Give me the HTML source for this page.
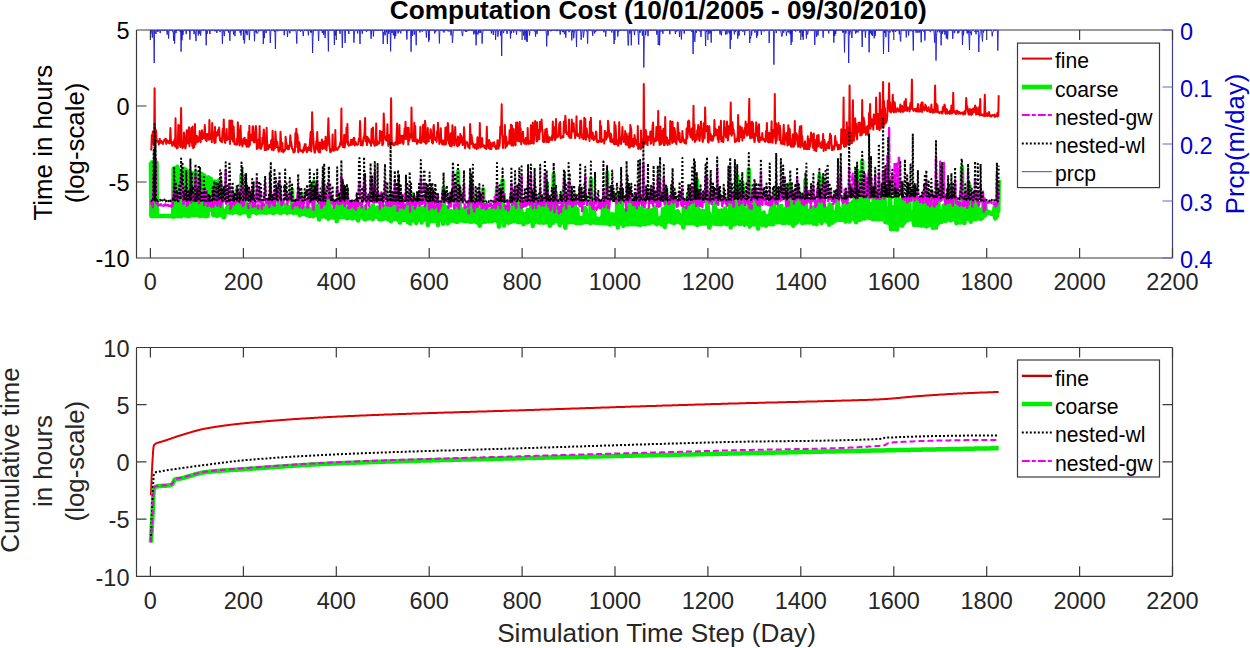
<!DOCTYPE html><html><head><meta charset="utf-8"><style>html,body{margin:0;padding:0;background:#fff;width:1250px;height:648px;overflow:hidden;}svg{position:absolute;left:0;top:0;display:block}text{font-family:"Liberation Sans",sans-serif}</style></head><body>
<svg width="1250" height="648" viewBox="0 0 1250 648">
<defs><clipPath id="c1"><rect x="136.5" y="29.0" width="1036.0" height="229.0"/></clipPath><clipPath id="c2"><rect x="136.5" y="347.5" width="1036.0" height="228.8"/></clipPath></defs>
<path fill="none" stroke="#3a3a3a" stroke-width="1.2" d="M136.5 30.0 V258.0 H1172.5"/>
<path fill="none" stroke="#3a3a3a" stroke-width="1.2" d="M136.5 30.0 H1172.5"/>
<path fill="none" stroke="#3d3d8f" stroke-width="1.2" d="M1172.5 30.0 V258.0"/>
<path fill="none" stroke="#3a3a3a" stroke-width="1.2" d="M150.4 258.0v-10M150.4 30.0v10M243.4 258.0v-10M243.4 30.0v10M336.3 258.0v-10M336.3 30.0v10M429.2 258.0v-10M429.2 30.0v10M522.1 258.0v-10M522.1 30.0v10M615.0 258.0v-10M615.0 30.0v10M707.9 258.0v-10M707.9 30.0v10M800.8 258.0v-10M800.8 30.0v10M893.8 258.0v-10M893.8 30.0v10M986.7 258.0v-10M986.7 30.0v10M1079.6 258.0v-10M1079.6 30.0v10M1172.5 258.0v-10M1172.5 30.0v10"/>
<text x="150.4" y="290.2" font-size="23.5" fill="#262626" text-anchor="middle">0</text>
<text x="243.4" y="290.2" font-size="23.5" fill="#262626" text-anchor="middle">200</text>
<text x="336.3" y="290.2" font-size="23.5" fill="#262626" text-anchor="middle">400</text>
<text x="429.2" y="290.2" font-size="23.5" fill="#262626" text-anchor="middle">600</text>
<text x="522.1" y="290.2" font-size="23.5" fill="#262626" text-anchor="middle">800</text>
<text x="615.0" y="290.2" font-size="23.5" fill="#262626" text-anchor="middle">1000</text>
<text x="707.9" y="290.2" font-size="23.5" fill="#262626" text-anchor="middle">1200</text>
<text x="800.8" y="290.2" font-size="23.5" fill="#262626" text-anchor="middle">1400</text>
<text x="893.8" y="290.2" font-size="23.5" fill="#262626" text-anchor="middle">1600</text>
<text x="986.7" y="290.2" font-size="23.5" fill="#262626" text-anchor="middle">1800</text>
<text x="1079.6" y="290.2" font-size="23.5" fill="#262626" text-anchor="middle">2000</text>
<text x="1172.5" y="290.2" font-size="23.5" fill="#262626" text-anchor="middle">2200</text>
<path fill="none" stroke="#3a3a3a" stroke-width="1.2" d="M136.5 347.5 V576.3 H1172.5"/>
<path fill="none" stroke="#3a3a3a" stroke-width="1.2" d="M136.5 347.5 H1172.5"/>
<path fill="none" stroke="#3a3a3a" stroke-width="1.2" d="M1172.5 347.5 V576.3"/>
<path fill="none" stroke="#3a3a3a" stroke-width="1.2" d="M150.4 576.3v-10M150.4 347.5v10M243.4 576.3v-10M243.4 347.5v10M336.3 576.3v-10M336.3 347.5v10M429.2 576.3v-10M429.2 347.5v10M522.1 576.3v-10M522.1 347.5v10M615.0 576.3v-10M615.0 347.5v10M707.9 576.3v-10M707.9 347.5v10M800.8 576.3v-10M800.8 347.5v10M893.8 576.3v-10M893.8 347.5v10M986.7 576.3v-10M986.7 347.5v10M1079.6 576.3v-10M1079.6 347.5v10M1172.5 576.3v-10M1172.5 347.5v10"/>
<text x="150.4" y="608.5" font-size="23.5" fill="#262626" text-anchor="middle">0</text>
<text x="243.4" y="608.5" font-size="23.5" fill="#262626" text-anchor="middle">200</text>
<text x="336.3" y="608.5" font-size="23.5" fill="#262626" text-anchor="middle">400</text>
<text x="429.2" y="608.5" font-size="23.5" fill="#262626" text-anchor="middle">600</text>
<text x="522.1" y="608.5" font-size="23.5" fill="#262626" text-anchor="middle">800</text>
<text x="615.0" y="608.5" font-size="23.5" fill="#262626" text-anchor="middle">1000</text>
<text x="707.9" y="608.5" font-size="23.5" fill="#262626" text-anchor="middle">1200</text>
<text x="800.8" y="608.5" font-size="23.5" fill="#262626" text-anchor="middle">1400</text>
<text x="893.8" y="608.5" font-size="23.5" fill="#262626" text-anchor="middle">1600</text>
<text x="986.7" y="608.5" font-size="23.5" fill="#262626" text-anchor="middle">1800</text>
<text x="1079.6" y="608.5" font-size="23.5" fill="#262626" text-anchor="middle">2000</text>
<text x="1172.5" y="608.5" font-size="23.5" fill="#262626" text-anchor="middle">2200</text>
<path fill="none" stroke="#3a3a3a" stroke-width="1.2" d="M136.5 106.0h10M136.5 182.0h10"/>
<text x="129.5" y="39.2" font-size="23.5" fill="#000" text-anchor="end">5</text>
<text x="129.5" y="115.2" font-size="23.5" fill="#000" text-anchor="end">0</text>
<text x="129.5" y="191.2" font-size="23.5" fill="#000" text-anchor="end">-5</text>
<text x="129.5" y="267.2" font-size="23.5" fill="#000" text-anchor="end">-10</text>
<path fill="none" stroke="#6464d4" stroke-width="1.2" d="M1172.5 30.0h-10M1172.5 87.0h-10M1172.5 144.0h-10M1172.5 201.0h-10M1172.5 258.0h-10"/>
<text x="1180" y="39.5" font-size="23.5" fill="#0000d0">0</text>
<text x="1180" y="96.5" font-size="23.5" fill="#0000d0">0.1</text>
<text x="1180" y="153.5" font-size="23.5" fill="#0000d0">0.2</text>
<text x="1180" y="210.5" font-size="23.5" fill="#0000d0">0.3</text>
<text x="1180" y="267.5" font-size="23.5" fill="#0000d0">0.4</text>
<path fill="none" stroke="#3a3a3a" stroke-width="1.2" d="M136.5 404.7h10M1172.5 404.7h-10M136.5 461.9h10M1172.5 461.9h-10M136.5 519.1h10M1172.5 519.1h-10"/>
<text x="129.5" y="356.8" font-size="23.5" fill="#262626" text-anchor="end">10</text>
<text x="129.5" y="414.0" font-size="23.5" fill="#262626" text-anchor="end">5</text>
<text x="129.5" y="471.2" font-size="23.5" fill="#262626" text-anchor="end">0</text>
<text x="129.5" y="528.4" font-size="23.5" fill="#262626" text-anchor="end">-5</text>
<text x="129.5" y="585.6" font-size="23.5" fill="#262626" text-anchor="end">-10</text>
<g clip-path="url(#c1)" fill="none" stroke-linejoin="round">
<path stroke="#f00000" stroke-width="2" d="M150.9 150.4 151.4 148.9 151.8 135.1 152.3 143.2 152.8 131.6 153.2 132.4 153.7 145.0 154.2 133.6 154.6 88.2 155.1 142.7 155.5 129.3 156.0 131.1 156.5 137.7 156.9 140.0 157.4 141.6 157.9 142.2 158.3 141.2 158.8 144.5 159.3 143.2 159.7 138.8 160.2 140.3 160.7 141.5 161.1 142.9 161.6 140.9 162.1 141.9 162.5 141.7 163.0 144.0 163.4 142.1 163.9 141.1 164.4 139.5 164.8 139.3 165.3 140.7 165.8 138.7 166.2 143.9 166.7 140.8 167.2 141.4 167.6 140.4 168.1 142.8 168.6 141.3 169.0 141.1 169.5 143.5 169.9 143.0 170.4 127.9 170.9 139.3 171.3 143.2 171.8 142.9 172.3 145.7 172.7 144.7 173.2 141.6 173.7 144.4 174.1 145.0 174.6 139.2 175.1 146.4 175.5 118.2 176.0 143.6 176.5 147.2 176.9 148.4 177.4 146.0 177.8 147.7 178.3 124.9 178.8 132.6 179.2 125.6 179.7 143.4 180.2 146.6 180.6 146.9 181.1 108.1 181.6 144.7 182.0 143.2 182.5 148.2 183.0 146.2 183.4 146.8 183.9 132.5 184.4 136.3 184.8 143.8 185.3 148.4 185.7 147.1 186.2 142.7 186.7 130.2 187.1 135.6 187.6 142.4 188.1 143.5 188.5 131.3 189.0 127.3 189.5 146.2 189.9 133.9 190.4 139.6 190.9 141.9 191.3 128.1 191.8 136.5 192.2 145.9 192.7 126.6 193.2 148.2 193.6 145.9 194.1 147.3 194.6 143.7 195.0 124.0 195.5 144.4 196.0 141.7 196.4 140.2 196.9 135.8 197.4 137.3 197.8 142.2 198.3 139.3 198.8 138.3 199.2 140.8 199.7 131.0 200.1 137.7 200.6 142.2 201.1 138.4 201.5 138.1 202.0 130.2 202.5 139.0 202.9 136.3 203.4 133.5 203.9 138.1 204.3 133.5 204.8 125.0 205.3 137.1 205.7 140.1 206.2 140.5 206.7 141.0 207.1 134.0 207.6 138.6 208.0 134.1 208.5 135.8 209.0 139.7 209.4 120.0 209.9 134.5 210.4 137.1 210.8 139.0 211.3 134.2 211.8 142.3 212.2 123.0 212.7 137.8 213.2 133.7 213.6 132.5 214.1 141.0 214.5 142.9 215.0 127.0 215.5 142.6 215.9 136.5 216.4 132.7 216.9 132.4 217.3 135.8 217.8 132.9 218.3 129.7 218.7 135.1 219.2 127.4 219.7 137.8 220.1 140.5 220.6 138.5 221.1 141.5 221.5 137.9 222.0 142.2 222.4 132.6 222.9 128.7 223.4 131.0 223.8 119.4 224.3 140.3 224.8 142.0 225.2 142.9 225.7 133.9 226.2 139.3 226.6 128.9 227.1 140.1 227.6 137.6 228.0 139.0 228.5 138.4 229.0 139.3 229.4 120.4 229.9 143.9 230.3 131.8 230.8 139.6 231.3 120.5 231.7 131.8 232.2 120.7 232.7 137.8 233.1 141.6 233.6 126.4 234.1 137.2 234.5 144.2 235.0 143.9 235.5 144.3 235.9 144.2 236.4 144.8 236.8 138.4 237.3 144.5 237.8 122.2 238.2 128.6 238.7 130.2 239.2 138.4 239.6 145.5 240.1 143.7 240.6 125.7 241.0 139.0 241.5 141.1 242.0 144.0 242.4 146.4 242.9 143.7 243.4 138.7 243.8 141.1 244.3 143.5 244.7 137.8 245.2 144.1 245.7 144.6 246.1 139.8 246.6 146.8 247.1 146.6 247.5 142.1 248.0 144.3 248.5 132.1 248.9 146.7 249.4 125.7 249.9 144.8 250.3 139.8 250.8 138.8 251.2 134.7 251.7 138.6 252.2 140.6 252.6 126.7 253.1 126.3 253.6 136.0 254.0 142.5 254.5 140.2 255.0 141.9 255.4 133.2 255.9 126.0 256.4 132.9 256.8 149.0 257.3 147.3 257.8 148.4 258.2 139.7 258.7 146.5 259.1 146.6 259.6 126.0 260.1 148.5 260.5 148.5 261.0 148.8 261.5 144.8 261.9 146.2 262.4 137.7 262.9 143.6 263.3 135.3 263.8 129.4 264.3 134.7 264.7 149.9 265.2 145.0 265.7 144.8 266.1 150.0 266.6 127.7 267.0 140.0 267.5 145.9 268.0 149.4 268.4 148.6 268.9 146.9 269.4 145.0 269.8 147.4 270.3 144.7 270.8 146.1 271.2 140.2 271.7 149.8 272.2 144.1 272.6 130.8 273.1 142.4 273.5 150.3 274.0 145.5 274.5 145.3 274.9 148.2 275.4 131.4 275.9 138.0 276.3 147.1 276.8 143.3 277.3 141.9 277.7 146.3 278.2 149.1 278.7 151.7 279.1 150.8 279.6 148.3 280.1 147.3 280.5 131.7 281.0 140.3 281.4 151.5 281.9 150.7 282.4 143.1 282.8 150.9 283.3 152.2 283.8 149.9 284.2 151.1 284.7 150.8 285.2 149.3 285.6 136.7 286.1 142.4 286.6 143.2 287.0 148.5 287.5 145.8 288.0 149.3 288.4 145.7 288.9 149.2 289.3 146.6 289.8 145.8 290.3 135.2 290.7 140.4 291.2 142.4 291.7 146.0 292.1 148.8 292.6 148.5 293.1 150.3 293.5 152.5 294.0 150.4 294.5 152.1 294.9 151.1 295.4 132.9 295.8 147.1 296.3 128.8 296.8 137.0 297.2 133.9 297.7 137.0 298.2 152.3 298.6 149.4 299.1 142.0 299.6 143.7 300.0 150.7 300.5 150.6 301.0 150.6 301.4 150.9 301.9 150.2 302.4 151.3 302.8 152.4 303.3 151.7 303.7 147.3 304.2 150.5 304.7 144.3 305.1 144.2 305.6 144.2 306.1 149.3 306.5 150.8 307.0 152.2 307.5 148.0 307.9 150.6 308.4 148.2 308.9 147.0 309.3 150.1 309.8 143.8 310.3 137.4 310.7 131.9 311.2 151.4 311.6 146.9 312.1 112.2 312.6 129.0 313.0 134.0 313.5 141.5 314.0 147.7 314.4 151.7 314.9 152.7 315.4 148.9 315.8 149.7 316.3 141.1 316.8 147.9 317.2 132.0 317.7 143.3 318.1 150.2 318.6 151.9 319.1 142.6 319.5 151.3 320.0 152.5 320.5 148.2 320.9 142.5 321.4 148.3 321.9 139.4 322.3 142.2 322.8 149.0 323.3 147.5 323.7 144.9 324.2 141.6 324.7 143.1 325.1 148.6 325.6 136.7 326.0 147.9 326.5 150.4 327.0 141.2 327.4 145.6 327.9 134.0 328.4 118.2 328.8 134.3 329.3 139.6 329.8 149.2 330.2 152.2 330.7 151.4 331.2 151.4 331.6 149.0 332.1 149.9 332.6 134.6 333.0 150.5 333.5 148.7 333.9 150.8 334.4 146.4 334.9 150.1 335.3 130.1 335.8 149.0 336.3 149.4 336.7 148.3 337.2 150.0 337.7 148.7 338.1 148.5 338.6 147.7 339.1 146.5 339.5 146.9 340.0 143.9 340.4 142.0 340.9 144.6 341.4 108.6 341.8 141.6 342.3 144.7 342.8 146.9 343.2 147.1 343.7 146.2 344.2 134.8 344.6 147.5 345.1 144.1 345.6 137.1 346.0 141.5 346.5 127.4 347.0 142.4 347.4 123.9 347.9 144.6 348.3 141.8 348.8 145.7 349.3 145.1 349.7 145.3 350.2 145.1 350.7 145.1 351.1 139.8 351.6 142.9 352.1 140.1 352.5 144.6 353.0 143.0 353.5 138.7 353.9 137.7 354.4 138.2 354.8 145.4 355.3 141.9 355.8 142.3 356.2 144.5 356.7 144.4 357.2 144.8 357.6 144.3 358.1 144.3 358.6 140.7 359.0 138.3 359.5 141.1 360.0 121.0 360.4 129.8 360.9 145.2 361.4 142.1 361.8 141.3 362.3 145.4 362.7 145.2 363.2 139.9 363.7 137.1 364.1 138.0 364.6 131.4 365.1 118.0 365.5 141.3 366.0 139.9 366.5 136.8 366.9 145.1 367.4 136.9 367.9 138.0 368.3 141.7 368.8 138.9 369.3 141.7 369.7 141.7 370.2 143.4 370.6 140.4 371.1 145.8 371.6 128.9 372.0 136.5 372.5 142.8 373.0 127.5 373.4 137.0 373.9 142.2 374.4 145.3 374.8 145.7 375.3 145.1 375.8 144.2 376.2 123.5 376.7 144.9 377.1 140.6 377.6 144.5 378.1 143.6 378.5 142.6 379.0 142.2 379.5 143.4 379.9 130.8 380.4 133.3 380.9 136.3 381.3 140.7 381.8 131.7 382.3 145.3 382.7 142.4 383.2 144.1 383.7 113.4 384.1 122.5 384.6 137.4 385.0 136.3 385.5 139.5 386.0 140.1 386.4 140.7 386.9 140.4 387.4 124.3 387.8 137.1 388.3 145.8 388.8 141.9 389.2 143.3 389.7 135.1 390.2 142.9 390.6 145.3 391.1 98.3 391.6 137.4 392.0 143.7 392.5 144.6 392.9 143.2 393.4 143.6 393.9 145.2 394.3 145.2 394.8 143.0 395.3 142.4 395.7 144.3 396.2 143.7 396.7 133.9 397.1 123.6 397.6 144.6 398.1 130.9 398.5 143.0 399.0 142.1 399.4 124.9 399.9 143.3 400.4 137.5 400.8 139.8 401.3 135.8 401.8 142.4 402.2 137.9 402.7 135.8 403.2 144.0 403.6 142.2 404.1 137.3 404.6 128.6 405.0 136.7 405.5 121.7 406.0 139.1 406.4 131.8 406.9 127.8 407.3 135.2 407.8 134.6 408.3 144.6 408.7 127.7 409.2 140.7 409.7 137.9 410.1 136.5 410.6 134.0 411.1 137.4 411.5 107.4 412.0 136.3 412.5 140.2 412.9 141.2 413.4 136.7 413.9 139.1 414.3 122.8 414.8 141.3 415.2 125.9 415.7 141.4 416.2 141.6 416.6 142.0 417.1 143.9 417.6 139.5 418.0 141.8 418.5 141.2 419.0 141.5 419.4 142.3 419.9 141.1 420.4 126.7 420.8 143.1 421.3 141.5 421.7 142.3 422.2 138.8 422.7 136.5 423.1 124.7 423.6 140.2 424.1 141.7 424.5 142.2 425.0 120.7 425.5 125.4 425.9 143.7 426.4 143.2 426.9 142.2 427.3 141.1 427.8 128.1 428.3 140.9 428.7 141.5 429.2 136.3 429.6 134.9 430.1 138.0 430.6 129.3 431.0 131.3 431.5 138.4 432.0 142.6 432.4 142.6 432.9 143.4 433.4 127.4 433.8 125.0 434.3 136.8 434.8 137.5 435.2 140.0 435.7 137.9 436.2 139.2 436.6 141.8 437.1 131.2 437.5 135.4 438.0 122.8 438.5 133.3 438.9 138.4 439.4 144.0 439.9 140.0 440.3 140.6 440.8 128.3 441.3 142.3 441.7 142.1 442.2 144.4 442.7 140.4 443.1 142.7 443.6 140.8 444.0 144.7 444.5 142.2 445.0 142.2 445.4 127.7 445.9 144.4 446.4 135.0 446.8 127.1 447.3 140.2 447.8 122.9 448.2 125.6 448.7 143.2 449.2 143.8 449.6 144.4 450.1 146.0 450.6 133.3 451.0 136.5 451.5 146.2 451.9 145.4 452.4 125.2 452.9 131.0 453.3 136.5 453.8 142.9 454.3 145.5 454.7 144.3 455.2 127.1 455.7 141.9 456.1 142.3 456.6 139.5 457.1 146.0 457.5 146.3 458.0 136.6 458.4 141.5 458.9 145.5 459.4 138.9 459.8 143.8 460.3 133.9 460.8 140.8 461.2 135.7 461.7 142.5 462.2 137.5 462.6 144.9 463.1 144.8 463.6 144.2 464.0 127.2 464.5 135.9 465.0 148.2 465.4 141.0 465.9 143.6 466.3 143.6 466.8 142.6 467.3 142.3 467.7 146.4 468.2 144.7 468.7 147.4 469.1 146.3 469.6 148.6 470.1 124.0 470.5 135.7 471.0 144.1 471.5 135.0 471.9 138.0 472.4 143.3 472.9 142.6 473.3 147.3 473.8 146.2 474.2 145.6 474.7 148.1 475.2 144.3 475.6 147.3 476.1 147.2 476.6 149.1 477.0 145.4 477.5 137.3 478.0 139.7 478.4 148.2 478.9 144.8 479.4 145.0 479.8 123.0 480.3 143.9 480.7 147.6 481.2 144.3 481.7 140.9 482.1 138.1 482.6 146.5 483.1 146.4 483.5 145.9 484.0 145.2 484.5 147.8 484.9 147.3 485.4 148.1 485.9 145.4 486.3 149.0 486.8 126.8 487.3 145.9 487.7 145.5 488.2 145.5 488.6 148.0 489.1 140.1 489.6 141.8 490.0 148.9 490.5 142.8 491.0 144.3 491.4 149.0 491.9 144.1 492.4 144.0 492.8 142.7 493.3 146.0 493.8 144.6 494.2 142.3 494.7 145.4 495.2 147.5 495.6 146.0 496.1 149.0 496.5 148.1 497.0 146.0 497.5 140.3 497.9 143.5 498.4 148.8 498.9 140.5 499.3 146.8 499.8 143.0 500.3 126.5 500.7 129.0 501.2 127.5 501.7 104.3 502.1 134.2 502.6 138.9 503.0 148.0 503.5 136.6 504.0 142.1 504.4 142.6 504.9 125.0 505.4 147.9 505.8 136.3 506.3 138.3 506.8 146.1 507.2 144.8 507.7 142.3 508.2 142.4 508.6 142.9 509.1 143.8 509.6 130.3 510.0 134.1 510.5 143.6 510.9 124.7 511.4 145.4 511.9 125.4 512.3 136.2 512.8 132.4 513.3 145.8 513.7 129.0 514.2 142.9 514.7 144.0 515.1 137.3 515.6 145.2 516.1 122.4 516.5 140.4 517.0 140.4 517.5 122.6 517.9 133.2 518.4 141.3 518.8 136.0 519.3 141.4 519.8 122.0 520.2 137.3 520.7 128.6 521.2 144.2 521.6 140.8 522.1 141.2 522.6 135.3 523.0 131.7 523.5 141.1 524.0 142.9 524.4 143.6 524.9 142.1 525.3 140.0 525.8 138.0 526.3 144.3 526.7 140.5 527.2 143.3 527.7 128.1 528.1 142.1 528.6 143.9 529.1 140.9 529.5 141.2 530.0 142.0 530.5 143.6 530.9 125.2 531.4 130.2 531.9 143.0 532.3 141.3 532.8 122.6 533.2 140.5 533.7 143.6 534.2 136.1 534.6 132.4 535.1 121.0 535.6 132.2 536.0 126.6 536.5 141.2 537.0 122.2 537.4 141.2 537.9 137.6 538.4 131.4 538.8 129.7 539.3 139.1 539.8 122.0 540.2 131.8 540.7 123.6 541.1 127.9 541.6 119.5 542.1 129.7 542.5 129.9 543.0 141.6 543.5 138.7 543.9 142.2 544.4 139.4 544.9 134.5 545.3 129.5 545.8 137.0 546.3 142.1 546.7 128.8 547.2 135.5 547.6 134.7 548.1 142.2 548.6 141.7 549.0 141.9 549.5 137.2 550.0 139.1 550.4 139.5 550.9 139.7 551.4 139.8 551.8 136.1 552.3 140.0 552.8 121.5 553.2 131.6 553.7 126.8 554.2 136.2 554.6 138.8 555.1 140.1 555.5 135.6 556.0 119.0 556.5 137.7 556.9 136.1 557.4 135.5 557.9 136.5 558.3 136.8 558.8 130.3 559.3 123.2 559.7 134.8 560.2 122.0 560.7 138.2 561.1 136.7 561.6 136.0 562.0 137.5 562.5 137.4 563.0 136.1 563.4 137.1 563.9 121.5 564.4 128.8 564.8 132.3 565.3 115.7 565.8 121.7 566.2 131.7 566.7 134.0 567.2 132.5 567.6 132.6 568.1 134.0 568.6 136.2 569.0 119.5 569.5 137.8 569.9 134.2 570.4 134.6 570.9 137.3 571.3 137.9 571.8 119.5 572.3 131.3 572.7 131.8 573.2 128.4 573.7 123.2 574.1 131.2 574.6 131.2 575.1 138.2 575.5 135.9 576.0 135.1 576.5 116.2 576.9 132.6 577.4 134.4 577.8 136.0 578.3 134.6 578.8 135.8 579.2 133.9 579.7 138.3 580.2 121.0 580.6 134.2 581.1 120.5 581.6 131.3 582.0 137.4 582.5 135.3 583.0 137.7 583.4 139.2 583.9 137.1 584.3 117.8 584.8 121.2 585.3 118.9 585.7 139.8 586.2 139.3 586.7 128.5 587.1 132.3 587.6 136.1 588.1 135.9 588.5 137.2 589.0 135.4 589.5 140.9 589.9 121.5 590.4 127.5 590.9 117.8 591.3 135.7 591.8 138.7 592.2 138.1 592.7 132.4 593.2 137.9 593.6 140.2 594.1 139.6 594.6 139.3 595.0 136.1 595.5 135.9 596.0 131.5 596.4 132.3 596.9 141.3 597.4 142.1 597.8 141.6 598.3 142.3 598.8 140.7 599.2 141.4 599.7 141.5 600.1 121.0 600.6 134.6 601.1 126.1 601.5 142.1 602.0 139.3 602.5 141.3 602.9 140.0 603.4 139.4 603.9 139.5 604.3 143.6 604.8 130.7 605.3 135.7 605.7 135.4 606.2 139.6 606.6 132.7 607.1 133.5 607.6 137.3 608.0 120.8 608.5 124.3 609.0 131.4 609.4 132.7 609.9 137.6 610.4 141.7 610.8 133.7 611.3 135.7 611.8 142.0 612.2 141.6 612.7 142.1 613.2 142.7 613.6 139.0 614.1 144.1 614.5 122.1 615.0 144.3 615.5 125.2 615.9 131.7 616.4 143.9 616.9 141.6 617.3 140.1 617.8 145.5 618.3 145.7 618.7 144.2 619.2 122.3 619.7 135.9 620.1 142.5 620.6 143.1 621.1 143.9 621.5 140.6 622.0 135.5 622.4 127.1 622.9 138.3 623.4 136.3 623.8 141.9 624.3 136.9 624.8 140.3 625.2 130.9 625.7 144.6 626.2 144.5 626.6 133.7 627.1 140.7 627.6 144.9 628.0 136.4 628.5 139.0 628.9 147.5 629.4 132.9 629.9 147.5 630.3 125.0 630.8 127.4 631.3 129.9 631.7 146.1 632.2 142.4 632.7 146.3 633.1 138.9 633.6 146.7 634.1 145.4 634.5 135.1 635.0 139.2 635.5 139.9 635.9 143.7 636.4 144.3 636.8 143.9 637.3 145.7 637.8 126.0 638.2 148.9 638.7 147.4 639.2 144.1 639.6 148.0 640.1 147.3 640.6 149.3 641.0 130.6 641.5 148.3 642.0 145.0 642.4 138.9 642.9 146.4 643.4 145.4 643.8 84.1 644.3 144.4 644.7 144.2 645.2 142.1 645.7 130.1 646.1 131.8 646.6 143.8 647.1 142.5 647.5 145.1 648.0 136.2 648.5 138.6 648.9 140.0 649.4 138.2 649.9 139.1 650.3 131.5 650.8 143.8 651.2 143.2 651.7 138.7 652.2 131.7 652.6 126.1 653.1 122.4 653.6 144.9 654.0 140.3 654.5 140.9 655.0 138.8 655.4 140.4 655.9 141.2 656.4 127.0 656.8 134.6 657.3 140.0 657.8 138.7 658.2 111.0 658.7 138.7 659.1 141.0 659.6 145.0 660.1 142.0 660.5 126.5 661.0 144.1 661.5 130.7 661.9 142.6 662.4 138.8 662.9 141.7 663.3 128.7 663.8 145.0 664.3 142.6 664.7 145.0 665.2 117.0 665.6 136.4 666.1 137.7 666.6 143.0 667.0 137.6 667.5 144.9 668.0 142.8 668.4 140.6 668.9 142.8 669.4 139.7 669.8 144.3 670.3 121.1 670.8 121.7 671.2 137.5 671.7 137.7 672.2 143.0 672.6 121.7 673.1 139.1 673.5 141.7 674.0 141.9 674.5 128.1 674.9 130.6 675.4 140.0 675.9 141.8 676.3 144.0 676.8 140.3 677.3 135.8 677.7 122.6 678.2 130.3 678.7 133.6 679.1 140.4 679.6 133.1 680.1 142.3 680.5 141.8 681.0 141.6 681.4 142.2 681.9 140.8 682.4 131.0 682.8 136.8 683.3 139.0 683.8 139.7 684.2 142.4 684.7 143.1 685.2 142.3 685.6 140.0 686.1 143.6 686.6 128.4 687.0 138.7 687.5 137.3 687.9 121.4 688.4 131.7 688.9 120.5 689.3 122.1 689.8 134.8 690.3 132.9 690.7 137.3 691.2 137.2 691.7 128.6 692.1 137.5 692.6 139.9 693.1 130.8 693.5 105.7 694.0 139.1 694.5 124.6 694.9 142.0 695.4 140.7 695.8 139.0 696.3 134.5 696.8 139.7 697.2 130.3 697.7 131.1 698.2 125.1 698.6 127.2 699.1 139.8 699.6 140.8 700.0 137.1 700.5 128.9 701.0 121.6 701.4 130.5 701.9 129.5 702.4 140.7 702.8 141.9 703.3 137.7 703.7 123.3 704.2 130.8 704.7 137.9 705.1 107.4 705.6 125.6 706.1 131.3 706.5 126.7 707.0 129.3 707.5 126.1 707.9 141.6 708.4 142.6 708.9 140.0 709.3 126.2 709.8 133.4 710.2 139.4 710.7 134.0 711.2 140.4 711.6 135.7 712.1 136.0 712.6 140.7 713.0 139.7 713.5 137.2 714.0 135.5 714.4 119.9 714.9 131.9 715.4 135.5 715.8 129.0 716.3 135.1 716.8 134.5 717.2 130.1 717.7 139.2 718.1 136.6 718.6 142.2 719.1 126.4 719.5 134.1 720.0 132.7 720.5 138.9 720.9 120.7 721.4 141.6 721.9 139.6 722.3 138.4 722.8 137.1 723.3 142.1 723.7 136.1 724.2 121.1 724.7 133.8 725.1 127.8 725.6 133.1 726.0 137.4 726.5 133.5 727.0 121.5 727.4 128.4 727.9 140.5 728.4 135.7 728.8 134.6 729.3 125.8 729.8 128.3 730.2 133.7 730.7 102.4 731.2 131.5 731.6 135.7 732.1 133.8 732.5 122.3 733.0 129.5 733.5 129.3 733.9 132.7 734.4 134.3 734.9 142.0 735.3 141.2 735.8 141.5 736.3 139.3 736.7 141.3 737.2 139.4 737.7 135.2 738.1 115.0 738.6 137.6 739.1 141.4 739.5 138.1 740.0 126.3 740.4 131.8 740.9 137.0 741.4 134.6 741.8 127.4 742.3 140.4 742.8 130.5 743.2 134.0 743.7 135.0 744.2 137.8 744.6 128.1 745.1 133.8 745.6 121.4 746.0 130.7 746.5 123.9 747.0 135.7 747.4 134.7 747.9 134.8 748.3 126.6 748.8 118.6 749.3 98.8 749.7 134.2 750.2 138.3 750.7 122.5 751.1 132.6 751.6 137.8 752.1 121.8 752.5 137.4 753.0 122.9 753.5 134.7 753.9 137.4 754.4 141.9 754.8 141.2 755.3 133.5 755.8 134.6 756.2 122.3 756.7 128.9 757.2 136.3 757.6 126.8 758.1 140.4 758.6 141.6 759.0 124.2 759.5 142.0 760.0 139.3 760.4 140.2 760.9 139.4 761.4 136.9 761.8 139.7 762.3 133.1 762.7 139.5 763.2 139.4 763.7 138.8 764.1 140.5 764.6 139.9 765.1 141.8 765.5 140.7 766.0 131.1 766.5 136.0 766.9 123.1 767.4 141.0 767.9 139.8 768.3 142.4 768.8 141.8 769.2 132.7 769.7 135.7 770.2 142.3 770.6 134.3 771.1 135.7 771.6 121.3 772.0 141.9 772.5 142.8 773.0 137.3 773.4 130.0 773.9 133.4 774.4 136.4 774.8 94.0 775.3 138.5 775.8 143.5 776.2 123.5 776.7 140.8 777.1 133.5 777.6 133.0 778.1 131.0 778.5 123.1 779.0 131.4 779.5 139.9 779.9 125.7 780.4 132.6 780.9 143.1 781.3 143.7 781.8 143.0 782.3 141.2 782.7 143.9 783.2 135.3 783.7 124.8 784.1 133.4 784.6 144.6 785.0 134.8 785.5 138.4 786.0 139.5 786.4 133.1 786.9 140.2 787.4 145.5 787.8 136.9 788.3 125.3 788.8 129.8 789.2 144.7 789.7 128.9 790.2 136.9 790.6 139.6 791.1 146.7 791.5 146.8 792.0 146.1 792.5 142.6 792.9 134.2 793.4 146.7 793.9 146.3 794.3 145.6 794.8 121.0 795.3 144.2 795.7 132.7 796.2 133.6 796.7 139.3 797.1 134.8 797.6 141.0 798.1 146.8 798.5 144.3 799.0 145.9 799.4 131.2 799.9 126.6 800.4 147.6 800.8 145.9 801.3 125.9 801.8 138.6 802.2 136.3 802.7 144.9 803.2 146.9 803.6 143.5 804.1 149.1 804.6 146.9 805.0 141.2 805.5 144.8 806.0 149.0 806.4 147.7 806.9 146.3 807.3 149.1 807.8 136.2 808.3 147.9 808.7 147.0 809.2 149.3 809.7 139.3 810.1 146.1 810.6 140.5 811.1 132.4 811.5 137.1 812.0 134.6 812.5 140.4 812.9 147.7 813.4 139.5 813.8 133.6 814.3 150.1 814.8 150.2 815.2 139.9 815.7 141.3 816.2 151.1 816.6 147.0 817.1 135.5 817.6 144.7 818.0 146.5 818.5 134.9 819.0 143.0 819.4 141.5 819.9 143.3 820.4 147.3 820.8 146.0 821.3 148.0 821.7 145.1 822.2 141.2 822.7 145.5 823.1 133.9 823.6 151.0 824.1 145.5 824.5 140.0 825.0 144.7 825.5 144.7 825.9 150.1 826.4 147.4 826.9 147.0 827.3 143.6 827.8 147.9 828.3 142.1 828.7 142.2 829.2 148.4 829.6 139.4 830.1 133.7 830.6 139.8 831.0 135.4 831.5 144.7 832.0 150.1 832.4 145.9 832.9 146.5 833.4 149.6 833.8 149.6 834.3 148.2 834.8 143.0 835.2 136.1 835.7 141.6 836.1 145.2 836.6 141.6 837.1 146.0 837.5 146.2 838.0 149.5 838.5 145.0 838.9 144.8 839.4 148.1 839.9 148.9 840.3 148.6 840.8 148.6 841.3 129.3 841.7 140.1 842.2 135.7 842.7 143.4 843.1 137.9 843.6 97.6 844.0 146.5 844.5 146.9 845.0 144.8 845.4 129.9 845.9 140.2 846.4 146.2 846.8 122.2 847.3 139.9 847.8 144.0 848.2 140.9 848.7 129.7 849.2 125.5 849.6 85.6 850.1 143.8 850.6 133.5 851.0 132.9 851.5 135.8 851.9 143.2 852.4 122.4 852.9 100.3 853.3 130.0 853.8 141.0 854.3 136.6 854.7 136.1 855.2 118.2 855.7 132.9 856.1 123.8 856.6 131.5 857.1 139.5 857.5 129.5 858.0 132.2 858.4 122.7 858.9 131.0 859.4 127.9 859.8 122.6 860.3 135.4 860.8 131.2 861.2 134.3 861.7 134.9 862.2 100.0 862.6 131.6 863.1 132.9 863.6 117.4 864.0 120.6 864.5 123.0 865.0 132.1 865.4 129.4 865.9 134.8 866.3 127.4 866.8 127.4 867.3 126.1 867.7 129.8 868.2 135.5 868.7 126.5 869.1 113.0 869.6 120.6 870.1 104.0 870.5 128.7 871.0 118.5 871.5 124.3 871.9 119.3 872.4 126.5 872.8 121.0 873.3 129.6 873.8 114.6 874.2 123.0 874.7 124.4 875.2 116.1 875.6 123.1 876.1 97.5 876.6 117.9 877.0 129.1 877.5 123.4 878.0 113.9 878.4 118.5 878.9 127.8 879.4 130.2 879.8 92.8 880.3 107.2 880.7 128.5 881.2 125.1 881.7 110.1 882.1 119.3 882.6 126.3 883.1 82.0 883.5 127.4 884.0 101.0 884.5 124.8 884.9 107.8 885.4 118.1 885.9 122.8 886.3 121.7 886.8 120.7 887.3 115.8 887.7 100.8 888.2 105.7 888.6 107.2 889.1 83.2 889.6 111.4 890.0 102.3 890.5 107.0 891.0 112.5 891.4 108.6 891.9 110.9 892.4 102.7 892.8 94.7 893.3 111.0 893.8 112.4 894.2 111.8 894.7 102.3 895.1 106.9 895.6 111.5 896.1 112.0 896.5 110.2 897.0 109.7 897.5 108.3 897.9 110.8 898.4 109.2 898.9 111.5 899.3 109.8 899.8 110.6 900.3 104.6 900.7 111.9 901.2 109.1 901.7 111.3 902.1 106.0 902.6 109.5 903.0 111.9 903.5 108.0 904.0 111.0 904.4 101.6 904.9 110.6 905.4 109.3 905.8 99.0 906.3 108.2 906.8 108.1 907.2 111.1 907.7 107.3 908.2 109.2 908.6 109.4 909.1 108.8 909.6 111.5 910.0 106.3 910.5 102.8 910.9 108.9 911.4 102.3 911.9 79.6 912.3 107.2 912.8 108.7 913.3 110.5 913.7 110.9 914.2 110.2 914.7 109.0 915.1 110.0 915.6 109.3 916.1 111.6 916.5 108.6 917.0 108.3 917.4 111.2 917.9 104.1 918.4 111.6 918.8 111.4 919.3 109.9 919.8 111.6 920.2 111.5 920.7 104.6 921.2 109.5 921.6 102.6 922.1 112.0 922.6 102.4 923.0 109.1 923.5 108.6 924.0 107.8 924.4 110.4 924.9 109.6 925.3 104.6 925.8 105.8 926.3 107.5 926.7 109.7 927.2 111.3 927.7 110.2 928.1 109.3 928.6 107.3 929.1 110.1 929.5 111.7 930.0 111.8 930.5 112.2 930.9 111.4 931.4 104.6 931.9 111.1 932.3 111.8 932.8 112.8 933.2 112.5 933.7 109.6 934.2 112.3 934.6 109.5 935.1 85.6 935.6 111.7 936.0 107.5 936.5 103.9 937.0 112.0 937.4 105.2 937.9 111.8 938.4 112.4 938.8 111.8 939.3 113.3 939.7 112.9 940.2 112.4 940.7 112.2 941.1 111.5 941.6 112.5 942.1 113.6 942.5 113.5 943.0 107.1 943.5 109.2 943.9 111.2 944.4 104.5 944.9 105.5 945.3 112.9 945.8 113.7 946.3 112.1 946.7 109.1 947.2 110.7 947.6 113.6 948.1 111.6 948.6 112.7 949.0 112.5 949.5 113.6 950.0 110.6 950.4 111.2 950.9 113.7 951.4 105.5 951.8 113.2 952.3 113.3 952.8 111.6 953.2 92.8 953.7 112.0 954.2 111.7 954.6 110.8 955.1 113.2 955.5 113.5 956.0 114.1 956.5 112.6 956.9 110.5 957.4 112.0 957.9 111.6 958.3 113.7 958.8 111.7 959.3 112.0 959.7 112.4 960.2 113.9 960.7 112.8 961.1 112.8 961.6 113.3 962.0 112.7 962.5 112.5 963.0 114.3 963.4 114.5 963.9 112.3 964.4 111.8 964.8 111.0 965.3 114.0 965.8 109.2 966.2 98.0 966.7 105.6 967.2 106.5 967.6 108.1 968.1 112.0 968.6 114.4 969.0 113.8 969.5 114.5 969.9 109.0 970.4 112.6 970.9 112.9 971.3 114.9 971.8 109.6 972.3 114.0 972.7 112.7 973.2 108.6 973.7 110.0 974.1 112.1 974.6 109.6 975.1 105.5 975.5 107.9 976.0 114.5 976.4 107.6 976.9 108.0 977.4 114.1 977.8 110.0 978.3 113.3 978.8 114.1 979.2 106.7 979.7 115.5 980.2 99.0 980.6 114.9 981.1 115.0 981.6 114.4 982.0 114.6 982.5 115.4 983.0 114.6 983.4 115.4 983.9 115.1 984.3 116.1 984.8 94.7 985.3 114.6 985.7 115.9 986.2 115.1 986.7 115.0 987.1 113.2 987.6 116.1 988.1 115.6 988.5 114.3 989.0 112.1 989.5 114.3 989.9 116.1 990.4 116.4 990.9 115.7 991.3 116.5 991.8 115.2 992.2 115.6 992.7 115.0 993.2 115.7 993.6 115.7 994.1 115.6 994.6 114.5 995.0 116.7 995.5 116.5 996.0 115.5 996.4 115.8 996.9 115.7 997.4 112.8 997.8 116.4 998.3 115.9 998.7 95.2"/>
<path stroke="#00ee00" stroke-width="4.5" d="M150.9 162.5 151.4 216.0 151.8 162.5 152.3 216.0 152.8 162.5 153.2 216.0 153.7 162.5 154.2 216.0 154.6 162.5 155.1 216.0 155.5 162.5 156.0 216.0 156.5 162.5 156.9 216.0 157.4 216.0 157.9 216.0 158.3 216.0 158.8 216.0 159.3 216.0 159.7 216.0 160.2 216.0 160.7 216.0 161.1 216.0 161.6 216.0 162.1 216.0 162.5 216.0 163.0 216.0 163.4 216.0 163.9 216.0 164.4 216.0 164.8 216.0 165.3 216.0 165.8 216.0 166.2 216.0 166.7 216.0 167.2 216.0 167.6 216.0 168.1 216.0 168.6 216.0 169.0 216.0 169.5 216.0 169.9 216.0 170.4 216.0 170.9 216.0 171.3 216.0 171.8 216.0 172.3 216.0 172.7 216.5 173.2 216.1 173.7 168.6 174.1 169.4 174.6 216.4 175.1 168.2 175.5 173.6 176.0 208.2 176.5 216.0 176.9 168.7 177.4 166.8 177.8 216.3 178.3 204.0 178.8 188.2 179.2 215.2 179.7 170.7 180.2 214.7 180.6 215.6 181.1 216.2 181.6 215.9 182.0 215.0 182.5 193.2 183.0 205.8 183.4 187.8 183.9 168.8 184.4 172.2 184.8 169.2 185.3 215.4 185.7 169.8 186.2 215.1 186.7 171.3 187.1 171.3 187.6 216.1 188.1 214.5 188.5 215.3 189.0 216.2 189.5 174.5 189.9 215.8 190.4 215.4 190.9 214.7 191.3 174.0 191.8 214.8 192.2 175.1 192.7 174.8 193.2 173.3 193.6 215.4 194.1 178.2 194.6 174.0 195.0 173.9 195.5 206.0 196.0 172.4 196.4 174.8 196.9 215.1 197.4 176.3 197.8 176.2 198.3 176.3 198.8 175.4 199.2 184.9 199.7 215.1 200.1 216.2 200.6 215.1 201.1 174.9 201.5 176.6 202.0 174.3 202.5 176.2 202.9 215.4 203.4 214.8 203.9 211.3 204.3 175.5 204.8 216.1 205.3 215.5 205.7 180.3 206.2 215.3 206.7 216.0 207.1 178.9 207.6 216.0 208.0 179.7 208.5 177.4 209.0 181.5 209.4 178.9 209.9 179.3 210.4 180.5 210.8 178.8 211.3 182.3 211.8 209.9 212.2 198.2 212.7 183.4 213.2 214.8 213.6 215.0 214.1 195.9 214.5 182.3 215.0 181.6 215.5 214.3 215.9 215.4 216.4 215.6 216.9 183.5 217.3 216.0 217.8 205.0 218.3 215.1 218.7 180.4 219.2 181.7 219.7 200.2 220.1 181.1 220.6 214.7 221.1 185.0 221.5 205.4 222.0 215.2 222.4 214.5 222.9 214.3 223.4 217.0 223.8 217.0 224.3 217.0 224.8 210.7 225.2 210.8 225.7 211.1 226.2 210.0 226.6 212.2 227.1 208.0 227.6 210.5 228.0 206.1 228.5 211.4 229.0 206.4 229.4 212.5 229.9 212.3 230.3 212.4 230.8 208.2 231.3 211.2 231.7 212.0 232.2 212.3 232.7 211.4 233.1 212.8 233.6 197.0 234.1 208.0 234.5 210.5 235.0 198.7 235.5 211.6 235.9 207.1 236.4 207.9 236.8 190.2 237.3 212.4 237.8 211.2 238.2 212.3 238.7 210.0 239.2 211.1 239.6 210.8 240.1 213.5 240.6 206.4 241.0 207.5 241.5 175.1 242.0 212.5 242.4 210.4 242.9 205.8 243.4 211.4 243.8 210.3 244.3 212.1 244.7 197.5 245.2 189.9 245.7 210.6 246.1 212.1 246.6 209.9 247.1 211.2 247.5 210.1 248.0 206.8 248.5 211.5 248.9 216.2 249.4 210.9 249.9 210.9 250.3 211.6 250.8 212.5 251.2 206.1 251.7 210.3 252.2 211.4 252.6 211.3 253.1 210.2 253.6 210.2 254.0 212.1 254.5 211.8 255.0 211.5 255.4 207.8 255.9 206.7 256.4 211.7 256.8 213.4 257.3 207.4 257.8 211.1 258.2 210.8 258.7 209.9 259.1 207.9 259.6 208.2 260.1 207.4 260.5 212.5 261.0 208.4 261.5 209.3 261.9 211.4 262.4 211.2 262.9 211.2 263.3 210.7 263.8 212.4 264.3 211.2 264.7 212.4 265.2 208.3 265.7 208.5 266.1 212.5 266.6 212.7 267.0 205.9 267.5 212.1 268.0 207.8 268.4 206.9 268.9 209.3 269.4 212.2 269.8 211.1 270.3 207.1 270.8 211.3 271.2 211.2 271.7 212.4 272.2 211.2 272.6 197.5 273.1 211.8 273.5 213.0 274.0 211.4 274.5 211.0 274.9 211.0 275.4 211.4 275.9 206.6 276.3 211.7 276.8 206.7 277.3 207.5 277.7 208.1 278.2 209.7 278.7 207.0 279.1 191.2 279.6 209.8 280.1 212.9 280.5 205.3 281.0 212.7 281.4 212.3 281.9 210.0 282.4 211.6 282.8 211.2 283.3 212.0 283.8 212.1 284.2 211.9 284.7 211.7 285.2 210.9 285.6 205.3 286.1 210.6 286.6 212.3 287.0 212.8 287.5 211.4 288.0 207.6 288.4 210.8 288.9 210.3 289.3 212.2 289.8 210.0 290.3 207.5 290.7 212.0 291.2 210.9 291.7 205.5 292.1 190.2 292.6 211.7 293.1 207.2 293.5 212.9 294.0 212.6 294.5 207.9 294.9 208.5 295.4 205.4 295.8 212.2 296.3 212.1 296.8 212.6 297.2 212.3 297.7 211.3 298.2 207.2 298.6 207.9 299.1 207.3 299.6 212.4 300.0 215.1 300.5 212.2 301.0 209.3 301.4 195.2 301.9 210.7 302.4 212.1 302.8 209.5 303.3 212.3 303.7 214.0 304.2 212.0 304.7 213.9 305.1 209.7 305.6 211.0 306.1 207.4 306.5 209.9 307.0 215.1 307.5 213.5 307.9 206.8 308.4 212.5 308.9 213.8 309.3 214.5 309.8 215.9 310.3 215.7 310.7 214.6 311.2 215.2 311.6 209.2 312.1 213.9 312.6 209.6 313.0 216.3 313.5 211.0 314.0 181.7 314.4 214.9 314.9 207.0 315.4 214.7 315.8 210.3 316.3 207.5 316.8 214.7 317.2 211.1 317.7 213.9 318.1 215.8 318.6 205.6 319.1 219.5 319.5 211.7 320.0 213.1 320.5 209.5 320.9 214.8 321.4 212.5 321.9 216.6 322.3 211.2 322.8 210.3 323.3 212.7 323.7 216.2 324.2 207.1 324.7 210.4 325.1 215.4 325.6 207.1 326.0 217.0 326.5 212.6 327.0 192.5 327.4 206.6 327.9 216.9 328.4 218.7 328.8 217.0 329.3 194.0 329.8 215.4 330.2 216.4 330.7 216.6 331.2 216.0 331.6 212.5 332.1 217.5 332.6 212.9 333.0 209.7 333.5 217.5 333.9 213.2 334.4 217.6 334.9 207.5 335.3 206.4 335.8 208.6 336.3 208.9 336.7 221.1 337.2 219.5 337.7 216.5 338.1 215.8 338.6 197.4 339.1 217.6 339.5 214.2 340.0 210.9 340.4 216.2 340.9 215.4 341.4 209.5 341.8 216.9 342.3 197.1 342.8 217.2 343.2 216.3 343.7 211.7 344.2 192.2 344.6 206.0 345.1 216.6 345.6 215.8 346.0 217.6 346.5 216.8 347.0 218.2 347.4 213.0 347.9 208.7 348.3 218.0 348.8 214.6 349.3 210.7 349.7 208.4 350.2 206.7 350.7 207.5 351.1 207.3 351.6 211.8 352.1 218.4 352.5 217.4 353.0 206.5 353.5 217.5 353.9 217.7 354.4 217.0 354.8 215.5 355.3 217.2 355.8 205.6 356.2 212.8 356.7 218.4 357.2 214.4 357.6 217.0 358.1 220.5 358.6 208.7 359.0 211.3 359.5 217.2 360.0 214.9 360.4 206.4 360.9 213.5 361.4 207.5 361.8 216.0 362.3 216.7 362.7 216.6 363.2 217.0 363.7 218.5 364.1 218.9 364.6 207.2 365.1 217.2 365.5 218.4 366.0 219.0 366.5 217.1 366.9 212.8 367.4 217.0 367.9 213.0 368.3 216.7 368.8 218.1 369.3 209.7 369.7 212.9 370.2 216.4 370.6 216.3 371.1 213.2 371.6 208.5 372.0 215.3 372.5 219.1 373.0 205.8 373.4 218.4 373.9 216.5 374.4 210.0 374.8 214.8 375.3 209.3 375.8 216.3 376.2 215.5 376.7 211.7 377.1 216.0 377.6 207.4 378.1 217.2 378.5 218.2 379.0 218.8 379.5 208.7 379.9 212.6 380.4 219.4 380.9 198.8 381.3 207.7 381.8 219.5 382.3 217.3 382.7 218.5 383.2 218.5 383.7 217.3 384.1 217.4 384.6 218.3 385.0 217.5 385.5 206.3 386.0 217.8 386.4 218.1 386.9 216.7 387.4 212.5 387.8 210.7 388.3 219.6 388.8 207.3 389.2 219.5 389.7 197.5 390.2 219.2 390.6 206.3 391.1 221.2 391.6 209.8 392.0 211.0 392.5 194.8 392.9 212.3 393.4 217.8 393.9 217.5 394.3 218.6 394.8 212.3 395.3 218.8 395.7 215.8 396.2 217.6 396.7 216.0 397.1 194.6 397.6 219.5 398.1 209.4 398.5 218.5 399.0 208.3 399.4 210.0 399.9 222.6 400.4 219.5 400.8 195.7 401.3 217.3 401.8 220.0 402.2 217.9 402.7 218.9 403.2 212.0 403.6 215.1 404.1 218.6 404.6 219.9 405.0 209.3 405.5 219.6 406.0 219.9 406.4 212.5 406.9 219.7 407.3 217.0 407.8 221.9 408.3 199.1 408.7 216.7 409.2 219.7 409.7 219.1 410.1 223.5 410.6 218.9 411.1 194.2 411.5 220.0 412.0 220.3 412.5 219.9 412.9 210.8 413.4 220.5 413.9 211.5 414.3 206.8 414.8 219.5 415.2 219.1 415.7 220.6 416.2 223.0 416.6 209.2 417.1 220.1 417.6 220.4 418.0 210.6 418.5 209.4 419.0 210.3 419.4 216.6 419.9 207.6 420.4 216.4 420.8 216.0 421.3 218.6 421.7 222.5 422.2 208.5 422.7 216.1 423.1 220.5 423.6 217.6 424.1 219.6 424.5 218.6 425.0 207.5 425.5 216.3 425.9 208.8 426.4 218.2 426.9 208.0 427.3 207.2 427.8 224.9 428.3 196.6 428.7 218.3 429.2 221.8 429.6 212.4 430.1 221.2 430.6 219.1 431.0 195.5 431.5 219.2 432.0 208.3 432.4 220.5 432.9 220.8 433.4 209.3 433.8 215.5 434.3 221.1 434.8 219.1 435.2 219.7 435.7 219.6 436.2 212.8 436.6 207.8 437.1 219.0 437.5 221.0 438.0 225.0 438.5 207.8 438.9 219.9 439.4 217.2 439.9 213.5 440.3 219.7 440.8 207.5 441.3 211.0 441.7 216.0 442.2 211.1 442.7 210.9 443.1 223.8 443.6 188.1 444.0 218.4 444.5 220.3 445.0 212.2 445.4 209.4 445.9 209.9 446.4 207.5 446.8 208.5 447.3 220.2 447.8 223.4 448.2 219.8 448.7 220.7 449.2 213.3 449.6 221.6 450.1 221.2 450.6 214.3 451.0 211.1 451.5 220.7 451.9 219.7 452.4 217.9 452.9 219.1 453.3 217.0 453.8 219.7 454.3 220.7 454.7 221.3 455.2 221.4 455.7 192.9 456.1 220.0 456.6 221.8 457.1 221.9 457.5 209.0 458.0 171.7 458.4 208.3 458.9 220.2 459.4 189.9 459.8 213.6 460.3 220.5 460.8 220.5 461.2 214.5 461.7 209.6 462.2 219.9 462.6 219.7 463.1 220.5 463.6 221.0 464.0 212.8 464.5 208.6 465.0 208.6 465.4 218.7 465.9 214.6 466.3 221.2 466.8 221.2 467.3 209.4 467.7 220.3 468.2 220.5 468.7 216.9 469.1 221.3 469.6 208.0 470.1 221.7 470.5 215.5 471.0 208.2 471.5 183.0 471.9 221.8 472.4 195.4 472.9 220.3 473.3 219.6 473.8 208.1 474.2 221.2 474.7 220.7 475.2 215.6 475.6 221.7 476.1 218.3 476.6 209.4 477.0 219.1 477.5 218.2 478.0 220.3 478.4 223.4 478.9 209.4 479.4 220.8 479.8 225.8 480.3 220.2 480.7 220.8 481.2 216.7 481.7 221.8 482.1 211.1 482.6 221.9 483.1 189.6 483.5 215.2 484.0 216.2 484.5 216.1 484.9 214.8 485.4 221.8 485.9 220.3 486.3 209.8 486.8 214.8 487.3 210.4 487.7 221.1 488.2 212.7 488.6 221.4 489.1 214.7 489.6 220.5 490.0 219.7 490.5 209.9 491.0 219.8 491.4 221.1 491.9 219.8 492.4 221.3 492.8 213.4 493.3 218.0 493.8 219.6 494.2 209.8 494.7 220.1 495.2 210.1 495.6 212.6 496.1 214.1 496.5 220.1 497.0 188.7 497.5 221.5 497.9 208.5 498.4 217.6 498.9 226.6 499.3 211.5 499.8 191.7 500.3 221.7 500.7 221.0 501.2 215.1 501.7 219.2 502.1 218.4 502.6 180.6 503.0 221.9 503.5 221.0 504.0 225.5 504.4 220.0 504.9 208.5 505.4 220.1 505.8 221.7 506.3 220.7 506.8 217.4 507.2 214.4 507.7 220.5 508.2 212.8 508.6 222.8 509.1 218.1 509.6 212.1 510.0 215.7 510.5 221.2 510.9 221.7 511.4 211.5 511.9 217.8 512.3 220.9 512.8 197.9 513.3 221.3 513.7 221.3 514.2 221.3 514.7 220.0 515.1 220.8 515.6 211.9 516.1 211.6 516.5 220.1 517.0 219.9 517.5 193.8 517.9 222.3 518.4 219.9 518.8 192.6 519.3 220.2 519.8 222.1 520.2 219.7 520.7 221.9 521.2 209.4 521.6 212.7 522.1 216.8 522.6 222.3 523.0 220.0 523.5 224.3 524.0 220.6 524.4 220.9 524.9 214.3 525.3 220.4 525.8 215.2 526.3 216.0 526.7 222.4 527.2 218.5 527.7 210.0 528.1 220.2 528.6 221.6 529.1 220.7 529.5 212.5 530.0 221.3 530.5 215.7 530.9 221.0 531.4 194.9 531.9 214.9 532.3 193.2 532.8 226.0 533.2 198.0 533.7 220.6 534.2 209.3 534.6 221.2 535.1 221.8 535.6 213.4 536.0 210.5 536.5 220.4 537.0 218.6 537.4 210.9 537.9 220.7 538.4 222.2 538.8 222.1 539.3 195.8 539.8 222.5 540.2 220.5 540.7 222.4 541.1 221.7 541.6 222.2 542.1 198.9 542.5 220.8 543.0 221.0 543.5 222.6 543.9 218.8 544.4 197.9 544.9 222.5 545.3 212.4 545.8 208.3 546.3 218.9 546.7 183.5 547.2 216.1 547.6 222.6 548.1 221.7 548.6 221.6 549.0 209.7 549.5 220.7 550.0 225.7 550.4 216.5 550.9 209.7 551.4 215.6 551.8 208.5 552.3 196.2 552.8 195.7 553.2 222.8 553.7 174.6 554.2 210.3 554.6 221.1 555.1 220.7 555.5 210.4 556.0 194.1 556.5 209.0 556.9 221.3 557.4 217.6 557.9 214.2 558.3 219.9 558.8 213.5 559.3 221.2 559.7 225.1 560.2 210.6 560.7 212.2 561.1 216.8 561.6 212.6 562.0 217.5 562.5 210.1 563.0 220.8 563.4 222.6 563.9 189.8 564.4 219.4 564.8 222.6 565.3 227.7 565.8 216.3 566.2 221.4 566.7 221.0 567.2 209.1 567.6 222.1 568.1 222.3 568.6 217.1 569.0 221.2 569.5 221.2 569.9 193.0 570.4 222.1 570.9 221.8 571.3 219.2 571.8 192.7 572.3 222.2 572.7 221.6 573.2 210.9 573.7 209.6 574.1 222.0 574.6 194.8 575.1 220.1 575.5 222.7 576.0 210.5 576.5 223.0 576.9 220.9 577.4 209.3 577.8 222.5 578.3 222.0 578.8 219.6 579.2 223.1 579.7 220.9 580.2 222.0 580.6 223.0 581.1 218.1 581.6 221.5 582.0 221.0 582.5 222.7 583.0 221.0 583.4 218.9 583.9 222.3 584.3 222.0 584.8 208.1 585.3 216.7 585.7 209.0 586.2 221.8 586.7 219.7 587.1 219.3 587.6 222.1 588.1 216.3 588.5 221.5 589.0 221.1 589.5 220.9 589.9 222.8 590.4 223.1 590.9 179.6 591.3 216.5 591.8 221.1 592.2 221.5 592.7 222.2 593.2 217.4 593.6 222.4 594.1 211.9 594.6 217.1 595.0 217.2 595.5 222.4 596.0 222.7 596.4 221.1 596.9 221.2 597.4 221.8 597.8 218.8 598.3 222.7 598.8 222.3 599.2 222.8 599.7 221.4 600.1 222.6 600.6 222.1 601.1 221.2 601.5 221.0 602.0 217.1 602.5 223.2 602.9 208.9 603.4 223.1 603.9 221.3 604.3 223.1 604.8 211.3 605.3 210.0 605.7 223.4 606.2 223.2 606.6 214.9 607.1 173.1 607.6 223.4 608.0 208.4 608.5 222.4 609.0 220.1 609.4 222.0 609.9 224.5 610.4 221.8 610.8 222.5 611.3 223.3 611.8 223.4 612.2 214.3 612.7 221.4 613.2 223.0 613.6 222.8 614.1 223.7 614.5 222.2 615.0 214.4 615.5 223.1 615.9 222.2 616.4 217.7 616.9 218.8 617.3 194.7 617.8 227.4 618.3 197.5 618.7 222.5 619.2 223.7 619.7 221.4 620.1 211.6 620.6 222.2 621.1 223.2 621.5 189.3 622.0 222.1 622.4 222.7 622.9 223.0 623.4 225.9 623.8 222.2 624.3 224.0 624.8 210.7 625.2 210.3 625.7 222.6 626.2 222.6 626.6 224.1 627.1 220.1 627.6 209.9 628.0 224.5 628.5 223.5 628.9 187.8 629.4 211.0 629.9 218.1 630.3 224.0 630.8 221.2 631.3 209.6 631.7 224.0 632.2 196.1 632.7 209.9 633.1 224.3 633.6 208.8 634.1 223.8 634.5 224.2 635.0 220.1 635.5 219.6 635.9 195.5 636.4 219.3 636.8 223.3 637.3 211.4 637.8 224.6 638.2 224.4 638.7 219.1 639.2 208.2 639.6 224.8 640.1 221.9 640.6 224.9 641.0 216.3 641.5 223.0 642.0 223.2 642.4 207.9 642.9 212.6 643.4 224.0 643.8 221.2 644.3 219.4 644.7 222.2 645.2 220.7 645.7 224.3 646.1 223.5 646.6 223.4 647.1 209.9 647.5 223.3 648.0 221.8 648.5 210.5 648.9 222.5 649.4 223.5 649.9 221.6 650.3 222.6 650.8 214.4 651.2 210.5 651.7 216.2 652.2 222.3 652.6 210.2 653.1 210.3 653.6 218.6 654.0 219.0 654.5 207.5 655.0 223.0 655.4 207.7 655.9 210.2 656.4 222.7 656.8 224.3 657.3 221.8 657.8 219.4 658.2 219.6 658.7 221.8 659.1 222.8 659.6 222.4 660.1 219.2 660.5 217.7 661.0 222.6 661.5 224.5 661.9 222.0 662.4 222.4 662.9 209.3 663.3 215.1 663.8 218.3 664.3 219.3 664.7 227.0 665.2 218.5 665.6 221.7 666.1 188.1 666.6 222.3 667.0 218.0 667.5 219.5 668.0 214.2 668.4 212.9 668.9 212.7 669.4 214.4 669.8 212.2 670.3 221.8 670.8 196.8 671.2 222.3 671.7 221.8 672.2 213.4 672.6 209.8 673.1 196.5 673.5 222.6 674.0 223.1 674.5 222.4 674.9 219.2 675.4 222.1 675.9 221.1 676.3 222.0 676.8 218.8 677.3 221.3 677.7 211.2 678.2 221.1 678.7 214.0 679.1 214.3 679.6 222.1 680.1 221.9 680.5 222.8 681.0 221.9 681.4 223.5 681.9 221.5 682.4 221.5 682.8 223.5 683.3 227.4 683.8 208.1 684.2 212.2 684.7 222.9 685.2 222.5 685.6 223.3 686.1 223.4 686.6 223.1 687.0 222.7 687.5 221.7 687.9 195.5 688.4 193.6 688.9 223.2 689.3 221.6 689.8 221.5 690.3 218.8 690.7 223.2 691.2 216.2 691.7 222.2 692.1 215.2 692.6 222.0 693.1 222.5 693.5 197.3 694.0 223.5 694.5 221.8 694.9 223.7 695.4 223.6 695.8 188.4 696.3 217.5 696.8 180.1 697.2 225.0 697.7 221.7 698.2 209.6 698.6 214.7 699.1 210.5 699.6 210.4 700.0 210.4 700.5 223.6 701.0 223.8 701.4 219.2 701.9 214.8 702.4 212.5 702.8 223.6 703.3 211.0 703.7 223.4 704.2 223.4 704.7 218.9 705.1 218.7 705.6 223.4 706.1 217.2 706.5 222.5 707.0 223.1 707.5 195.8 707.9 211.9 708.4 220.8 708.9 213.1 709.3 227.6 709.8 215.0 710.2 225.2 710.7 223.2 711.2 222.0 711.6 223.3 712.1 221.8 712.6 219.4 713.0 221.9 713.5 223.3 714.0 214.6 714.4 195.1 714.9 223.8 715.4 207.9 715.8 224.0 716.3 212.3 716.8 223.0 717.2 223.9 717.7 210.7 718.1 218.2 718.6 223.8 719.1 223.3 719.5 221.1 720.0 222.9 720.5 224.2 720.9 223.1 721.4 210.6 721.9 223.9 722.3 222.1 722.8 216.5 723.3 223.1 723.7 220.9 724.2 216.7 724.7 222.9 725.1 208.5 725.6 213.2 726.0 213.7 726.5 224.3 727.0 219.6 727.4 223.4 727.9 223.2 728.4 222.0 728.8 219.8 729.3 217.6 729.8 220.8 730.2 185.2 730.7 227.5 731.2 223.5 731.6 224.1 732.1 222.5 732.5 193.7 733.0 195.5 733.5 222.7 733.9 211.0 734.4 224.5 734.9 215.2 735.3 223.8 735.8 223.6 736.3 196.8 736.7 222.9 737.2 175.9 737.7 210.3 738.1 212.3 738.6 214.1 739.1 222.3 739.5 224.1 740.0 190.0 740.4 215.5 740.9 216.9 741.4 207.1 741.8 223.4 742.3 182.8 742.8 222.5 743.2 188.8 743.7 213.6 744.2 223.9 744.6 224.7 745.1 210.2 745.6 221.8 746.0 213.8 746.5 223.3 747.0 215.4 747.4 223.4 747.9 217.5 748.3 224.1 748.8 169.4 749.3 211.8 749.7 226.6 750.2 215.8 750.7 208.9 751.1 224.6 751.6 217.1 752.1 223.4 752.5 224.2 753.0 192.1 753.5 223.1 753.9 224.5 754.4 210.7 754.8 222.9 755.3 222.7 755.8 192.0 756.2 217.5 756.7 208.9 757.2 208.9 757.6 223.7 758.1 228.6 758.6 217.8 759.0 195.1 759.5 223.0 760.0 223.2 760.4 222.4 760.9 224.0 761.4 223.5 761.8 216.8 762.3 224.9 762.7 222.7 763.2 223.6 763.7 212.5 764.1 223.8 764.6 217.9 765.1 224.3 765.5 223.3 766.0 225.7 766.5 223.7 766.9 223.6 767.4 220.5 767.9 216.1 768.3 223.2 768.8 221.7 769.2 223.8 769.7 223.2 770.2 224.1 770.6 210.9 771.1 209.7 771.6 207.7 772.0 224.3 772.5 223.8 773.0 213.7 773.4 224.1 773.9 191.7 774.4 222.6 774.8 217.6 775.3 213.9 775.8 216.1 776.2 212.1 776.7 211.0 777.1 222.3 777.6 220.0 778.1 222.1 778.5 209.2 779.0 206.6 779.5 222.1 779.9 219.2 780.4 211.0 780.9 220.9 781.3 206.1 781.8 216.9 782.3 222.9 782.7 215.6 783.2 219.5 783.7 222.3 784.1 217.8 784.6 223.1 785.0 222.3 785.5 214.4 786.0 208.3 786.4 221.9 786.9 222.3 787.4 186.4 787.8 215.8 788.3 205.7 788.8 223.0 789.2 215.3 789.7 206.8 790.2 184.0 790.6 207.6 791.1 219.1 791.5 212.3 792.0 219.4 792.5 224.8 792.9 222.8 793.4 225.7 793.9 224.1 794.3 223.3 794.8 223.4 795.3 190.5 795.7 222.1 796.2 222.8 796.7 222.1 797.1 214.2 797.6 221.9 798.1 187.3 798.5 212.4 799.0 216.3 799.4 205.0 799.9 218.4 800.4 194.7 800.8 216.6 801.3 208.2 801.8 210.4 802.2 223.0 802.7 207.2 803.2 222.9 803.6 222.5 804.1 222.0 804.6 220.8 805.0 206.6 805.5 180.1 806.0 214.5 806.4 222.6 806.9 221.2 807.3 211.2 807.8 215.7 808.3 215.7 808.7 218.9 809.2 220.8 809.7 222.5 810.1 210.2 810.6 221.7 811.1 221.1 811.5 220.9 812.0 222.1 812.5 207.4 812.9 221.3 813.4 223.6 813.8 219.7 814.3 221.4 814.8 212.5 815.2 207.0 815.7 221.3 816.2 215.4 816.6 224.2 817.1 210.2 817.6 205.6 818.0 221.0 818.5 220.5 819.0 215.3 819.4 175.8 819.9 212.9 820.4 190.9 820.8 210.4 821.3 210.7 821.7 223.0 822.2 214.0 822.7 221.4 823.1 179.1 823.6 193.8 824.1 217.8 824.5 211.6 825.0 211.8 825.5 210.2 825.9 208.5 826.4 219.9 826.9 221.1 827.3 221.6 827.8 221.4 828.3 218.7 828.7 220.2 829.2 224.8 829.6 204.4 830.1 210.3 830.6 220.2 831.0 221.3 831.5 205.4 832.0 221.3 832.4 222.7 832.9 221.3 833.4 218.2 833.8 213.4 834.3 212.7 834.8 221.0 835.2 219.3 835.7 214.6 836.1 220.2 836.6 211.0 837.1 219.5 837.5 193.7 838.0 210.8 838.5 208.6 838.9 208.1 839.4 219.9 839.9 210.3 840.3 219.9 840.8 219.3 841.3 213.9 841.7 216.1 842.2 219.8 842.7 215.6 843.1 219.6 843.6 205.3 844.0 205.7 844.5 209.7 845.0 204.3 845.4 221.6 845.9 201.1 846.4 220.5 846.8 220.6 847.3 220.3 847.8 204.3 848.2 216.6 848.7 204.1 849.2 219.7 849.6 221.5 850.1 218.2 850.6 212.3 851.0 214.7 851.5 207.7 851.9 203.7 852.4 202.2 852.9 215.6 853.3 206.2 853.8 218.1 854.3 219.7 854.7 194.1 855.2 218.5 855.7 218.4 856.1 222.2 856.6 218.2 857.1 170.7 857.5 212.8 858.0 208.2 858.4 220.1 858.9 218.3 859.4 219.6 859.8 219.8 860.3 219.5 860.8 219.5 861.2 208.5 861.7 206.6 862.2 161.1 862.6 217.2 863.1 218.1 863.6 215.5 864.0 181.3 864.5 218.6 865.0 215.7 865.4 214.9 865.9 214.5 866.3 217.6 866.8 202.6 867.3 212.3 867.7 187.0 868.2 211.9 868.7 208.1 869.1 217.9 869.6 217.4 870.1 210.1 870.5 209.8 871.0 204.3 871.5 217.6 871.9 215.9 872.4 219.0 872.8 218.0 873.3 215.0 873.8 192.5 874.2 207.1 874.7 219.2 875.2 187.2 875.6 214.7 876.1 209.2 876.6 190.9 877.0 219.0 877.5 217.6 878.0 207.0 878.4 208.5 878.9 219.4 879.4 217.8 879.8 218.7 880.3 206.7 880.7 193.8 881.2 217.3 881.7 219.3 882.1 200.3 882.6 213.5 883.1 191.3 883.5 217.7 884.0 204.6 884.5 191.8 884.9 212.7 885.4 222.2 885.9 219.5 886.3 216.0 886.8 217.5 887.3 208.7 887.7 219.1 888.2 222.7 888.6 218.8 889.1 219.6 889.6 219.7 890.0 190.4 890.5 223.1 891.0 229.2 891.4 212.5 891.9 221.6 892.4 207.3 892.8 228.8 893.3 227.6 893.8 227.4 894.2 227.1 894.7 228.9 895.1 212.5 895.6 227.8 896.1 192.9 896.5 203.6 897.0 229.5 897.5 207.2 897.9 193.8 898.4 224.9 898.9 220.7 899.3 225.0 899.8 202.9 900.3 199.9 900.7 201.6 901.2 200.4 901.7 209.3 902.1 225.7 902.6 224.6 903.0 223.8 903.5 197.9 904.0 217.8 904.4 222.6 904.9 213.1 905.4 206.2 905.8 211.4 906.3 212.5 906.8 220.1 907.2 220.4 907.7 203.6 908.2 208.1 908.6 202.2 909.1 198.3 909.6 218.6 910.0 219.2 910.5 211.8 910.9 218.9 911.4 218.8 911.9 216.9 912.3 217.1 912.8 217.8 913.3 219.8 913.7 222.6 914.2 225.0 914.7 190.2 915.1 219.6 915.6 188.3 916.1 224.1 916.5 224.6 917.0 216.1 917.4 218.7 917.9 211.6 918.4 225.0 918.8 224.9 919.3 200.3 919.8 210.7 920.2 200.9 920.7 209.4 921.2 225.7 921.6 216.0 922.1 198.7 922.6 212.2 923.0 207.7 923.5 223.8 924.0 206.9 924.4 192.2 924.9 225.8 925.3 198.4 925.8 216.9 926.3 226.5 926.7 225.3 927.2 204.6 927.7 225.7 928.1 225.5 928.6 202.3 929.1 224.7 929.5 216.6 930.0 225.0 930.5 223.8 930.9 200.9 931.4 191.0 931.9 225.6 932.3 193.0 932.8 227.7 933.2 225.0 933.7 212.2 934.2 224.5 934.6 208.0 935.1 223.7 935.6 207.3 936.0 227.7 936.5 223.0 937.0 202.7 937.4 190.3 937.9 223.7 938.4 203.4 938.8 211.1 939.3 212.7 939.7 216.4 940.2 212.5 940.7 211.7 941.1 220.7 941.6 221.9 942.1 219.9 942.5 219.8 943.0 219.0 943.5 208.9 943.9 205.4 944.4 220.8 944.9 217.9 945.3 218.4 945.8 220.7 946.3 219.8 946.7 199.5 947.2 213.5 947.6 205.6 948.1 216.3 948.6 219.0 949.0 186.8 949.5 213.5 950.0 201.4 950.4 220.5 950.9 219.6 951.4 213.0 951.8 209.1 952.3 199.2 952.8 205.1 953.2 188.4 953.7 219.6 954.2 209.8 954.6 212.5 955.1 214.5 955.5 215.4 956.0 216.9 956.5 223.2 956.9 219.4 957.4 207.2 957.9 218.0 958.3 202.7 958.8 218.1 959.3 207.5 959.7 218.7 960.2 222.4 960.7 202.6 961.1 218.3 961.6 219.7 962.0 167.2 962.5 221.1 963.0 204.0 963.4 208.9 963.9 207.0 964.4 223.1 964.8 218.5 965.3 191.9 965.8 207.2 966.2 217.4 966.7 217.4 967.2 218.7 967.6 218.2 968.1 218.6 968.6 217.7 969.0 219.2 969.5 186.1 969.9 217.6 970.4 211.8 970.9 221.8 971.3 199.6 971.8 219.0 972.3 219.0 972.7 203.6 973.2 202.3 973.7 217.2 974.1 195.5 974.6 218.6 975.1 217.8 975.5 219.3 976.0 217.9 976.4 217.5 976.9 204.6 977.4 218.6 977.8 211.3 978.3 209.4 978.8 209.2 979.2 217.7 979.7 218.3 980.2 217.0 980.6 216.9 981.1 218.8 981.6 216.9 982.0 217.1 982.5 217.7 983.0 212.9 983.4 206.4 983.9 199.7 984.3 201.9 984.8 215.6 985.3 205.1 985.7 213.0 986.2 213.5 986.7 212.8 987.1 212.6 987.6 213.1 988.1 213.2 988.5 211.8 989.0 212.2 989.5 213.0 989.9 212.6 990.4 213.0 990.9 213.4 991.3 213.8 991.8 212.8 992.2 212.9 992.7 212.9 993.2 213.8 993.6 213.6 994.1 212.5 994.6 207.2 995.0 217.4 995.5 218.4 996.0 212.8 996.4 207.7 996.9 216.4 997.4 205.3 997.8 211.6 998.3 210.9 998.7 180.0"/>
<path stroke="#ee00ee" stroke-width="2.4" stroke-dasharray="9 2" d="M150.9 203.3 151.4 201.7 151.8 204.4 152.3 200.1 152.8 207.2 153.2 198.1 153.7 175.9 154.2 190.9 154.6 164.3 155.1 191.6 155.5 159.0 156.0 201.7 156.5 203.5 156.9 200.4 157.4 202.9 157.9 204.2 158.3 205.3 158.8 205.2 159.3 204.9 159.7 204.9 160.2 205.3 160.7 204.6 161.1 204.3 161.6 205.3 162.1 204.9 162.5 204.6 163.0 204.6 163.4 205.9 163.9 205.3 164.4 205.0 164.8 204.5 165.3 205.2 165.8 204.6 166.2 205.1 166.7 205.4 167.2 205.4 167.6 205.4 168.1 204.9 168.6 205.9 169.0 205.7 169.5 205.8 169.9 205.8 170.4 204.2 170.9 206.3 171.3 206.7 171.8 205.8 172.3 206.0 172.7 204.6 173.2 201.5 173.7 192.2 174.1 185.6 174.6 191.4 175.1 190.3 175.5 199.1 176.0 197.4 176.5 194.8 176.9 198.9 177.4 198.9 177.8 193.4 178.3 203.5 178.8 201.0 179.2 196.7 179.7 200.1 180.2 196.9 180.6 191.4 181.1 175.9 181.6 187.6 182.0 197.2 182.5 185.5 183.0 193.4 183.4 205.8 183.9 197.8 184.4 199.6 184.8 191.1 185.3 197.9 185.7 200.6 186.2 185.0 186.7 194.4 187.1 206.1 187.6 207.2 188.1 195.2 188.5 198.3 189.0 193.6 189.5 190.9 189.9 201.2 190.4 169.6 190.9 202.5 191.3 198.9 191.8 190.3 192.2 200.3 192.7 195.7 193.2 195.1 193.6 199.1 194.1 200.8 194.6 202.4 195.0 197.7 195.5 176.0 196.0 192.7 196.4 200.8 196.9 192.7 197.4 196.6 197.8 198.2 198.3 198.7 198.8 180.0 199.2 204.4 199.7 190.4 200.1 180.8 200.6 197.6 201.1 196.6 201.5 200.3 202.0 200.5 202.5 192.6 202.9 198.5 203.4 198.5 203.9 189.1 204.3 205.0 204.8 199.6 205.3 194.8 205.7 195.5 206.2 199.5 206.7 191.3 207.1 205.4 207.6 205.9 208.0 204.8 208.5 198.1 209.0 199.9 209.4 196.0 209.9 200.6 210.4 199.0 210.8 206.3 211.3 203.8 211.8 206.3 212.2 203.6 212.7 193.2 213.2 206.7 213.6 199.5 214.1 193.6 214.5 204.5 215.0 199.4 215.5 200.5 215.9 197.2 216.4 189.2 216.9 203.1 217.3 205.6 217.8 191.5 218.3 189.4 218.7 204.2 219.2 200.4 219.7 198.6 220.1 185.0 220.6 206.8 221.1 180.3 221.5 205.1 222.0 199.3 222.4 203.3 222.9 200.3 223.4 200.3 223.8 198.5 224.3 201.1 224.8 192.0 225.2 193.9 225.7 170.5 226.2 203.7 226.6 196.2 227.1 197.8 227.6 191.0 228.0 198.2 228.5 202.3 229.0 200.7 229.4 184.2 229.9 192.2 230.3 208.9 230.8 207.0 231.3 207.0 231.7 191.9 232.2 199.3 232.7 190.5 233.1 204.1 233.6 199.7 234.1 204.6 234.5 197.7 235.0 199.9 235.5 200.8 235.9 198.7 236.4 204.3 236.8 197.0 237.3 198.3 237.8 192.0 238.2 191.0 238.7 198.3 239.2 201.9 239.6 198.4 240.1 195.1 240.6 205.1 241.0 198.8 241.5 186.1 242.0 190.3 242.4 178.9 242.9 206.0 243.4 200.8 243.8 205.2 244.3 201.2 244.7 198.1 245.2 191.5 245.7 199.5 246.1 186.0 246.6 197.3 247.1 192.9 247.5 192.7 248.0 202.9 248.5 208.2 248.9 198.3 249.4 190.2 249.9 197.1 250.3 203.1 250.8 195.1 251.2 198.9 251.7 200.7 252.2 189.2 252.6 207.0 253.1 198.5 253.6 195.4 254.0 196.4 254.5 204.7 255.0 206.4 255.4 202.1 255.9 200.8 256.4 195.1 256.8 179.7 257.3 192.5 257.8 205.5 258.2 208.6 258.7 196.4 259.1 187.4 259.6 199.5 260.1 202.0 260.5 194.8 261.0 193.3 261.5 204.7 261.9 208.7 262.4 204.2 262.9 203.0 263.3 203.6 263.8 205.7 264.3 195.0 264.7 192.0 265.2 183.3 265.7 196.6 266.1 203.0 266.6 199.8 267.0 200.7 267.5 200.0 268.0 201.3 268.4 204.2 268.9 199.6 269.4 207.0 269.8 193.9 270.3 201.0 270.8 184.6 271.2 199.2 271.7 203.0 272.2 196.0 272.6 201.5 273.1 204.4 273.5 200.7 274.0 205.7 274.5 191.3 274.9 205.4 275.4 191.4 275.9 187.5 276.3 193.7 276.8 194.8 277.3 196.1 277.7 201.5 278.2 189.2 278.7 198.9 279.1 197.5 279.6 179.0 280.1 200.0 280.5 193.8 281.0 194.7 281.4 204.4 281.9 205.3 282.4 204.9 282.8 201.2 283.3 203.2 283.8 199.9 284.2 198.5 284.7 199.7 285.2 190.3 285.6 191.1 286.1 198.0 286.6 197.0 287.0 192.5 287.5 204.1 288.0 204.5 288.4 197.6 288.9 198.9 289.3 196.4 289.8 192.8 290.3 198.9 290.7 201.5 291.2 199.1 291.7 200.2 292.1 197.7 292.6 208.4 293.1 203.5 293.5 206.1 294.0 204.4 294.5 204.6 294.9 203.8 295.4 198.5 295.8 202.1 296.3 205.5 296.8 199.0 297.2 204.9 297.7 192.2 298.2 186.5 298.6 203.9 299.1 198.6 299.6 207.4 300.0 193.4 300.5 193.5 301.0 197.9 301.4 196.7 301.9 201.8 302.4 208.1 302.8 205.4 303.3 207.2 303.7 201.8 304.2 203.2 304.7 194.7 305.1 199.8 305.6 199.2 306.1 199.4 306.5 200.3 307.0 191.5 307.5 208.8 307.9 205.3 308.4 199.6 308.9 196.9 309.3 203.5 309.8 188.3 310.3 192.2 310.7 201.8 311.2 192.0 311.6 192.2 312.1 194.1 312.6 205.4 313.0 199.5 313.5 210.8 314.0 186.3 314.4 200.5 314.9 198.5 315.4 196.5 315.8 195.8 316.3 194.9 316.8 199.8 317.2 181.3 317.7 196.5 318.1 202.1 318.6 198.9 319.1 204.2 319.5 200.7 320.0 195.7 320.5 200.1 320.9 202.6 321.4 209.5 321.9 206.6 322.3 206.0 322.8 180.5 323.3 204.1 323.7 196.1 324.2 184.3 324.7 195.9 325.1 204.5 325.6 193.8 326.0 200.4 326.5 197.2 327.0 198.8 327.4 198.8 327.9 192.0 328.4 191.9 328.8 183.5 329.3 197.7 329.8 198.7 330.2 191.1 330.7 194.4 331.2 196.9 331.6 203.2 332.1 196.8 332.6 198.9 333.0 202.1 333.5 205.2 333.9 207.9 334.4 203.6 334.9 204.4 335.3 202.9 335.8 200.7 336.3 201.7 336.7 194.2 337.2 186.4 337.7 199.8 338.1 203.8 338.6 199.4 339.1 198.9 339.5 197.5 340.0 203.9 340.4 206.0 340.9 194.5 341.4 176.1 341.8 194.4 342.3 202.7 342.8 196.6 343.2 199.7 343.7 195.2 344.2 198.8 344.6 206.0 345.1 197.0 345.6 200.1 346.0 200.1 346.5 202.8 347.0 192.9 347.4 203.8 347.9 197.0 348.3 208.2 348.8 205.3 349.3 200.5 349.7 204.2 350.2 207.8 350.7 203.0 351.1 203.9 351.6 203.9 352.1 206.5 352.5 204.6 353.0 201.9 353.5 204.9 353.9 201.1 354.4 208.0 354.8 203.2 355.3 208.0 355.8 209.7 356.2 204.9 356.7 199.0 357.2 206.4 357.6 207.8 358.1 204.3 358.6 195.9 359.0 185.1 359.5 182.0 360.0 191.4 360.4 204.5 360.9 204.8 361.4 204.0 361.8 207.6 362.3 198.7 362.7 202.8 363.2 198.4 363.7 193.0 364.1 176.3 364.6 196.7 365.1 185.4 365.5 197.3 366.0 208.9 366.5 195.8 366.9 203.1 367.4 200.7 367.9 197.3 368.3 201.6 368.8 201.5 369.3 206.5 369.7 193.4 370.2 200.6 370.6 179.1 371.1 192.9 371.6 199.5 372.0 183.7 372.5 191.6 373.0 202.2 373.4 199.2 373.9 202.7 374.4 194.0 374.8 172.8 375.3 200.3 375.8 196.5 376.2 202.3 376.7 194.1 377.1 196.3 377.6 191.6 378.1 202.0 378.5 193.3 379.0 202.7 379.5 193.8 379.9 209.0 380.4 198.6 380.9 202.0 381.3 192.5 381.8 198.3 382.3 199.1 382.7 203.0 383.2 206.3 383.7 193.7 384.1 200.6 384.6 196.1 385.0 181.6 385.5 198.9 386.0 198.7 386.4 205.0 386.9 205.4 387.4 198.5 387.8 200.0 388.3 207.5 388.8 205.9 389.2 198.5 389.7 198.3 390.2 202.4 390.6 170.9 391.1 206.0 391.6 204.9 392.0 200.1 392.5 199.7 392.9 198.2 393.4 195.5 393.9 203.4 394.3 204.1 394.8 180.3 395.3 201.3 395.7 203.9 396.2 203.0 396.7 196.8 397.1 190.0 397.6 210.6 398.1 190.1 398.5 202.3 399.0 190.5 399.4 204.6 399.9 207.0 400.4 207.5 400.8 199.4 401.3 201.3 401.8 207.2 402.2 202.9 402.7 195.0 403.2 203.5 403.6 209.6 404.1 205.6 404.6 205.4 405.0 206.7 405.5 191.9 406.0 192.0 406.4 203.7 406.9 203.4 407.3 194.1 407.8 204.1 408.3 201.5 408.7 200.5 409.2 201.8 409.7 189.8 410.1 211.5 410.6 198.5 411.1 196.9 411.5 198.2 412.0 202.7 412.5 200.6 412.9 206.5 413.4 195.7 413.9 200.9 414.3 195.4 414.8 208.8 415.2 204.1 415.7 205.9 416.2 208.0 416.6 204.2 417.1 197.3 417.6 198.9 418.0 202.8 418.5 202.8 419.0 191.4 419.4 205.7 419.9 203.5 420.4 203.8 420.8 178.2 421.3 193.5 421.7 206.0 422.2 204.2 422.7 199.1 423.1 204.1 423.6 192.9 424.1 182.3 424.5 188.3 425.0 206.4 425.5 201.9 425.9 198.8 426.4 193.8 426.9 194.3 427.3 197.2 427.8 192.3 428.3 203.0 428.7 200.9 429.2 209.5 429.6 189.5 430.1 208.0 430.6 199.7 431.0 201.2 431.5 197.9 432.0 207.2 432.4 193.7 432.9 199.5 433.4 198.8 433.8 203.7 434.3 208.6 434.8 192.5 435.2 198.9 435.7 200.0 436.2 204.4 436.6 206.6 437.1 204.8 437.5 194.4 438.0 202.3 438.5 211.5 438.9 203.9 439.4 201.6 439.9 208.3 440.3 205.7 440.8 204.4 441.3 205.7 441.7 200.2 442.2 200.4 442.7 196.6 443.1 197.2 443.6 190.6 444.0 198.5 444.5 201.3 445.0 200.8 445.4 192.6 445.9 196.0 446.4 202.3 446.8 198.5 447.3 198.8 447.8 201.4 448.2 207.5 448.7 207.9 449.2 202.0 449.6 202.7 450.1 192.6 450.6 201.1 451.0 206.5 451.5 197.0 451.9 197.3 452.4 197.2 452.9 173.6 453.3 194.7 453.8 199.4 454.3 208.8 454.7 196.4 455.2 183.3 455.7 193.0 456.1 197.6 456.6 201.5 457.1 206.8 457.5 200.8 458.0 191.5 458.4 198.3 458.9 210.5 459.4 198.7 459.8 200.3 460.3 198.1 460.8 193.0 461.2 200.7 461.7 201.3 462.2 196.3 462.6 199.9 463.1 202.5 463.6 194.5 464.0 184.4 464.5 202.1 465.0 208.0 465.4 206.3 465.9 207.2 466.3 206.5 466.8 204.7 467.3 201.4 467.7 201.5 468.2 207.4 468.7 213.5 469.1 206.2 469.6 196.2 470.1 185.6 470.5 202.8 471.0 201.5 471.5 195.5 471.9 192.2 472.4 201.3 472.9 186.4 473.3 207.8 473.8 202.5 474.2 212.6 474.7 202.1 475.2 205.9 475.6 198.5 476.1 200.8 476.6 204.6 477.0 206.8 477.5 195.5 478.0 206.8 478.4 206.7 478.9 199.0 479.4 191.8 479.8 193.8 480.3 204.9 480.7 200.1 481.2 205.0 481.7 208.3 482.1 205.1 482.6 202.4 483.1 192.6 483.5 207.3 484.0 207.6 484.5 206.1 484.9 205.8 485.4 202.2 485.9 209.3 486.3 206.2 486.8 203.9 487.3 208.0 487.7 205.1 488.2 206.1 488.6 208.0 489.1 205.5 489.6 203.8 490.0 205.9 490.5 205.6 491.0 201.8 491.4 206.3 491.9 207.8 492.4 204.1 492.8 206.6 493.3 207.0 493.8 207.3 494.2 206.0 494.7 196.6 495.2 206.6 495.6 208.2 496.1 207.4 496.5 201.4 497.0 183.1 497.5 202.1 497.9 201.0 498.4 204.2 498.9 204.4 499.3 199.1 499.8 196.4 500.3 208.2 500.7 201.1 501.2 201.2 501.7 198.4 502.1 195.4 502.6 190.8 503.0 200.7 503.5 192.2 504.0 203.5 504.4 192.5 504.9 206.1 505.4 205.5 505.8 209.0 506.3 205.8 506.8 204.2 507.2 200.2 507.7 203.4 508.2 210.6 508.6 203.0 509.1 209.0 509.6 204.3 510.0 198.4 510.5 200.1 510.9 195.5 511.4 183.6 511.9 193.6 512.3 204.9 512.8 201.6 513.3 196.8 513.7 197.6 514.2 202.2 514.7 197.2 515.1 187.7 515.6 205.4 516.1 207.8 516.5 204.2 517.0 193.6 517.5 199.2 517.9 198.3 518.4 197.3 518.8 198.2 519.3 187.5 519.8 200.6 520.2 204.6 520.7 202.3 521.2 209.5 521.6 175.5 522.1 202.5 522.6 201.3 523.0 206.9 523.5 206.7 524.0 199.4 524.4 201.3 524.9 199.5 525.3 203.1 525.8 207.7 526.3 200.4 526.7 196.9 527.2 204.7 527.7 195.8 528.1 176.0 528.6 204.9 529.1 202.9 529.5 204.7 530.0 197.7 530.5 195.9 530.9 174.1 531.4 199.6 531.9 206.1 532.3 198.8 532.8 208.3 533.2 202.5 533.7 201.7 534.2 200.8 534.6 179.3 535.1 193.3 535.6 195.2 536.0 208.0 536.5 201.4 537.0 202.7 537.4 202.7 537.9 204.1 538.4 203.3 538.8 205.7 539.3 200.5 539.8 200.3 540.2 188.8 540.7 197.8 541.1 205.6 541.6 200.0 542.1 202.9 542.5 198.6 543.0 199.4 543.5 205.1 543.9 206.9 544.4 202.8 544.9 173.6 545.3 192.1 545.8 202.2 546.3 196.2 546.7 191.4 547.2 202.7 547.6 190.4 548.1 205.3 548.6 206.5 549.0 201.8 549.5 203.6 550.0 196.3 550.4 211.1 550.9 210.1 551.4 207.0 551.8 199.4 552.3 198.5 552.8 202.1 553.2 197.9 553.7 190.8 554.2 192.8 554.6 212.3 555.1 192.4 555.5 201.0 556.0 194.6 556.5 196.9 556.9 205.2 557.4 202.5 557.9 208.9 558.3 206.5 558.8 213.3 559.3 209.6 559.7 202.9 560.2 193.5 560.7 200.0 561.1 211.9 561.6 204.2 562.0 202.7 562.5 204.4 563.0 205.9 563.4 204.3 563.9 178.4 564.4 201.8 564.8 181.6 565.3 198.3 565.8 198.3 566.2 210.2 566.7 202.6 567.2 192.5 567.6 200.1 568.1 203.7 568.6 184.4 569.0 194.6 569.5 182.3 569.9 193.0 570.4 204.2 570.9 203.4 571.3 197.9 571.8 198.6 572.3 206.9 572.7 208.2 573.2 203.1 573.7 200.3 574.1 195.7 574.6 202.1 575.1 194.4 575.5 204.1 576.0 198.0 576.5 203.2 576.9 202.1 577.4 202.4 577.8 202.5 578.3 204.3 578.8 203.6 579.2 195.9 579.7 206.3 580.2 190.0 580.6 200.6 581.1 199.8 581.6 198.5 582.0 211.1 582.5 202.5 583.0 202.2 583.4 200.2 583.9 204.0 584.3 192.5 584.8 192.8 585.3 176.5 585.7 196.9 586.2 200.8 586.7 201.9 587.1 205.2 587.6 203.4 588.1 201.9 588.5 201.3 589.0 200.8 589.5 201.0 589.9 203.2 590.4 204.4 590.9 182.6 591.3 197.9 591.8 200.6 592.2 207.5 592.7 210.0 593.2 205.1 593.6 210.8 594.1 202.4 594.6 202.0 595.0 192.0 595.5 195.4 596.0 206.2 596.4 209.8 596.9 208.4 597.4 208.1 597.8 201.4 598.3 198.6 598.8 206.9 599.2 200.2 599.7 202.7 600.1 208.5 600.6 207.6 601.1 202.8 601.5 206.8 602.0 205.4 602.5 202.3 602.9 202.7 603.4 189.1 603.9 200.0 604.3 207.1 604.8 208.0 605.3 195.2 605.7 202.9 606.2 204.5 606.6 203.0 607.1 177.0 607.6 198.0 608.0 207.9 608.5 203.7 609.0 208.7 609.4 205.2 609.9 199.1 610.4 195.0 610.8 194.4 611.3 194.1 611.8 195.9 612.2 186.1 612.7 192.8 613.2 197.0 613.6 194.8 614.1 199.2 614.5 201.1 615.0 199.5 615.5 199.9 615.9 197.9 616.4 203.3 616.9 199.0 617.3 200.7 617.8 200.9 618.3 202.6 618.7 199.3 619.2 199.2 619.7 201.1 620.1 196.2 620.6 202.7 621.1 183.4 621.5 194.9 622.0 196.2 622.4 197.3 622.9 196.6 623.4 196.4 623.8 198.0 624.3 198.5 624.8 202.2 625.2 200.7 625.7 202.2 626.2 211.1 626.6 185.8 627.1 198.7 627.6 184.7 628.0 201.6 628.5 201.7 628.9 195.6 629.4 195.6 629.9 201.4 630.3 194.1 630.8 201.4 631.3 195.0 631.7 202.1 632.2 201.2 632.7 201.3 633.1 206.4 633.6 203.9 634.1 205.1 634.5 197.2 635.0 192.9 635.5 205.0 635.9 201.4 636.4 200.0 636.8 208.4 637.3 195.1 637.8 194.9 638.2 183.0 638.7 186.2 639.2 205.4 639.6 191.1 640.1 188.8 640.6 199.9 641.0 202.0 641.5 198.3 642.0 203.8 642.4 206.9 642.9 203.0 643.4 163.6 643.8 197.8 644.3 204.2 644.7 207.1 645.2 203.3 645.7 203.2 646.1 198.2 646.6 191.8 647.1 199.8 647.5 192.9 648.0 189.1 648.5 196.8 648.9 207.9 649.4 204.3 649.9 195.3 650.3 197.8 650.8 191.8 651.2 199.2 651.7 203.0 652.2 198.3 652.6 199.7 653.1 205.7 653.6 186.2 654.0 202.5 654.5 200.6 655.0 199.9 655.4 202.6 655.9 200.9 656.4 204.4 656.8 205.8 657.3 200.5 657.8 177.6 658.2 194.9 658.7 207.0 659.1 194.3 659.6 193.3 660.1 182.5 660.5 205.8 661.0 201.3 661.5 200.8 661.9 194.2 662.4 198.5 662.9 193.9 663.3 201.3 663.8 178.8 664.3 197.8 664.7 203.8 665.2 190.5 665.6 196.2 666.1 193.3 666.6 196.6 667.0 196.2 667.5 195.1 668.0 205.6 668.4 204.5 668.9 204.1 669.4 202.3 669.8 203.5 670.3 196.8 670.8 201.6 671.2 194.7 671.7 195.6 672.2 197.1 672.6 179.4 673.1 202.7 673.5 198.4 674.0 198.4 674.5 199.6 674.9 197.2 675.4 201.0 675.9 200.5 676.3 201.6 676.8 206.7 677.3 204.0 677.7 206.1 678.2 199.2 678.7 200.6 679.1 196.0 679.6 196.2 680.1 191.8 680.5 202.9 681.0 199.0 681.4 206.1 681.9 206.9 682.4 188.4 682.8 200.4 683.3 206.0 683.8 199.8 684.2 202.1 684.7 199.3 685.2 207.1 685.6 207.5 686.1 208.1 686.6 206.2 687.0 202.7 687.5 201.3 687.9 197.4 688.4 195.8 688.9 193.1 689.3 204.8 689.8 200.0 690.3 198.0 690.7 204.8 691.2 197.5 691.7 196.2 692.1 187.1 692.6 203.6 693.1 202.8 693.5 201.5 694.0 188.2 694.5 193.3 694.9 186.7 695.4 193.9 695.8 191.1 696.3 207.1 696.8 193.7 697.2 194.8 697.7 192.3 698.2 196.6 698.6 204.8 699.1 199.7 699.6 191.7 700.0 206.3 700.5 193.8 701.0 201.6 701.4 195.6 701.9 201.1 702.4 207.2 702.8 191.0 703.3 199.8 703.7 197.0 704.2 202.3 704.7 194.0 705.1 198.2 705.6 177.0 706.1 191.4 706.5 197.4 707.0 177.1 707.5 200.1 707.9 199.2 708.4 199.2 708.9 202.4 709.3 199.8 709.8 192.5 710.2 202.0 710.7 181.6 711.2 199.8 711.6 204.1 712.1 200.0 712.6 190.7 713.0 194.4 713.5 197.1 714.0 196.9 714.4 200.3 714.9 193.8 715.4 198.3 715.8 199.5 716.3 203.4 716.8 203.0 717.2 168.4 717.7 196.0 718.1 204.9 718.6 196.8 719.1 197.5 719.5 193.2 720.0 192.5 720.5 203.2 720.9 200.5 721.4 200.0 721.9 200.2 722.3 206.2 722.8 203.2 723.3 198.3 723.7 197.4 724.2 194.3 724.7 196.6 725.1 200.4 725.6 202.9 726.0 203.9 726.5 202.8 727.0 205.9 727.4 201.6 727.9 198.4 728.4 182.2 728.8 202.1 729.3 200.7 729.8 193.6 730.2 166.4 730.7 197.0 731.2 204.2 731.6 192.5 732.1 192.2 732.5 195.2 733.0 200.0 733.5 206.7 733.9 204.5 734.4 193.4 734.9 189.8 735.3 197.4 735.8 197.0 736.3 200.1 736.7 193.3 737.2 189.8 737.7 197.1 738.1 192.7 738.6 201.7 739.1 205.1 739.5 193.6 740.0 193.4 740.4 201.8 740.9 201.5 741.4 203.3 741.8 198.3 742.3 193.5 742.8 190.4 743.2 191.7 743.7 200.4 744.2 194.2 744.6 202.8 745.1 205.1 745.6 192.8 746.0 195.8 746.5 191.9 747.0 201.0 747.4 203.4 747.9 199.8 748.3 199.1 748.8 177.4 749.3 203.4 749.7 207.8 750.2 201.3 750.7 199.0 751.1 202.3 751.6 209.0 752.1 190.6 752.5 196.5 753.0 194.0 753.5 198.9 753.9 193.3 754.4 186.7 754.8 195.1 755.3 200.2 755.8 192.7 756.2 189.6 756.7 203.9 757.2 200.1 757.6 205.1 758.1 192.7 758.6 196.0 759.0 198.1 759.5 205.5 760.0 202.7 760.4 196.2 760.9 172.0 761.4 195.8 761.8 197.3 762.3 204.8 762.7 198.8 763.2 194.5 763.7 200.4 764.1 195.9 764.6 193.9 765.1 201.2 765.5 204.3 766.0 199.8 766.5 192.5 766.9 193.9 767.4 199.9 767.9 205.0 768.3 202.9 768.8 206.2 769.2 198.9 769.7 189.5 770.2 205.6 770.6 203.3 771.1 203.0 771.6 204.7 772.0 203.0 772.5 197.1 773.0 195.7 773.4 199.4 773.9 193.1 774.4 200.9 774.8 196.3 775.3 197.8 775.8 203.5 776.2 174.3 776.7 198.7 777.1 198.3 777.6 204.4 778.1 190.5 778.5 197.6 779.0 189.3 779.5 199.1 779.9 198.9 780.4 200.7 780.9 185.7 781.3 199.0 781.8 193.2 782.3 199.6 782.7 195.9 783.2 175.1 783.7 196.5 784.1 198.5 784.6 197.5 785.0 185.3 785.5 193.4 786.0 204.8 786.4 200.0 786.9 206.2 787.4 192.8 787.8 196.1 788.3 198.2 788.8 205.6 789.2 193.3 789.7 198.6 790.2 192.2 790.6 192.2 791.1 189.4 791.5 194.2 792.0 189.3 792.5 193.8 792.9 198.8 793.4 202.0 793.9 203.6 794.3 199.8 794.8 198.1 795.3 190.5 795.7 196.2 796.2 199.9 796.7 197.9 797.1 177.5 797.6 197.6 798.1 191.4 798.5 198.2 799.0 191.0 799.4 196.2 799.9 199.1 800.4 199.6 800.8 201.2 801.3 197.6 801.8 201.3 802.2 205.4 802.7 198.9 803.2 193.6 803.6 204.9 804.1 204.6 804.6 201.5 805.0 194.6 805.5 187.5 806.0 203.0 806.4 188.1 806.9 193.2 807.3 202.2 807.8 197.4 808.3 200.0 808.7 201.5 809.2 190.9 809.7 198.8 810.1 197.9 810.6 207.8 811.1 196.1 811.5 197.7 812.0 201.2 812.5 200.3 812.9 199.9 813.4 185.6 813.8 192.1 814.3 201.1 814.8 201.7 815.2 207.0 815.7 199.6 816.2 205.7 816.6 203.8 817.1 189.2 817.6 195.5 818.0 192.8 818.5 200.9 819.0 190.5 819.4 187.9 819.9 203.1 820.4 197.6 820.8 201.3 821.3 202.4 821.7 202.6 822.2 197.7 822.7 195.6 823.1 184.8 823.6 198.2 824.1 203.6 824.5 206.5 825.0 203.1 825.5 184.8 825.9 194.6 826.4 189.4 826.9 184.4 827.3 183.3 827.8 181.3 828.3 201.3 828.7 191.7 829.2 192.8 829.6 189.0 830.1 200.0 830.6 198.7 831.0 195.5 831.5 197.0 832.0 202.0 832.4 202.5 832.9 202.2 833.4 203.9 833.8 202.4 834.3 195.0 834.8 193.4 835.2 200.2 835.7 201.4 836.1 195.7 836.6 198.2 837.1 197.6 837.5 197.1 838.0 179.0 838.5 196.7 838.9 200.2 839.4 189.0 839.9 194.8 840.3 194.1 840.8 166.5 841.3 194.1 841.7 197.8 842.2 200.8 842.7 202.9 843.1 201.2 843.6 201.0 844.0 201.9 844.5 189.8 845.0 196.5 845.4 199.2 845.9 191.7 846.4 201.0 846.8 202.6 847.3 204.5 847.8 198.8 848.2 191.7 848.7 194.8 849.2 167.7 849.6 190.6 850.1 192.1 850.6 192.5 851.0 197.7 851.5 193.8 851.9 185.4 852.4 176.2 852.9 173.6 853.3 177.8 853.8 195.2 854.3 196.4 854.7 186.2 855.2 175.8 855.7 191.5 856.1 199.2 856.6 197.1 857.1 180.2 857.5 194.1 858.0 184.3 858.4 194.2 858.9 182.8 859.4 186.6 859.8 195.8 860.3 195.5 860.8 195.6 861.2 194.0 861.7 194.7 862.2 181.9 862.6 194.5 863.1 192.2 863.6 194.6 864.0 197.6 864.5 195.3 865.0 174.3 865.4 176.8 865.9 194.9 866.3 196.9 866.8 192.9 867.3 182.2 867.7 177.8 868.2 198.5 868.7 172.1 869.1 182.1 869.6 182.8 870.1 198.0 870.5 195.6 871.0 183.4 871.5 178.3 871.9 197.3 872.4 194.5 872.8 197.9 873.3 193.9 873.8 197.3 874.2 194.0 874.7 183.8 875.2 175.7 875.6 195.0 876.1 198.9 876.6 191.1 877.0 197.8 877.5 198.5 878.0 198.0 878.4 195.7 878.9 173.3 879.4 197.0 879.8 198.6 880.3 198.8 880.7 197.5 881.2 190.6 881.7 191.2 882.1 193.4 882.6 186.8 883.1 171.5 883.5 190.6 884.0 198.9 884.5 192.2 884.9 191.9 885.4 171.1 885.9 191.1 886.3 191.8 886.8 194.7 887.3 156.3 887.7 167.4 888.2 193.0 888.6 187.4 889.1 128.0 889.6 190.2 890.0 191.1 890.5 192.7 891.0 192.6 891.4 191.6 891.9 173.6 892.4 192.5 892.8 192.3 893.3 192.3 893.8 192.1 894.2 191.5 894.7 162.7 895.1 189.3 895.6 191.7 896.1 184.9 896.5 191.3 897.0 163.7 897.5 170.3 897.9 187.7 898.4 191.1 898.9 155.9 899.3 163.9 899.8 163.7 900.3 191.6 900.7 192.1 901.2 192.0 901.7 183.1 902.1 191.6 902.6 198.8 903.0 197.9 903.5 201.1 904.0 197.9 904.4 198.3 904.9 199.9 905.4 199.0 905.8 196.7 906.3 198.0 906.8 196.2 907.2 202.4 907.7 198.4 908.2 198.1 908.6 194.0 909.1 200.7 909.6 193.6 910.0 194.4 910.5 195.5 910.9 197.2 911.4 200.7 911.9 194.7 912.3 196.8 912.8 194.9 913.3 197.1 913.7 194.9 914.2 196.3 914.7 200.5 915.1 186.5 915.6 192.3 916.1 193.3 916.5 197.9 917.0 193.8 917.4 194.2 917.9 189.7 918.4 199.9 918.8 199.4 919.3 196.9 919.8 202.0 920.2 202.0 920.7 200.1 921.2 201.3 921.6 195.7 922.1 197.7 922.6 193.8 923.0 203.0 923.5 191.8 924.0 196.8 924.4 195.6 924.9 189.3 925.3 191.6 925.8 202.4 926.3 182.0 926.7 195.4 927.2 197.9 927.7 204.7 928.1 191.0 928.6 194.7 929.1 199.6 929.5 204.2 930.0 206.2 930.5 205.5 930.9 199.2 931.4 192.0 931.9 198.4 932.3 199.9 932.8 196.8 933.2 202.5 933.7 206.2 934.2 200.1 934.6 206.6 935.1 199.3 935.6 194.5 936.0 157.7 936.5 194.8 937.0 204.4 937.4 194.1 937.9 201.3 938.4 201.1 938.8 198.8 939.3 193.4 939.7 199.6 940.2 161.6 940.7 201.1 941.1 182.9 941.6 200.1 942.1 178.2 942.5 190.0 943.0 196.8 943.5 197.3 943.9 163.0 944.4 199.2 944.9 200.7 945.3 204.4 945.8 201.6 946.3 200.6 946.7 202.6 947.2 196.5 947.6 204.3 948.1 192.3 948.6 203.8 949.0 195.9 949.5 200.9 950.0 198.5 950.4 204.4 950.9 201.9 951.4 187.9 951.8 196.8 952.3 200.7 952.8 205.6 953.2 197.1 953.7 196.7 954.2 198.4 954.6 191.7 955.1 180.0 955.5 192.4 956.0 202.2 956.5 205.0 956.9 201.3 957.4 203.3 957.9 204.5 958.3 200.5 958.8 203.4 959.3 205.4 959.7 205.8 960.2 189.6 960.7 198.7 961.1 183.8 961.6 188.6 962.0 171.4 962.5 205.3 963.0 202.4 963.4 202.3 963.9 207.2 964.4 198.6 964.8 198.5 965.3 193.5 965.8 191.4 966.2 204.9 966.7 202.1 967.2 207.7 967.6 202.6 968.1 171.9 968.6 204.2 969.0 195.8 969.5 196.5 969.9 193.7 970.4 196.6 970.9 199.1 971.3 194.7 971.8 199.2 972.3 206.6 972.7 205.9 973.2 204.7 973.7 191.4 974.1 199.7 974.6 197.3 975.1 177.8 975.5 200.3 976.0 192.3 976.4 191.2 976.9 201.0 977.4 202.3 977.8 189.5 978.3 201.6 978.8 205.5 979.2 202.8 979.7 200.0 980.2 193.0 980.6 185.2 981.1 203.2 981.6 199.3 982.0 191.5 982.5 198.5 983.0 191.7 983.4 204.5 983.9 211.6 984.3 198.3 984.8 200.3 985.3 209.5 985.7 202.3 986.2 202.5 986.7 202.2 987.1 202.7 987.6 202.0 988.1 202.3 988.5 202.5 989.0 201.6 989.5 202.3 989.9 202.4 990.4 201.7 990.9 202.0 991.3 202.8 991.8 202.8 992.2 201.9 992.7 202.3 993.2 203.4 993.6 204.1 994.1 203.1 994.6 202.5 995.0 203.8 995.5 206.2 996.0 206.2 996.4 203.7 996.9 173.4 997.4 204.4 997.8 198.2 998.3 198.3 998.7 184.2"/>
<path stroke="#000" stroke-width="2" stroke-dasharray="2 2" d="M150.9 200.6 151.4 200.8 151.8 200.4 152.3 200.5 152.8 201.0 153.2 200.6 153.7 150.0 154.2 200.5 154.6 124.0 155.1 200.8 155.5 140.0 156.0 200.6 156.5 201.3 156.9 201.3 157.4 200.4 157.9 201.0 158.3 200.4 158.8 200.6 159.3 200.4 159.7 200.6 160.2 199.9 160.7 200.4 161.1 199.9 161.6 201.3 162.1 200.3 162.5 200.5 163.0 199.7 163.4 200.2 163.9 200.8 164.4 199.5 164.8 200.7 165.3 200.3 165.8 201.5 166.2 200.8 166.7 201.0 167.2 200.7 167.6 201.0 168.1 199.9 168.6 201.3 169.0 200.9 169.5 199.7 169.9 200.7 170.4 200.5 170.9 201.3 171.3 200.4 171.8 200.5 172.3 200.7 172.7 200.4 173.2 197.0 173.7 200.8 174.1 168.0 174.6 186.1 175.1 200.4 175.5 193.7 176.0 182.0 176.5 199.6 176.9 191.4 177.4 190.3 177.8 201.1 178.3 200.5 178.8 194.7 179.2 185.6 179.7 193.5 180.2 191.2 180.6 199.6 181.1 158.4 181.6 176.7 182.0 185.5 182.5 162.1 183.0 188.5 183.4 199.8 183.9 193.0 184.4 200.6 184.8 200.5 185.3 187.0 185.7 200.4 186.2 171.0 186.7 183.6 187.1 200.9 187.6 201.0 188.1 200.6 188.5 191.2 189.0 197.7 189.5 200.5 189.9 193.7 190.4 158.5 190.9 200.6 191.3 200.8 191.8 172.0 192.2 192.8 192.7 187.9 193.2 186.3 193.6 200.6 194.1 200.6 194.6 200.1 195.0 200.7 195.5 164.2 196.0 201.0 196.4 196.6 196.9 200.5 197.4 188.8 197.8 191.5 198.3 200.3 198.8 165.0 199.2 200.9 199.7 200.4 200.1 168.0 200.6 200.8 201.1 192.1 201.5 190.8 202.0 194.9 202.5 200.6 202.9 200.4 203.4 200.0 203.9 177.0 204.3 200.5 204.8 188.5 205.3 200.5 205.7 200.8 206.2 190.6 206.7 200.6 207.1 200.8 207.6 200.6 208.0 201.1 208.5 193.5 209.0 200.8 209.4 199.5 209.9 195.1 210.4 200.8 210.8 200.0 211.3 199.3 211.8 199.9 212.2 200.4 212.7 187.3 213.2 199.8 213.6 200.6 214.1 181.0 214.5 200.6 215.0 200.0 215.5 200.7 215.9 188.2 216.4 182.0 216.9 200.3 217.3 199.9 217.8 199.2 218.3 183.7 218.7 200.7 219.2 194.7 219.7 187.6 220.1 170.2 220.6 199.6 221.1 171.5 221.5 200.2 222.0 190.0 222.4 201.1 222.9 200.1 223.4 195.4 223.8 186.2 224.3 194.9 224.8 200.9 225.2 199.2 225.7 162.2 226.2 201.2 226.6 201.3 227.1 200.7 227.6 185.6 228.0 199.7 228.5 200.4 229.0 200.8 229.4 161.9 229.9 170.4 230.3 200.2 230.8 199.9 231.3 201.3 231.7 185.7 232.2 193.7 232.7 181.9 233.1 201.0 233.6 194.9 234.1 200.6 234.5 192.3 235.0 194.1 235.5 195.5 235.9 200.0 236.4 200.5 236.8 185.0 237.3 200.4 237.8 200.5 238.2 183.7 238.7 199.8 239.2 201.5 239.6 192.5 240.1 199.7 240.6 199.4 241.0 200.3 241.5 162.5 242.0 184.4 242.4 167.0 242.9 200.2 243.4 200.5 243.8 200.7 244.3 193.3 244.7 190.3 245.2 174.6 245.7 200.2 246.1 174.0 246.6 191.8 247.1 185.5 247.5 200.4 248.0 199.4 248.5 200.2 248.9 186.1 249.4 199.7 249.9 192.0 250.3 200.9 250.8 200.0 251.2 193.7 251.7 200.5 252.2 179.0 252.6 199.1 253.1 200.0 253.6 182.3 254.0 200.5 254.5 199.3 255.0 201.2 255.4 201.4 255.9 199.8 256.4 199.1 256.8 172.4 257.3 199.9 257.8 200.1 258.2 199.4 258.7 199.4 259.1 181.0 259.6 199.5 260.1 199.1 260.5 184.1 261.0 185.3 261.5 200.0 261.9 199.6 262.4 201.0 262.9 200.0 263.3 200.5 263.8 199.4 264.3 199.4 264.7 182.7 265.2 176.0 265.7 199.6 266.1 199.8 266.6 199.9 267.0 200.8 267.5 200.1 268.0 197.3 268.4 200.6 268.9 194.8 269.4 201.0 269.8 172.0 270.3 200.3 270.8 161.8 271.2 199.5 271.7 200.2 272.2 200.2 272.6 193.9 273.1 199.8 273.5 200.8 274.0 200.3 274.5 168.4 274.9 200.2 275.4 183.6 275.9 178.0 276.3 200.4 276.8 199.7 277.3 185.9 277.7 200.1 278.2 182.4 278.7 187.2 279.1 187.2 279.6 171.7 280.1 199.6 280.5 199.8 281.0 184.9 281.4 200.4 281.9 200.3 282.4 199.6 282.8 199.6 283.3 199.6 283.8 199.5 284.2 184.8 284.7 191.8 285.2 169.6 285.6 200.5 286.1 188.3 286.6 183.5 287.0 199.4 287.5 201.0 288.0 200.0 288.4 198.9 288.9 192.7 289.3 186.1 289.8 178.0 290.3 191.8 290.7 200.1 291.2 194.0 291.7 200.7 292.1 184.5 292.6 200.3 293.1 200.6 293.5 199.6 294.0 200.2 294.5 200.0 294.9 200.9 295.4 200.3 295.8 199.7 296.3 201.0 296.8 199.8 297.2 200.0 297.7 200.1 298.2 174.0 298.6 199.7 299.1 199.9 299.6 199.8 300.0 187.5 300.5 199.6 301.0 191.5 301.4 189.1 301.9 195.0 302.4 200.3 302.8 200.7 303.3 199.7 303.7 199.2 304.2 199.2 304.7 189.1 305.1 200.3 305.6 192.4 306.1 192.0 306.5 195.0 307.0 184.5 307.5 199.4 307.9 200.0 308.4 189.9 308.9 200.0 309.3 200.0 309.8 169.6 310.3 201.5 310.7 194.9 311.2 200.3 311.6 181.8 312.1 200.9 312.6 201.0 313.0 189.1 313.5 200.4 314.0 174.1 314.4 199.6 314.9 186.2 315.4 199.3 315.8 200.5 316.3 183.2 316.8 199.4 317.2 169.6 317.7 201.0 318.1 196.2 318.6 200.3 319.1 201.0 319.5 195.1 320.0 199.9 320.5 188.5 320.9 200.6 321.4 200.4 321.9 200.9 322.3 200.7 322.8 167.2 323.3 200.7 323.7 200.3 324.2 163.2 324.7 200.3 325.1 200.4 325.6 200.9 326.0 191.4 326.5 191.8 327.0 185.6 327.4 188.0 327.9 183.1 328.4 182.5 328.8 166.3 329.3 191.5 329.8 199.1 330.2 183.0 330.7 199.8 331.2 200.0 331.6 197.0 332.1 201.2 332.6 185.9 333.0 201.2 333.5 200.4 333.9 200.8 334.4 200.8 334.9 200.3 335.3 200.5 335.8 199.5 336.3 199.9 336.7 200.5 337.2 167.2 337.7 200.5 338.1 200.5 338.6 193.0 339.1 200.8 339.5 191.9 340.0 201.0 340.4 200.5 340.9 200.7 341.4 160.0 341.8 199.7 342.3 195.4 342.8 180.0 343.2 189.0 343.7 200.4 344.2 185.5 344.6 200.4 345.1 186.6 345.6 194.5 346.0 199.4 346.5 195.7 347.0 183.9 347.4 199.7 347.9 187.7 348.3 199.9 348.8 200.8 349.3 200.6 349.7 201.0 350.2 200.7 350.7 201.1 351.1 200.0 351.6 201.3 352.1 200.3 352.5 200.9 353.0 200.4 353.5 201.1 353.9 200.7 354.4 200.6 354.8 200.8 355.3 200.5 355.8 200.5 356.2 201.3 356.7 192.5 357.2 200.6 357.6 200.3 358.1 201.2 358.6 200.1 359.0 159.0 359.5 158.1 360.0 169.4 360.4 200.5 360.9 200.7 361.4 200.5 361.8 201.1 362.3 187.1 362.7 201.6 363.2 200.9 363.7 200.8 364.1 157.0 364.6 201.1 365.1 174.1 365.5 188.0 366.0 200.7 366.5 200.9 366.9 195.5 367.4 195.4 367.9 200.0 368.3 194.6 368.8 201.1 369.3 201.0 369.7 200.9 370.2 189.3 370.6 163.0 371.1 200.7 371.6 201.2 372.0 176.3 372.5 183.3 373.0 200.9 373.4 191.4 373.9 200.3 374.4 200.7 374.8 162.0 375.3 191.8 375.8 201.2 376.2 195.2 376.7 201.8 377.1 200.7 377.6 164.1 378.1 200.5 378.5 201.3 379.0 195.7 379.5 197.9 379.9 201.9 380.4 200.8 380.9 195.6 381.3 201.2 381.8 200.5 382.3 192.6 382.7 200.9 383.2 201.4 383.7 200.3 384.1 192.4 384.6 177.6 385.0 164.0 385.5 192.1 386.0 200.9 386.4 200.7 386.9 199.9 387.4 182.0 387.8 200.9 388.3 201.2 388.8 200.4 389.2 200.7 389.7 191.4 390.2 201.3 390.6 141.6 391.1 201.2 391.6 200.7 392.0 201.1 392.5 192.0 392.9 192.3 393.4 201.9 393.9 199.6 394.3 200.3 394.8 170.6 395.3 200.8 395.7 196.5 396.2 200.3 396.7 190.5 397.1 182.5 397.6 200.2 398.1 170.0 398.5 201.4 399.0 174.2 399.4 201.2 399.9 201.0 400.4 200.7 400.8 185.3 401.3 201.0 401.8 201.2 402.2 195.1 402.7 200.6 403.2 200.4 403.6 199.8 404.1 201.0 404.6 201.2 405.0 200.8 405.5 201.0 406.0 174.7 406.4 201.5 406.9 201.3 407.3 184.0 407.8 200.5 408.3 194.6 408.7 200.9 409.2 200.4 409.7 171.8 410.1 200.1 410.6 200.4 411.1 183.5 411.5 201.3 412.0 200.0 412.5 201.1 412.9 201.0 413.4 200.8 413.9 192.6 414.3 200.8 414.8 201.3 415.2 197.0 415.7 201.4 416.2 200.5 416.6 197.8 417.1 191.1 417.6 200.9 418.0 193.4 418.5 201.5 419.0 183.7 419.4 201.0 419.9 201.2 420.4 200.9 420.8 160.0 421.3 176.9 421.7 201.4 422.2 201.2 422.7 201.4 423.1 197.3 423.6 185.6 424.1 169.7 424.5 171.5 425.0 198.1 425.5 189.6 425.9 201.0 426.4 184.1 426.9 187.9 427.3 200.9 427.8 185.6 428.3 194.5 428.7 201.4 429.2 200.8 429.6 172.4 430.1 200.9 430.6 200.2 431.0 193.1 431.5 183.4 432.0 200.7 432.4 182.4 432.9 201.3 433.4 189.2 433.8 201.1 434.3 200.1 434.8 201.4 435.2 183.5 435.7 187.1 436.2 201.6 436.6 201.3 437.1 201.7 437.5 198.3 438.0 194.0 438.5 200.8 438.9 202.1 439.4 202.2 439.9 201.0 440.3 201.3 440.8 201.4 441.3 201.5 441.7 200.4 442.2 193.1 442.7 190.5 443.1 201.3 443.6 172.5 444.0 201.9 444.5 201.1 445.0 191.3 445.4 202.0 445.9 201.0 446.4 195.2 446.8 185.5 447.3 201.1 447.8 192.5 448.2 201.1 448.7 201.5 449.2 202.4 449.6 196.8 450.1 201.8 450.6 193.0 451.0 201.8 451.5 200.9 451.9 190.1 452.4 200.7 452.9 162.0 453.3 169.8 453.8 202.3 454.3 200.6 454.7 201.5 455.2 173.0 455.7 182.7 456.1 187.9 456.6 200.3 457.1 201.9 457.5 201.8 458.0 163.0 458.4 201.1 458.9 201.1 459.4 184.0 459.8 194.8 460.3 185.6 460.8 201.1 461.2 200.7 461.7 194.7 462.2 201.4 462.6 201.9 463.1 195.5 463.6 183.9 464.0 170.4 464.5 201.5 465.0 201.8 465.4 201.3 465.9 201.7 466.3 201.8 466.8 201.1 467.3 200.2 467.7 201.7 468.2 201.4 468.7 201.1 469.1 200.7 469.6 202.2 470.1 168.0 470.5 201.4 471.0 193.9 471.5 173.2 471.9 201.5 472.4 189.6 472.9 164.7 473.3 201.1 473.8 202.0 474.2 201.4 474.7 201.0 475.2 202.4 475.6 187.0 476.1 201.1 476.6 201.8 477.0 201.6 477.5 186.6 478.0 200.4 478.4 200.5 478.9 201.8 479.4 184.1 479.8 201.6 480.3 200.9 480.7 193.0 481.2 200.5 481.7 201.3 482.1 202.1 482.6 201.5 483.1 185.4 483.5 201.3 484.0 201.4 484.5 202.4 484.9 201.5 485.4 201.6 485.9 201.2 486.3 201.7 486.8 201.7 487.3 201.1 487.7 200.6 488.2 201.3 488.6 202.0 489.1 201.1 489.6 201.2 490.0 202.0 490.5 201.4 491.0 200.5 491.4 202.3 491.9 201.5 492.4 201.2 492.8 201.3 493.3 201.7 493.8 201.2 494.2 202.4 494.7 201.7 495.2 201.8 495.6 201.6 496.1 201.2 496.5 201.6 497.0 163.0 497.5 201.2 497.9 201.4 498.4 198.4 498.9 201.1 499.3 186.0 499.8 185.2 500.3 201.7 500.7 201.0 501.2 189.7 501.7 201.3 502.1 202.8 502.6 168.5 503.0 202.0 503.5 201.7 504.0 195.5 504.4 201.9 504.9 201.4 505.4 200.6 505.8 200.5 506.3 201.5 506.8 201.5 507.2 200.6 507.7 201.4 508.2 201.2 508.6 201.6 509.1 201.0 509.6 201.4 510.0 201.3 510.5 193.9 510.9 201.8 511.4 166.9 511.9 200.5 512.3 201.4 512.8 196.3 513.3 200.7 513.7 188.6 514.2 200.9 514.7 185.5 515.1 171.0 515.6 201.3 516.1 201.3 516.5 201.4 517.0 201.2 517.5 184.2 517.9 201.2 518.4 188.6 518.8 187.8 519.3 168.3 519.8 191.7 520.2 200.6 520.7 201.4 521.2 200.8 521.6 166.3 522.1 196.0 522.6 201.1 523.0 201.9 523.5 200.8 524.0 200.7 524.4 193.2 524.9 189.3 525.3 197.1 525.8 200.7 526.3 190.4 526.7 188.8 527.2 201.2 527.7 200.3 528.1 165.0 528.6 201.0 529.1 201.5 529.5 200.8 530.0 201.1 530.5 188.7 530.9 164.6 531.4 189.4 531.9 200.4 532.3 190.9 532.8 199.4 533.2 191.6 533.7 201.7 534.2 195.1 534.6 168.0 535.1 200.8 535.6 186.9 536.0 200.7 536.5 194.5 537.0 196.3 537.4 201.3 537.9 200.8 538.4 201.5 538.8 200.1 539.3 192.0 539.8 193.8 540.2 164.8 540.7 200.8 541.1 200.2 541.6 200.3 542.1 195.2 542.5 200.2 543.0 200.6 543.5 200.7 543.9 200.2 544.4 196.6 544.9 160.0 545.3 200.4 545.8 200.8 546.3 201.0 546.7 170.1 547.2 201.0 547.6 182.5 548.1 200.7 548.6 199.9 549.0 200.6 549.5 195.0 550.0 201.0 550.4 199.6 550.9 200.7 551.4 199.9 551.8 187.9 552.3 189.4 552.8 194.4 553.2 201.0 553.7 162.7 554.2 200.2 554.6 200.4 555.1 200.7 555.5 191.9 556.0 184.8 556.5 200.7 556.9 200.0 557.4 201.1 557.9 201.0 558.3 200.8 558.8 200.4 559.3 200.3 559.7 200.8 560.2 200.7 560.7 191.9 561.1 200.1 561.6 196.2 562.0 201.0 562.5 200.0 563.0 200.5 563.4 200.5 563.9 169.1 564.4 189.3 564.8 172.0 565.3 200.8 565.8 182.9 566.2 200.8 566.7 195.8 567.2 200.1 567.6 200.7 568.1 196.4 568.6 162.9 569.0 182.8 569.5 173.0 569.9 175.4 570.4 200.5 570.9 200.3 571.3 200.7 571.8 185.8 572.3 200.5 572.7 200.6 573.2 199.8 573.7 200.8 574.1 185.2 574.6 192.2 575.1 200.3 575.5 200.1 576.0 199.5 576.5 194.7 576.9 195.2 577.4 201.1 577.8 201.1 578.3 197.0 578.8 200.5 579.2 187.0 579.7 200.5 580.2 163.0 580.6 200.2 581.1 199.9 581.6 186.7 582.0 200.6 582.5 200.4 583.0 195.5 583.4 192.4 583.9 200.5 584.3 184.2 584.8 199.7 585.3 166.7 585.7 199.9 586.2 200.6 586.7 196.2 587.1 197.5 587.6 200.4 588.1 200.8 588.5 200.1 589.0 189.5 589.5 192.9 589.9 196.8 590.4 199.8 590.9 161.6 591.3 188.3 591.8 200.4 592.2 200.4 592.7 199.5 593.2 199.7 593.6 199.6 594.1 200.5 594.6 199.8 595.0 172.0 595.5 200.5 596.0 200.0 596.4 200.5 596.9 200.6 597.4 200.0 597.8 195.4 598.3 190.9 598.8 201.2 599.2 199.7 599.7 200.8 600.1 199.9 600.6 199.7 601.1 200.9 601.5 200.0 602.0 199.2 602.5 199.6 602.9 199.8 603.4 161.5 603.9 200.8 604.3 200.6 604.8 200.2 605.3 200.4 605.7 195.8 606.2 199.4 606.6 195.8 607.1 166.0 607.6 190.6 608.0 200.3 608.5 200.7 609.0 200.0 609.4 200.0 609.9 187.2 610.4 199.7 610.8 200.6 611.3 185.0 611.8 199.6 612.2 170.5 612.7 183.2 613.2 201.2 613.6 188.4 614.1 200.2 614.5 200.9 615.0 200.1 615.5 192.4 615.9 200.1 616.4 195.1 616.9 182.7 617.3 187.7 617.8 194.4 618.3 195.3 618.7 200.5 619.2 190.8 619.7 200.2 620.1 188.5 620.6 199.4 621.1 167.0 621.5 186.2 622.0 184.5 622.4 199.8 622.9 188.2 623.4 199.6 623.8 200.7 624.3 200.3 624.8 194.7 625.2 199.9 625.7 199.5 626.2 199.6 626.6 160.9 627.1 198.7 627.6 175.8 628.0 200.1 628.5 199.3 628.9 182.7 629.4 199.6 629.9 191.0 630.3 186.9 630.8 194.2 631.3 183.7 631.7 194.4 632.2 192.9 632.7 200.9 633.1 200.2 633.6 199.1 634.1 199.7 634.5 200.5 635.0 185.3 635.5 199.8 635.9 193.0 636.4 199.8 636.8 200.4 637.3 200.3 637.8 173.8 638.2 161.0 638.7 175.3 639.2 200.4 639.6 200.4 640.1 160.1 640.6 199.1 641.0 196.2 641.5 200.3 642.0 200.0 642.4 199.6 642.9 195.4 643.4 141.0 643.8 200.3 644.3 201.0 644.7 199.8 645.2 200.4 645.7 199.5 646.1 186.2 646.6 199.8 647.1 193.6 647.5 199.8 648.0 163.5 648.5 200.4 648.9 199.3 649.4 200.4 649.9 199.3 650.3 187.3 650.8 200.0 651.2 184.3 651.7 200.3 652.2 188.1 652.6 192.6 653.1 200.2 653.6 165.5 654.0 198.9 654.5 200.5 655.0 190.6 655.4 199.7 655.9 191.3 656.4 199.5 656.8 199.7 657.3 193.8 657.8 165.5 658.2 199.6 658.7 199.9 659.1 200.2 659.6 185.8 660.1 157.0 660.5 200.3 661.0 195.9 661.5 199.3 661.9 200.1 662.4 192.8 662.9 200.8 663.3 200.2 663.8 165.0 664.3 190.6 664.7 199.3 665.2 199.7 665.6 189.1 666.1 184.5 666.6 200.3 667.0 188.1 667.5 200.6 668.0 199.3 668.4 199.1 668.9 200.2 669.4 199.6 669.8 199.4 670.3 199.9 670.8 192.5 671.2 185.0 671.7 199.5 672.2 181.8 672.6 168.1 673.1 195.0 673.5 199.5 674.0 199.7 674.5 187.3 674.9 199.9 675.4 191.4 675.9 199.6 676.3 195.8 676.8 199.4 677.3 199.2 677.7 200.1 678.2 199.4 678.7 191.7 679.1 199.4 679.6 181.8 680.1 200.1 680.5 199.3 681.0 192.5 681.4 199.2 681.9 198.9 682.4 158.0 682.8 199.8 683.3 198.6 683.8 198.7 684.2 199.2 684.7 199.8 685.2 199.2 685.6 200.0 686.1 199.4 686.6 199.4 687.0 200.3 687.5 192.1 687.9 190.5 688.4 184.2 688.9 199.9 689.3 200.2 689.8 199.4 690.3 185.1 690.7 200.0 691.2 199.2 691.7 190.1 692.1 167.6 692.6 199.4 693.1 199.0 693.5 194.2 694.0 158.0 694.5 198.9 694.9 161.9 695.4 199.2 695.8 184.6 696.3 200.1 696.8 172.1 697.2 199.0 697.7 199.8 698.2 189.1 698.6 198.8 699.1 189.7 699.6 199.4 700.0 199.9 700.5 184.0 701.0 194.3 701.4 199.1 701.9 199.4 702.4 198.6 702.8 199.6 703.3 191.3 703.7 198.4 704.2 199.7 704.7 199.6 705.1 185.5 705.6 164.4 706.1 199.2 706.5 182.0 707.0 157.0 707.5 192.6 707.9 200.4 708.4 199.4 708.9 199.2 709.3 199.1 709.8 200.3 710.2 195.4 710.7 169.9 711.2 199.7 711.6 199.8 712.1 199.5 712.6 200.2 713.0 183.4 713.5 199.4 714.0 187.7 714.4 192.7 714.9 187.2 715.4 192.3 715.8 199.0 716.3 199.4 716.8 199.2 717.2 157.3 717.7 189.6 718.1 200.1 718.6 198.5 719.1 186.5 719.5 198.6 720.0 185.4 720.5 199.2 720.9 199.7 721.4 194.3 721.9 199.2 722.3 199.7 722.8 199.7 723.3 199.1 723.7 184.8 724.2 199.9 724.7 190.3 725.1 191.0 725.6 199.2 726.0 198.4 726.5 200.2 727.0 199.3 727.4 198.4 727.9 198.9 728.4 166.4 728.8 199.5 729.3 199.1 729.8 183.2 730.2 157.6 730.7 199.6 731.2 199.7 731.6 199.3 732.1 182.6 732.5 187.4 733.0 192.3 733.5 198.9 733.9 199.4 734.4 199.2 734.9 159.9 735.3 198.7 735.8 199.5 736.3 191.9 736.7 199.7 737.2 165.0 737.7 199.2 738.1 184.2 738.6 199.0 739.1 198.7 739.5 199.1 740.0 180.7 740.4 195.2 740.9 199.1 741.4 199.4 741.8 190.8 742.3 172.1 742.8 198.7 743.2 184.4 743.7 193.1 744.2 198.3 744.6 199.4 745.1 198.8 745.6 198.9 746.0 189.1 746.5 183.5 747.0 199.5 747.4 198.8 747.9 199.5 748.3 193.3 748.8 153.0 749.3 198.1 749.7 198.5 750.2 199.5 750.7 199.4 751.1 200.0 751.6 198.6 752.1 199.3 752.5 185.2 753.0 186.0 753.5 193.1 753.9 198.5 754.4 179.0 754.8 182.7 755.3 199.0 755.8 186.2 756.2 182.6 756.7 199.1 757.2 198.1 757.6 199.6 758.1 198.9 758.6 182.9 759.0 192.5 759.5 198.6 760.0 199.1 760.4 198.1 760.9 159.1 761.4 186.2 761.8 199.1 762.3 198.8 762.7 198.6 763.2 188.1 763.7 195.6 764.1 188.6 764.6 186.5 765.1 198.4 765.5 199.0 766.0 199.2 766.5 183.4 766.9 187.2 767.4 199.2 767.9 198.7 768.3 197.9 768.8 200.0 769.2 199.1 769.7 163.6 770.2 198.0 770.6 199.3 771.1 197.8 771.6 198.7 772.0 198.6 772.5 198.1 773.0 186.8 773.4 190.4 773.9 185.7 774.4 194.6 774.8 199.3 775.3 198.2 775.8 199.3 776.2 153.0 776.7 199.3 777.1 198.5 777.6 198.9 778.1 198.2 778.5 187.0 779.0 198.7 779.5 194.1 779.9 192.4 780.4 192.0 780.9 159.0 781.3 191.6 781.8 186.8 782.3 198.5 782.7 198.7 783.2 165.4 783.7 198.8 784.1 197.9 784.6 198.8 785.0 177.2 785.5 198.0 786.0 198.2 786.4 191.3 786.9 199.4 787.4 183.1 787.8 183.9 788.3 198.6 788.8 198.9 789.2 197.2 789.7 193.2 790.2 170.0 790.6 182.4 791.1 198.0 791.5 185.9 792.0 182.0 792.5 199.0 792.9 190.7 793.4 199.1 793.9 198.1 794.3 193.4 794.8 198.7 795.3 183.6 795.7 198.8 796.2 198.7 796.7 198.5 797.1 167.3 797.6 198.7 798.1 182.8 798.5 191.1 799.0 184.4 799.4 198.1 799.9 198.8 800.4 193.0 800.8 198.6 801.3 197.9 801.8 198.3 802.2 197.6 802.7 193.4 803.2 198.7 803.6 198.1 804.1 197.9 804.6 198.8 805.0 198.8 805.5 172.7 806.0 198.5 806.4 163.4 806.9 197.9 807.3 198.0 807.8 198.3 808.3 191.9 808.7 198.3 809.2 198.3 809.7 192.9 810.1 198.5 810.6 198.8 811.1 183.9 811.5 198.7 812.0 198.5 812.5 198.7 812.9 192.1 813.4 174.1 813.8 199.5 814.3 199.2 814.8 197.8 815.2 197.4 815.7 198.5 816.2 198.5 816.6 198.3 817.1 198.2 817.6 184.1 818.0 181.8 818.5 197.7 819.0 184.6 819.4 169.0 819.9 198.5 820.4 188.5 820.8 199.1 821.3 198.7 821.7 198.6 822.2 185.3 822.7 182.9 823.1 174.0 823.6 189.1 824.1 198.1 824.5 197.4 825.0 198.1 825.5 170.9 825.9 198.1 826.4 197.0 826.9 172.6 827.3 166.3 827.8 165.9 828.3 197.4 828.7 185.3 829.2 183.1 829.6 183.2 830.1 194.1 830.6 197.1 831.0 187.0 831.5 197.7 832.0 197.8 832.4 198.3 832.9 198.9 833.4 197.5 833.8 198.1 834.3 189.6 834.8 198.3 835.2 198.1 835.7 198.1 836.1 190.2 836.6 197.3 837.1 198.4 837.5 187.3 838.0 159.0 838.5 198.5 838.9 198.8 839.4 198.7 839.9 186.9 840.3 182.0 840.8 153.0 841.3 198.5 841.7 198.0 842.2 198.0 842.7 198.4 843.1 197.3 843.6 198.0 844.0 197.5 844.5 198.7 845.0 192.7 845.4 197.6 845.9 188.4 846.4 198.7 846.8 197.8 847.3 197.1 847.8 197.4 848.2 197.9 848.7 191.7 849.2 132.4 849.6 198.3 850.1 185.4 850.6 197.2 851.0 188.2 851.5 197.1 851.9 197.1 852.4 188.3 852.9 196.5 853.3 197.4 853.8 197.0 854.3 190.0 854.7 191.8 855.2 166.5 855.7 197.7 856.1 197.8 856.6 197.7 857.1 162.4 857.5 197.7 858.0 197.8 858.4 197.6 858.9 189.3 859.4 197.7 859.8 197.4 860.3 171.8 860.8 197.5 861.2 197.5 861.7 194.4 862.2 151.8 862.6 185.7 863.1 197.2 863.6 198.4 864.0 170.6 864.5 197.4 865.0 196.9 865.4 197.5 865.9 196.2 866.3 197.0 866.8 197.2 867.3 196.9 867.7 180.3 868.2 184.1 868.7 183.1 869.1 133.5 869.6 188.2 870.1 196.8 870.5 193.0 871.0 156.1 871.5 197.5 871.9 197.6 872.4 186.0 872.8 196.4 873.3 196.9 873.8 187.5 874.2 197.4 874.7 197.6 875.2 167.8 875.6 198.0 876.1 197.0 876.6 196.8 877.0 192.3 877.5 196.0 878.0 197.3 878.4 185.0 878.9 144.0 879.4 191.8 879.8 193.6 880.3 196.1 880.7 196.7 881.2 196.8 881.7 183.1 882.1 196.4 882.6 196.3 883.1 117.3 883.5 196.1 884.0 196.9 884.5 181.3 884.9 197.2 885.4 165.9 885.9 196.6 886.3 187.4 886.8 195.8 887.3 192.6 887.7 196.7 888.2 137.8 888.6 197.0 889.1 196.2 889.6 196.4 890.0 181.0 890.5 196.7 891.0 196.3 891.4 196.8 891.9 197.1 892.4 169.7 892.8 197.5 893.3 196.7 893.8 189.4 894.2 196.4 894.7 195.3 895.1 182.1 895.6 197.4 896.1 189.6 896.5 196.6 897.0 196.3 897.5 196.4 897.9 189.3 898.4 196.4 898.9 195.4 899.3 196.8 899.8 192.7 900.3 160.5 900.7 195.6 901.2 195.8 901.7 181.8 902.1 197.0 902.6 181.3 903.0 197.1 903.5 196.4 904.0 196.7 904.4 195.6 904.9 159.4 905.4 184.8 905.8 195.7 906.3 195.5 906.8 196.5 907.2 175.3 907.7 195.9 908.2 182.1 908.6 191.6 909.1 184.2 909.6 196.6 910.0 196.5 910.5 164.4 910.9 196.7 911.4 189.9 911.9 195.7 912.3 196.7 912.8 134.6 913.3 196.2 913.7 184.8 914.2 197.6 914.7 184.0 915.1 196.3 915.6 185.4 916.1 196.0 916.5 195.3 917.0 188.4 917.4 189.2 917.9 171.0 918.4 195.8 918.8 195.9 919.3 195.9 919.8 196.9 920.2 195.7 920.7 197.0 921.2 195.7 921.6 196.0 922.1 192.5 922.6 196.4 923.0 196.9 923.5 196.7 924.0 184.8 924.4 188.0 924.9 174.0 925.3 179.4 925.8 195.8 926.3 170.2 926.7 186.8 927.2 196.1 927.7 195.9 928.1 196.4 928.6 181.6 929.1 197.1 929.5 197.2 930.0 196.3 930.5 197.3 930.9 197.1 931.4 179.0 931.9 196.9 932.3 191.3 932.8 197.3 933.2 196.0 933.7 197.3 934.2 196.9 934.6 195.8 935.1 196.8 935.6 187.3 936.0 141.0 936.5 197.1 937.0 196.6 937.4 180.7 937.9 193.0 938.4 192.0 938.8 188.0 939.3 197.0 939.7 196.9 940.2 197.4 940.7 198.3 941.1 164.9 941.6 197.1 942.1 162.0 942.5 196.9 943.0 182.9 943.5 197.1 943.9 197.8 944.4 197.3 944.9 197.6 945.3 197.8 945.8 197.1 946.3 194.0 946.7 198.5 947.2 188.4 947.6 197.9 948.1 176.0 948.6 198.5 949.0 183.5 949.5 194.4 950.0 198.2 950.4 197.4 950.9 197.5 951.4 173.2 951.8 198.2 952.3 197.5 952.8 198.2 953.2 184.0 953.7 197.6 954.2 191.5 954.6 198.5 955.1 167.2 955.5 197.5 956.0 198.4 956.5 198.2 956.9 198.5 957.4 198.1 957.9 198.8 958.3 197.4 958.8 198.9 959.3 199.2 959.7 198.1 960.2 198.6 960.7 192.5 961.1 173.0 961.6 158.8 962.0 158.9 962.5 199.1 963.0 199.1 963.4 199.7 963.9 198.7 964.4 198.9 964.8 199.4 965.3 184.3 965.8 199.2 966.2 198.8 966.7 199.9 967.2 198.9 967.6 199.6 968.1 163.7 968.6 197.5 969.0 188.6 969.5 182.5 969.9 199.7 970.4 199.1 970.9 199.9 971.3 187.7 971.8 189.1 972.3 199.8 972.7 199.8 973.2 200.4 973.7 199.1 974.1 190.5 974.6 191.9 975.1 161.3 975.5 199.0 976.0 183.1 976.4 199.4 976.9 199.9 977.4 201.2 977.8 163.7 978.3 200.6 978.8 200.1 979.2 199.7 979.7 200.0 980.2 199.9 980.6 164.0 981.1 200.4 981.6 200.3 982.0 199.6 982.5 192.4 983.0 199.8 983.4 200.3 983.9 200.8 984.3 200.3 984.8 200.5 985.3 200.8 985.7 200.8 986.2 199.9 986.7 200.2 987.1 200.7 987.6 200.1 988.1 200.0 988.5 200.3 989.0 200.5 989.5 201.1 989.9 200.3 990.4 200.2 990.9 200.4 991.3 201.1 991.8 199.8 992.2 200.9 992.7 201.2 993.2 200.5 993.6 200.5 994.1 200.2 994.6 200.4 995.0 200.8 995.5 201.5 996.0 201.2 996.4 200.7 996.9 162.6 997.4 200.4 997.8 201.5 998.3 200.3 998.7 165.8"/>
<path stroke="#1818d0" stroke-width="0.9" d="M150.9 33.9 151.4 30.4 151.8 30.3 152.3 37.7 152.8 30.3 153.2 30.9 153.7 30.3 154.2 63.0 154.6 30.3 155.1 30.3 155.5 33.0 156.0 34.0 156.5 30.3 156.9 30.3 157.4 30.3 157.9 32.0 158.3 30.3 158.8 30.3 159.3 30.3 159.7 30.3 160.2 33.1 160.7 30.3 161.1 30.3 161.6 30.3 162.1 30.3 162.5 30.3 163.0 30.3 163.4 30.9 163.9 30.3 164.4 30.3 164.8 30.3 165.3 30.3 165.8 30.3 166.2 30.3 166.7 30.3 167.2 34.6 167.6 30.3 168.1 30.3 168.6 38.6 169.0 30.3 169.5 30.3 169.9 30.3 170.4 30.3 170.9 30.3 171.3 30.3 171.8 30.3 172.3 30.3 172.7 31.8 173.2 31.5 173.7 40.8 174.1 30.3 174.6 43.6 175.1 30.3 175.5 30.3 176.0 33.2 176.5 30.3 176.9 30.3 177.4 30.3 177.8 30.3 178.3 30.3 178.8 30.3 179.2 30.3 179.7 30.3 180.2 31.9 180.6 30.3 181.1 51.7 181.6 30.3 182.0 40.3 182.5 30.3 183.0 34.9 183.4 30.7 183.9 30.3 184.4 30.3 184.8 30.3 185.3 30.3 185.7 30.3 186.2 34.1 186.7 30.3 187.1 30.3 187.6 30.3 188.1 30.3 188.5 30.3 189.0 31.1 189.5 30.3 189.9 39.7 190.4 30.3 190.9 30.3 191.3 30.5 191.8 30.3 192.2 30.3 192.7 30.3 193.2 30.3 193.6 30.3 194.1 34.2 194.6 30.3 195.0 30.3 195.5 33.6 196.0 41.1 196.4 30.3 196.9 30.3 197.4 30.3 197.8 30.3 198.3 35.4 198.8 30.3 199.2 33.8 199.7 30.3 200.1 30.3 200.6 35.6 201.1 30.3 201.5 30.6 202.0 30.3 202.5 30.3 202.9 30.3 203.4 30.3 203.9 30.3 204.3 30.3 204.8 30.3 205.3 30.3 205.7 30.3 206.2 45.3 206.7 30.3 207.1 33.9 207.6 30.7 208.0 30.3 208.5 30.3 209.0 30.3 209.4 30.3 209.9 34.1 210.4 30.3 210.8 30.3 211.3 30.3 211.8 30.3 212.2 30.3 212.7 30.3 213.2 30.3 213.6 30.3 214.1 30.3 214.5 30.3 215.0 31.4 215.5 30.3 215.9 30.3 216.4 30.3 216.9 33.0 217.3 30.3 217.8 30.3 218.3 30.3 218.7 30.3 219.2 30.3 219.7 31.7 220.1 32.1 220.6 30.3 221.1 30.3 221.5 30.3 222.0 30.3 222.4 43.7 222.9 30.3 223.4 30.3 223.8 32.2 224.3 36.1 224.8 30.3 225.2 31.1 225.7 30.3 226.2 30.3 226.6 30.3 227.1 30.3 227.6 30.3 228.0 30.3 228.5 32.5 229.0 30.3 229.4 32.0 229.9 40.8 230.3 32.0 230.8 30.3 231.3 30.3 231.7 31.1 232.2 30.3 232.7 30.3 233.1 30.3 233.6 34.4 234.1 30.3 234.5 33.7 235.0 36.1 235.5 30.3 235.9 30.3 236.4 30.3 236.8 30.3 237.3 30.3 237.8 30.3 238.2 30.3 238.7 30.3 239.2 30.3 239.6 30.3 240.1 32.7 240.6 30.3 241.0 35.5 241.5 30.3 242.0 30.3 242.4 30.3 242.9 30.3 243.4 30.3 243.8 30.3 244.3 43.5 244.7 41.8 245.2 30.3 245.7 32.1 246.1 33.4 246.6 30.3 247.1 35.2 247.5 31.6 248.0 30.3 248.5 30.3 248.9 31.0 249.4 40.1 249.9 30.3 250.3 30.3 250.8 30.3 251.2 30.3 251.7 30.3 252.2 30.3 252.6 30.3 253.1 30.3 253.6 30.3 254.0 30.3 254.5 41.2 255.0 30.3 255.4 30.3 255.9 32.4 256.4 30.3 256.8 33.5 257.3 32.7 257.8 33.2 258.2 30.3 258.7 30.3 259.1 31.2 259.6 30.3 260.1 30.3 260.5 30.9 261.0 30.9 261.5 30.3 261.9 30.3 262.4 30.3 262.9 30.3 263.3 44.1 263.8 30.3 264.3 38.2 264.7 30.3 265.2 30.3 265.7 30.3 266.1 33.1 266.6 30.3 267.0 30.3 267.5 30.3 268.0 30.3 268.4 30.3 268.9 30.3 269.4 30.3 269.8 30.3 270.3 43.0 270.8 31.9 271.2 30.3 271.7 30.3 272.2 30.3 272.6 30.3 273.1 30.3 273.5 30.3 274.0 30.3 274.5 31.9 274.9 30.3 275.4 48.9 275.9 30.3 276.3 30.3 276.8 30.3 277.3 30.3 277.7 31.3 278.2 30.3 278.7 30.3 279.1 30.5 279.6 30.3 280.1 30.3 280.5 30.3 281.0 30.3 281.4 30.3 281.9 30.3 282.4 30.3 282.8 30.3 283.3 30.3 283.8 30.3 284.2 35.3 284.7 30.3 285.2 30.3 285.6 30.3 286.1 30.3 286.6 30.3 287.0 30.3 287.5 37.0 288.0 30.3 288.4 30.3 288.9 30.3 289.3 30.3 289.8 33.3 290.3 31.5 290.7 30.3 291.2 30.3 291.7 30.3 292.1 30.3 292.6 30.9 293.1 31.2 293.5 30.3 294.0 30.3 294.5 30.3 294.9 30.3 295.4 30.3 295.8 30.3 296.3 33.7 296.8 43.6 297.2 30.3 297.7 30.3 298.2 30.3 298.6 30.8 299.1 30.3 299.6 30.3 300.0 30.3 300.5 31.8 301.0 30.3 301.4 30.3 301.9 30.3 302.4 30.3 302.8 31.9 303.3 36.1 303.7 31.2 304.2 30.3 304.7 30.3 305.1 30.3 305.6 30.3 306.1 30.8 306.5 30.3 307.0 30.3 307.5 30.3 307.9 30.3 308.4 35.4 308.9 30.3 309.3 30.3 309.8 30.3 310.3 30.3 310.7 32.5 311.2 30.3 311.6 32.5 312.1 30.3 312.6 53.0 313.0 37.3 313.5 30.3 314.0 30.3 314.4 30.3 314.9 30.3 315.4 30.3 315.8 30.3 316.3 30.3 316.8 30.3 317.2 30.3 317.7 30.3 318.1 30.4 318.6 40.9 319.1 30.3 319.5 30.3 320.0 30.3 320.5 30.3 320.9 30.3 321.4 30.3 321.9 30.3 322.3 33.1 322.8 30.3 323.3 30.3 323.7 35.0 324.2 30.3 324.7 30.3 325.1 38.1 325.6 30.3 326.0 30.3 326.5 30.3 327.0 30.3 327.4 30.3 327.9 31.5 328.4 51.4 328.8 30.3 329.3 30.3 329.8 30.3 330.2 30.3 330.7 30.3 331.2 30.3 331.6 30.3 332.1 30.3 332.6 30.3 333.0 30.3 333.5 30.3 333.9 30.3 334.4 45.0 334.9 30.3 335.3 35.6 335.8 30.3 336.3 30.3 336.7 30.3 337.2 30.9 337.7 30.3 338.1 30.3 338.6 30.3 339.1 30.3 339.5 30.3 340.0 33.8 340.4 30.3 340.9 30.3 341.4 30.3 341.8 30.6 342.3 47.8 342.8 30.3 343.2 30.3 343.7 30.3 344.2 30.3 344.6 30.3 345.1 43.0 345.6 30.3 346.0 30.3 346.5 30.3 347.0 30.3 347.4 30.3 347.9 30.3 348.3 30.3 348.8 34.0 349.3 30.3 349.7 30.3 350.2 30.3 350.7 30.3 351.1 30.3 351.6 30.3 352.1 30.3 352.5 30.3 353.0 30.3 353.5 30.3 353.9 42.6 354.4 33.9 354.8 30.3 355.3 30.3 355.8 30.6 356.2 30.3 356.7 30.3 357.2 30.3 357.6 33.5 358.1 30.3 358.6 30.3 359.0 30.3 359.5 30.3 360.0 44.0 360.4 30.3 360.9 30.3 361.4 30.3 361.8 30.3 362.3 33.7 362.7 30.3 363.2 30.3 363.7 30.3 364.1 30.3 364.6 30.3 365.1 30.3 365.5 30.3 366.0 30.3 366.5 32.0 366.9 30.3 367.4 30.3 367.9 30.3 368.3 30.3 368.8 30.3 369.3 30.3 369.7 30.3 370.2 30.3 370.6 30.3 371.1 38.8 371.6 30.3 372.0 30.3 372.5 30.3 373.0 30.3 373.4 36.4 373.9 30.3 374.4 30.3 374.8 30.3 375.3 30.3 375.8 30.3 376.2 30.3 376.7 30.3 377.1 30.9 377.6 30.3 378.1 30.3 378.5 30.3 379.0 30.3 379.5 30.8 379.9 30.3 380.4 30.3 380.9 30.3 381.3 30.3 381.8 30.3 382.3 30.3 382.7 30.3 383.2 44.0 383.7 32.2 384.1 33.8 384.6 30.3 385.0 35.4 385.5 32.7 386.0 30.3 386.4 31.7 386.9 30.3 387.4 43.8 387.8 30.3 388.3 30.3 388.8 33.8 389.2 30.3 389.7 31.5 390.2 30.3 390.6 51.4 391.1 30.3 391.6 30.3 392.0 33.0 392.5 30.3 392.9 30.3 393.4 35.3 393.9 30.3 394.3 30.3 394.8 38.7 395.3 30.3 395.7 36.1 396.2 30.3 396.7 30.3 397.1 30.3 397.6 30.3 398.1 33.4 398.5 30.3 399.0 31.4 399.4 30.3 399.9 30.3 400.4 32.1 400.8 33.4 401.3 30.3 401.8 30.3 402.2 30.3 402.7 30.3 403.2 30.3 403.6 30.3 404.1 30.3 404.6 30.3 405.0 30.3 405.5 30.3 406.0 30.3 406.4 30.3 406.9 39.5 407.3 30.3 407.8 30.3 408.3 31.1 408.7 30.3 409.2 30.3 409.7 30.3 410.1 30.3 410.6 30.3 411.1 51.7 411.5 30.3 412.0 30.3 412.5 35.9 412.9 30.3 413.4 30.3 413.9 30.3 414.3 34.6 414.8 30.3 415.2 30.3 415.7 31.7 416.2 45.2 416.6 30.3 417.1 30.3 417.6 30.3 418.0 30.3 418.5 30.3 419.0 30.3 419.4 30.3 419.9 32.5 420.4 30.3 420.8 30.3 421.3 30.3 421.7 30.3 422.2 31.8 422.7 30.3 423.1 30.3 423.6 30.3 424.1 30.3 424.5 30.3 425.0 30.3 425.5 30.3 425.9 30.3 426.4 37.6 426.9 30.3 427.3 30.3 427.8 30.3 428.3 30.3 428.7 41.8 429.2 30.3 429.6 30.3 430.1 30.3 430.6 30.3 431.0 30.3 431.5 30.3 432.0 30.3 432.4 30.3 432.9 30.3 433.4 30.3 433.8 30.3 434.3 30.3 434.8 33.6 435.2 30.3 435.7 31.7 436.2 30.3 436.6 30.3 437.1 30.3 437.5 30.3 438.0 30.3 438.5 30.3 438.9 30.3 439.4 43.4 439.9 30.3 440.3 30.3 440.8 30.3 441.3 30.3 441.7 30.3 442.2 30.3 442.7 30.3 443.1 31.4 443.6 30.3 444.0 32.6 444.5 30.3 445.0 30.3 445.4 30.3 445.9 30.3 446.4 30.3 446.8 30.3 447.3 30.3 447.8 30.3 448.2 31.5 448.7 30.3 449.2 30.3 449.6 31.4 450.1 30.3 450.6 30.3 451.0 35.4 451.5 30.3 451.9 30.3 452.4 42.9 452.9 37.8 453.3 30.3 453.8 30.3 454.3 30.3 454.7 30.3 455.2 30.3 455.7 30.3 456.1 30.3 456.6 30.3 457.1 30.3 457.5 30.3 458.0 30.3 458.4 30.3 458.9 30.3 459.4 30.3 459.8 30.3 460.3 30.3 460.8 30.3 461.2 30.3 461.7 30.3 462.2 35.0 462.6 36.1 463.1 30.3 463.6 30.3 464.0 30.3 464.5 30.3 465.0 30.3 465.4 31.7 465.9 30.3 466.3 31.9 466.8 30.6 467.3 31.3 467.7 30.3 468.2 30.3 468.7 30.3 469.1 30.3 469.6 30.3 470.1 30.3 470.5 30.3 471.0 30.3 471.5 30.3 471.9 30.3 472.4 30.3 472.9 30.6 473.3 30.3 473.8 34.4 474.2 31.3 474.7 30.3 475.2 33.6 475.6 30.3 476.1 45.3 476.6 30.3 477.0 31.7 477.5 34.1 478.0 34.6 478.4 30.3 478.9 33.2 479.4 30.3 479.8 30.3 480.3 33.0 480.7 30.3 481.2 30.3 481.7 30.3 482.1 43.6 482.6 34.1 483.1 30.3 483.5 30.3 484.0 30.3 484.5 30.3 484.9 30.3 485.4 30.9 485.9 30.3 486.3 30.3 486.8 30.3 487.3 30.3 487.7 30.3 488.2 30.3 488.6 30.3 489.1 30.3 489.6 30.3 490.0 30.3 490.5 30.3 491.0 30.3 491.4 33.4 491.9 30.3 492.4 30.3 492.8 30.3 493.3 35.0 493.8 30.3 494.2 30.3 494.7 30.3 495.2 30.3 495.6 39.8 496.1 30.3 496.5 30.3 497.0 30.3 497.5 30.3 497.9 36.7 498.4 32.5 498.9 30.3 499.3 30.3 499.8 30.3 500.3 31.2 500.7 35.5 501.2 30.3 501.7 56.0 502.1 30.3 502.6 30.3 503.0 30.3 503.5 33.1 504.0 30.3 504.4 30.3 504.9 30.3 505.4 30.3 505.8 30.3 506.3 30.3 506.8 33.1 507.2 33.9 507.7 30.3 508.2 30.3 508.6 30.3 509.1 30.3 509.6 30.3 510.0 30.3 510.5 38.5 510.9 30.3 511.4 33.3 511.9 30.3 512.3 30.3 512.8 30.3 513.3 30.3 513.7 32.8 514.2 30.3 514.7 30.3 515.1 30.3 515.6 30.3 516.1 30.3 516.5 34.6 517.0 30.3 517.5 30.3 517.9 30.3 518.4 30.8 518.8 30.3 519.3 30.3 519.8 30.3 520.2 31.6 520.7 30.3 521.2 30.3 521.6 30.3 522.1 30.3 522.6 30.3 523.0 30.3 523.5 35.5 524.0 30.3 524.4 30.3 524.9 39.9 525.3 34.2 525.8 30.3 526.3 40.7 526.7 30.3 527.2 42.0 527.7 30.3 528.1 30.3 528.6 30.3 529.1 30.3 529.5 35.5 530.0 31.4 530.5 30.3 530.9 30.3 531.4 30.3 531.9 30.3 532.3 30.3 532.8 30.3 533.2 30.3 533.7 30.3 534.2 30.3 534.6 31.4 535.1 30.3 535.6 36.7 536.0 30.3 536.5 30.3 537.0 34.1 537.4 30.3 537.9 30.3 538.4 30.3 538.8 30.3 539.3 30.3 539.8 30.3 540.2 30.3 540.7 30.3 541.1 31.0 541.6 30.3 542.1 30.3 542.5 30.3 543.0 30.3 543.5 30.3 543.9 30.3 544.4 30.3 544.9 30.3 545.3 30.3 545.8 30.3 546.3 33.5 546.7 46.4 547.2 30.3 547.6 30.3 548.1 35.6 548.6 30.3 549.0 30.3 549.5 30.3 550.0 30.3 550.4 30.3 550.9 31.3 551.4 30.3 551.8 30.3 552.3 30.3 552.8 30.3 553.2 30.3 553.7 30.3 554.2 30.3 554.6 30.3 555.1 30.3 555.5 30.3 556.0 30.3 556.5 30.3 556.9 31.2 557.4 30.3 557.9 30.3 558.3 30.3 558.8 30.3 559.3 30.3 559.7 30.3 560.2 34.6 560.7 30.3 561.1 30.3 561.6 30.3 562.0 30.3 562.5 32.1 563.0 30.3 563.4 32.1 563.9 30.3 564.4 34.2 564.8 32.6 565.3 30.3 565.8 37.6 566.2 30.3 566.7 30.8 567.2 30.3 567.6 30.3 568.1 30.3 568.6 30.3 569.0 32.2 569.5 30.3 569.9 30.3 570.4 30.3 570.9 30.3 571.3 31.1 571.8 40.4 572.3 30.3 572.7 32.0 573.2 30.3 573.7 38.3 574.1 34.4 574.6 30.3 575.1 30.3 575.5 30.3 576.0 30.3 576.5 47.0 576.9 30.3 577.4 30.3 577.8 30.3 578.3 30.3 578.8 30.3 579.2 30.5 579.7 30.3 580.2 30.3 580.6 30.3 581.1 39.9 581.6 34.7 582.0 30.3 582.5 30.3 583.0 30.4 583.4 37.5 583.9 33.9 584.3 30.3 584.8 30.3 585.3 30.3 585.7 30.3 586.2 30.3 586.7 31.2 587.1 30.3 587.6 43.6 588.1 30.3 588.5 30.3 589.0 30.3 589.5 30.3 589.9 30.3 590.4 30.3 590.9 30.3 591.3 30.7 591.8 30.3 592.2 30.3 592.7 35.8 593.2 30.3 593.6 30.3 594.1 30.3 594.6 33.4 595.0 30.3 595.5 31.7 596.0 31.7 596.4 30.3 596.9 30.3 597.4 30.3 597.8 30.3 598.3 30.3 598.8 30.3 599.2 30.3 599.7 30.3 600.1 30.3 600.6 30.5 601.1 30.3 601.5 30.3 602.0 30.3 602.5 30.3 602.9 30.3 603.4 30.3 603.9 32.3 604.3 30.3 604.8 30.3 605.3 30.3 605.7 36.7 606.2 30.8 606.6 30.3 607.1 30.3 607.6 30.3 608.0 30.3 608.5 30.3 609.0 30.3 609.4 30.3 609.9 30.5 610.4 30.3 610.8 30.7 611.3 30.3 611.8 32.5 612.2 30.3 612.7 30.3 613.2 30.3 613.6 31.8 614.1 44.0 614.5 30.3 615.0 30.3 615.5 30.3 615.9 30.3 616.4 30.3 616.9 30.6 617.3 30.3 617.8 36.5 618.3 30.3 618.7 31.5 619.2 30.3 619.7 30.3 620.1 30.3 620.6 30.3 621.1 30.3 621.5 30.3 622.0 30.3 622.4 30.3 622.9 30.3 623.4 30.3 623.8 30.3 624.3 30.3 624.8 30.3 625.2 30.3 625.7 30.7 626.2 30.3 626.6 30.3 627.1 30.4 627.6 30.3 628.0 45.4 628.5 45.3 628.9 30.3 629.4 30.3 629.9 33.7 630.3 30.3 630.8 30.3 631.3 45.3 631.7 30.3 632.2 30.3 632.7 31.0 633.1 30.3 633.6 30.3 634.1 30.3 634.5 35.1 635.0 30.3 635.5 30.3 635.9 30.3 636.4 30.3 636.8 30.3 637.3 30.3 637.8 30.3 638.2 35.3 638.7 44.6 639.2 30.3 639.6 32.3 640.1 32.9 640.6 30.3 641.0 30.3 641.5 30.3 642.0 30.3 642.4 35.7 642.9 30.3 643.4 30.3 643.8 67.5 644.3 39.7 644.7 38.1 645.2 30.3 645.7 35.1 646.1 30.3 646.6 30.5 647.1 30.3 647.5 30.3 648.0 36.2 648.5 30.3 648.9 30.3 649.4 30.3 649.9 30.3 650.3 30.3 650.8 30.3 651.2 30.3 651.7 30.3 652.2 30.6 652.6 30.3 653.1 30.3 653.6 30.3 654.0 30.3 654.5 30.3 655.0 30.3 655.4 30.3 655.9 30.3 656.4 30.3 656.8 34.7 657.3 30.3 657.8 30.3 658.2 45.0 658.7 42.4 659.1 30.3 659.6 45.3 660.1 30.3 660.5 30.3 661.0 31.7 661.5 30.5 661.9 30.3 662.4 30.3 662.9 33.8 663.3 30.3 663.8 30.3 664.3 30.3 664.7 30.7 665.2 30.3 665.6 30.3 666.1 30.3 666.6 30.3 667.0 30.3 667.5 30.3 668.0 30.6 668.4 30.3 668.9 30.3 669.4 30.3 669.8 34.3 670.3 30.3 670.8 30.3 671.2 30.3 671.7 30.3 672.2 30.3 672.6 30.4 673.1 30.3 673.5 30.3 674.0 30.3 674.5 30.3 674.9 30.3 675.4 34.1 675.9 30.3 676.3 30.3 676.8 31.6 677.3 30.3 677.7 30.5 678.2 30.3 678.7 30.3 679.1 30.3 679.6 37.0 680.1 30.3 680.5 30.3 681.0 30.3 681.4 39.5 681.9 30.3 682.4 30.3 682.8 30.3 683.3 30.3 683.8 30.3 684.2 33.7 684.7 30.3 685.2 30.3 685.6 30.3 686.1 30.3 686.6 30.3 687.0 30.8 687.5 30.3 687.9 30.3 688.4 30.3 688.9 30.3 689.3 30.3 689.8 30.3 690.3 30.9 690.7 30.3 691.2 30.3 691.7 31.9 692.1 30.3 692.6 30.3 693.1 54.0 693.5 30.3 694.0 30.3 694.5 40.4 694.9 41.8 695.4 31.9 695.8 30.3 696.3 32.9 696.8 30.3 697.2 30.3 697.7 30.3 698.2 30.3 698.6 30.3 699.1 30.3 699.6 31.5 700.0 30.3 700.5 30.6 701.0 37.0 701.4 30.3 701.9 30.3 702.4 30.3 702.8 30.3 703.3 30.3 703.7 30.3 704.2 30.3 704.7 30.3 705.1 30.3 705.6 46.0 706.1 30.3 706.5 31.7 707.0 30.3 707.5 30.3 707.9 30.3 708.4 30.3 708.9 34.1 709.3 30.3 709.8 30.3 710.2 33.1 710.7 30.3 711.2 42.7 711.6 30.3 712.1 30.3 712.6 30.3 713.0 30.3 713.5 30.3 714.0 31.1 714.4 30.3 714.9 30.3 715.4 30.3 715.8 30.3 716.3 30.3 716.8 30.3 717.2 30.3 717.7 30.3 718.1 30.3 718.6 30.3 719.1 30.3 719.5 30.3 720.0 34.4 720.5 30.3 720.9 30.3 721.4 35.4 721.9 30.3 722.3 30.3 722.8 30.3 723.3 30.3 723.7 30.3 724.2 30.3 724.7 30.3 725.1 30.3 725.6 34.7 726.0 30.3 726.5 30.3 727.0 34.3 727.4 30.3 727.9 30.4 728.4 30.3 728.8 32.1 729.3 33.4 729.8 30.3 730.2 48.9 730.7 30.3 731.2 39.8 731.6 30.3 732.1 30.3 732.5 30.3 733.0 30.3 733.5 30.3 733.9 30.3 734.4 34.4 734.9 30.3 735.3 31.8 735.8 30.3 736.3 30.4 736.7 30.3 737.2 30.3 737.7 38.6 738.1 36.3 738.6 30.3 739.1 35.6 739.5 30.3 740.0 30.4 740.4 30.3 740.9 30.9 741.4 30.3 741.8 30.3 742.3 30.5 742.8 31.8 743.2 30.3 743.7 30.3 744.2 30.3 744.6 35.3 745.1 30.3 745.6 30.3 746.0 30.3 746.5 31.0 747.0 30.3 747.4 30.3 747.9 30.7 748.3 30.3 748.8 30.3 749.3 30.3 749.7 43.0 750.2 37.0 750.7 38.4 751.1 30.6 751.6 35.5 752.1 30.6 752.5 30.3 753.0 30.3 753.5 30.3 753.9 30.3 754.4 30.3 754.8 32.7 755.3 30.4 755.8 30.3 756.2 30.3 756.7 37.9 757.2 30.3 757.6 35.7 758.1 30.3 758.6 30.3 759.0 30.3 759.5 30.3 760.0 30.3 760.4 30.3 760.9 30.3 761.4 34.9 761.8 30.3 762.3 30.3 762.7 30.3 763.2 30.3 763.7 30.3 764.1 31.4 764.6 30.3 765.1 30.3 765.5 30.3 766.0 30.3 766.5 30.3 766.9 30.3 767.4 30.3 767.9 30.6 768.3 30.3 768.8 31.4 769.2 43.1 769.7 30.3 770.2 30.3 770.6 30.3 771.1 30.3 771.6 30.3 772.0 30.3 772.5 30.3 773.0 30.3 773.4 30.3 773.9 64.7 774.4 31.4 774.8 30.3 775.3 30.3 775.8 30.3 776.2 33.1 776.7 30.7 777.1 30.3 777.6 30.3 778.1 30.3 778.5 30.3 779.0 30.3 779.5 30.3 779.9 30.3 780.4 31.1 780.9 30.3 781.3 34.1 781.8 36.6 782.3 35.9 782.7 30.3 783.2 30.3 783.7 32.7 784.1 30.3 784.6 30.3 785.0 30.3 785.5 30.3 786.0 30.3 786.4 35.7 786.9 32.4 787.4 31.9 787.8 30.3 788.3 30.3 788.8 32.6 789.2 30.3 789.7 30.3 790.2 34.2 790.6 30.3 791.1 44.9 791.5 30.3 792.0 42.0 792.5 30.3 792.9 30.3 793.4 30.3 793.9 30.3 794.3 30.3 794.8 30.3 795.3 30.3 795.7 31.6 796.2 30.3 796.7 30.3 797.1 30.3 797.6 30.5 798.1 30.3 798.5 30.3 799.0 30.3 799.4 30.3 799.9 32.7 800.4 30.3 800.8 30.3 801.3 30.3 801.8 30.3 802.2 36.7 802.7 30.3 803.2 39.8 803.6 30.3 804.1 30.3 804.6 30.3 805.0 30.3 805.5 30.3 806.0 30.3 806.4 38.5 806.9 30.3 807.3 34.5 807.8 34.1 808.3 30.3 808.7 30.3 809.2 30.4 809.7 30.3 810.1 30.3 810.6 30.5 811.1 30.3 811.5 30.3 812.0 30.3 812.5 30.3 812.9 30.3 813.4 30.3 813.8 30.3 814.3 30.3 814.8 45.0 815.2 30.3 815.7 30.3 816.2 30.3 816.6 36.8 817.1 30.3 817.6 30.3 818.0 35.5 818.5 30.3 819.0 30.3 819.4 30.3 819.9 30.3 820.4 30.3 820.8 30.3 821.3 30.3 821.7 30.3 822.2 30.3 822.7 30.3 823.1 37.6 823.6 30.3 824.1 30.3 824.5 30.3 825.0 30.3 825.5 30.3 825.9 30.3 826.4 30.3 826.9 30.3 827.3 30.3 827.8 30.3 828.3 30.3 828.7 33.4 829.2 30.3 829.6 30.3 830.1 30.3 830.6 30.3 831.0 30.3 831.5 30.3 832.0 30.3 832.4 30.3 832.9 30.3 833.4 30.3 833.8 42.7 834.3 30.3 834.8 36.0 835.2 30.3 835.7 33.8 836.1 30.3 836.6 30.3 837.1 30.3 837.5 30.3 838.0 30.3 838.5 30.3 838.9 30.3 839.4 30.3 839.9 30.3 840.3 30.3 840.8 30.3 841.3 30.3 841.7 30.3 842.2 30.3 842.7 32.6 843.1 30.3 843.6 32.3 844.0 30.3 844.5 52.4 845.0 30.3 845.4 30.3 845.9 33.5 846.4 30.3 846.8 30.3 847.3 30.3 847.8 30.3 848.2 30.3 848.7 63.0 849.2 30.3 849.6 34.6 850.1 32.1 850.6 31.2 851.0 30.3 851.5 33.4 851.9 38.0 852.4 30.3 852.9 30.3 853.3 30.3 853.8 30.3 854.3 30.3 854.7 30.3 855.2 30.3 855.7 33.6 856.1 30.3 856.6 32.3 857.1 30.3 857.5 30.8 858.0 32.5 858.4 30.3 858.9 30.3 859.4 30.3 859.8 30.3 860.3 30.3 860.8 30.3 861.2 30.3 861.7 30.3 862.2 47.0 862.6 30.3 863.1 30.3 863.6 31.3 864.0 30.3 864.5 30.3 865.0 30.3 865.4 37.6 865.9 30.3 866.3 30.7 866.8 30.3 867.3 30.3 867.7 30.3 868.2 30.3 868.7 30.3 869.1 52.4 869.6 30.3 870.1 33.4 870.5 30.3 871.0 30.3 871.5 34.6 871.9 30.3 872.4 36.0 872.8 30.3 873.3 30.3 873.8 30.3 874.2 38.3 874.7 30.3 875.2 35.9 875.6 30.3 876.1 30.3 876.6 30.3 877.0 30.3 877.5 31.0 878.0 30.3 878.4 30.3 878.9 30.3 879.4 30.3 879.8 30.3 880.3 30.3 880.7 30.3 881.2 30.3 881.7 30.3 882.1 30.3 882.6 30.3 883.1 30.3 883.5 54.0 884.0 30.3 884.5 33.0 884.9 30.3 885.4 30.3 885.9 37.2 886.3 30.3 886.8 30.3 887.3 30.3 887.7 31.3 888.2 31.1 888.6 52.0 889.1 30.3 889.6 30.9 890.0 32.5 890.5 30.8 891.0 30.3 891.4 30.3 891.9 30.3 892.4 30.3 892.8 32.2 893.3 30.3 893.8 30.3 894.2 30.3 894.7 30.3 895.1 30.3 895.6 32.0 896.1 30.3 896.5 30.3 897.0 30.3 897.5 30.3 897.9 30.3 898.4 30.3 898.9 30.3 899.3 34.2 899.8 30.3 900.3 40.4 900.7 41.5 901.2 30.3 901.7 30.3 902.1 30.3 902.6 30.3 903.0 30.3 903.5 30.3 904.0 30.3 904.4 30.9 904.9 30.3 905.4 30.3 905.8 30.3 906.3 37.5 906.8 30.3 907.2 30.3 907.7 30.3 908.2 30.3 908.6 35.5 909.1 30.3 909.6 30.3 910.0 30.3 910.5 30.3 910.9 31.3 911.4 30.3 911.9 30.3 912.3 30.3 912.8 32.8 913.3 50.6 913.7 30.3 914.2 30.3 914.7 30.3 915.1 30.3 915.6 30.3 916.1 32.8 916.5 30.3 917.0 30.3 917.4 30.3 917.9 32.9 918.4 30.3 918.8 30.3 919.3 32.5 919.8 30.3 920.2 31.2 920.7 30.3 921.2 42.4 921.6 30.3 922.1 30.3 922.6 30.3 923.0 30.3 923.5 31.5 924.0 30.3 924.4 30.3 924.9 40.5 925.3 30.6 925.8 30.3 926.3 30.3 926.7 30.3 927.2 30.3 927.7 30.3 928.1 30.3 928.6 30.3 929.1 30.3 929.5 30.3 930.0 31.7 930.5 32.0 930.9 30.3 931.4 30.3 931.9 30.3 932.3 30.3 932.8 30.3 933.2 30.3 933.7 30.3 934.2 33.9 934.6 42.6 935.1 30.3 935.6 30.3 936.0 60.5 936.5 36.8 937.0 30.3 937.4 31.5 937.9 30.3 938.4 30.3 938.8 30.3 939.3 32.4 939.7 30.3 940.2 30.3 940.7 30.3 941.1 45.3 941.6 30.3 942.1 30.3 942.5 33.8 943.0 30.3 943.5 30.3 943.9 31.6 944.4 30.3 944.9 34.7 945.3 30.3 945.8 30.3 946.3 38.4 946.7 30.6 947.2 30.3 947.6 39.3 948.1 30.3 948.6 30.3 949.0 30.3 949.5 30.3 950.0 30.3 950.4 30.3 950.9 30.3 951.4 30.3 951.8 30.3 952.3 30.3 952.8 38.8 953.2 30.3 953.7 30.3 954.2 30.3 954.6 33.1 955.1 30.3 955.5 30.3 956.0 30.3 956.5 30.3 956.9 30.3 957.4 31.1 957.9 33.4 958.3 30.3 958.8 32.8 959.3 30.3 959.7 30.6 960.2 30.3 960.7 30.3 961.1 30.3 961.6 30.3 962.0 30.3 962.5 45.0 963.0 30.3 963.4 35.3 963.9 30.3 964.4 30.3 964.8 30.3 965.3 30.3 965.8 30.3 966.2 30.3 966.7 30.3 967.2 33.6 967.6 30.3 968.1 32.8 968.6 30.3 969.0 38.6 969.5 50.0 969.9 30.3 970.4 33.1 970.9 31.8 971.3 35.2 971.8 30.3 972.3 30.3 972.7 30.3 973.2 30.3 973.7 30.3 974.1 30.7 974.6 31.3 975.1 32.1 975.5 30.3 976.0 34.3 976.4 32.4 976.9 30.3 977.4 30.3 977.8 31.8 978.3 30.6 978.8 52.0 979.2 36.5 979.7 36.8 980.2 31.7 980.6 30.3 981.1 30.3 981.6 30.3 982.0 36.6 982.5 41.5 983.0 30.3 983.4 32.5 983.9 30.3 984.3 30.3 984.8 30.3 985.3 30.3 985.7 30.3 986.2 30.3 986.7 30.3 987.1 30.3 987.6 30.3 988.1 30.3 988.5 30.3 989.0 30.3 989.5 30.3 989.9 30.3 990.4 30.3 990.9 30.3 991.3 30.3 991.8 31.0 992.2 36.3 992.7 32.1 993.2 31.6 993.6 30.3 994.1 30.3 994.6 30.3 995.0 30.3 995.5 30.3 996.0 30.3 996.4 30.3 996.9 30.3 997.4 30.6 997.8 50.6 998.3 30.3 998.7 30.3"/>
</g>
<g clip-path="url(#c2)" fill="none" stroke-linejoin="round">
<path stroke="#e00000" stroke-width="2" d="M150.9 495.3 151.4 484.0 151.8 473.5 152.3 464.0 152.8 456.0 153.2 449.8 153.7 446.0 154.2 444.8 154.6 444.3 155.1 444.0 155.5 443.7 156.0 443.5 156.5 443.3 156.9 443.1 157.4 442.9 157.9 442.7 158.3 442.6 158.8 442.4 159.3 442.3 159.7 442.1 160.2 442.0 160.7 441.9 161.1 441.8 161.6 441.6 162.1 441.5 162.5 441.4 163.0 441.2 163.4 441.1 163.9 441.0 164.4 440.8 164.8 440.7 165.3 440.5 165.8 440.4 166.2 440.2 166.7 440.0 167.2 439.9 167.6 439.7 168.1 439.6 168.6 439.4 169.0 439.2 169.5 439.1 169.9 438.9 170.4 438.8 170.9 438.6 171.3 438.4 171.8 438.3 172.3 438.1 172.7 437.9 173.2 437.8 173.7 437.6 174.1 437.5 174.6 437.3 175.1 437.1 175.5 437.0 176.0 436.8 176.5 436.7 176.9 436.5 177.4 436.4 177.8 436.2 178.3 436.1 178.8 435.9 179.2 435.8 179.7 435.6 180.2 435.5 180.6 435.3 181.1 435.2 181.6 435.0 182.0 434.9 182.5 434.8 183.0 434.6 183.4 434.5 183.9 434.3 184.4 434.2 184.8 434.0 185.3 433.9 185.7 433.8 186.2 433.6 186.7 433.5 187.1 433.3 187.6 433.2 188.1 433.1 188.5 432.9 189.0 432.8 189.5 432.6 189.9 432.5 190.4 432.4 190.9 432.2 191.3 432.1 191.8 432.0 192.2 431.8 192.7 431.7 193.2 431.6 193.6 431.4 194.1 431.3 194.6 431.2 195.0 431.0 195.5 430.9 196.0 430.8 196.4 430.7 196.9 430.5 197.4 430.4 197.8 430.3 198.3 430.2 198.8 430.1 199.2 429.9 199.7 429.8 200.1 429.7 200.6 429.6 201.1 429.5 201.5 429.4 202.0 429.3 202.5 429.2 202.9 429.1 203.4 429.0 203.9 428.9 204.3 428.8 204.8 428.7 205.3 428.6 205.7 428.5 206.2 428.5 206.7 428.4 207.1 428.3 207.6 428.2 208.0 428.1 208.5 428.0 209.0 428.0 209.4 427.9 209.9 427.8 210.4 427.7 210.8 427.6 211.3 427.6 211.8 427.5 212.2 427.4 212.7 427.3 213.2 427.3 213.6 427.2 214.1 427.1 214.5 427.0 215.0 427.0 215.5 426.9 215.9 426.8 216.4 426.7 216.9 426.7 217.3 426.6 217.8 426.5 218.3 426.5 218.7 426.4 219.2 426.3 219.7 426.2 220.1 426.2 220.6 426.1 221.1 426.0 221.5 426.0 222.0 425.9 222.4 425.8 222.9 425.8 223.4 425.7 223.8 425.7 224.3 425.6 224.8 425.5 225.2 425.5 225.7 425.4 226.2 425.3 226.6 425.3 227.1 425.2 227.6 425.2 228.0 425.1 228.5 425.0 229.0 425.0 229.4 424.9 229.9 424.9 230.3 424.8 230.8 424.8 231.3 424.7 231.7 424.6 232.2 424.6 232.7 424.5 233.1 424.5 233.6 424.4 234.1 424.4 234.5 424.3 235.0 424.3 235.5 424.2 235.9 424.2 236.4 424.1 236.8 424.1 237.3 424.0 237.8 423.9 238.2 423.9 238.7 423.8 239.2 423.8 239.6 423.7 240.1 423.7 240.6 423.6 241.0 423.6 241.5 423.6 242.0 423.5 242.4 423.5 242.9 423.4 243.4 423.4 243.8 423.3 244.3 423.3 244.7 423.2 245.2 423.2 245.7 423.1 246.1 423.1 246.6 423.0 247.1 423.0 247.5 422.9 248.0 422.9 248.5 422.9 248.9 422.8 249.4 422.8 249.9 422.7 250.3 422.7 250.8 422.6 251.2 422.6 251.7 422.6 252.2 422.5 252.6 422.5 253.1 422.4 253.6 422.4 254.0 422.3 254.5 422.3 255.0 422.3 255.4 422.2 255.9 422.2 256.4 422.1 256.8 422.1 257.3 422.0 257.8 422.0 258.2 422.0 258.7 421.9 259.1 421.9 259.6 421.8 260.1 421.8 260.5 421.8 261.0 421.7 261.5 421.7 261.9 421.6 262.4 421.6 262.9 421.6 263.3 421.5 263.8 421.5 264.3 421.4 264.7 421.4 265.2 421.4 265.7 421.3 266.1 421.3 266.6 421.2 267.0 421.2 267.5 421.2 268.0 421.1 268.4 421.1 268.9 421.0 269.4 421.0 269.8 421.0 270.3 420.9 270.8 420.9 271.2 420.8 271.7 420.8 272.2 420.8 272.6 420.7 273.1 420.7 273.5 420.7 274.0 420.6 274.5 420.6 274.9 420.6 275.4 420.5 275.9 420.5 276.3 420.4 276.8 420.4 277.3 420.4 277.7 420.3 278.2 420.3 278.7 420.3 279.1 420.2 279.6 420.2 280.1 420.2 280.5 420.1 281.0 420.1 281.4 420.0 281.9 420.0 282.4 420.0 282.8 419.9 283.3 419.9 283.8 419.9 284.2 419.8 284.7 419.8 285.2 419.8 285.6 419.7 286.1 419.7 286.6 419.7 287.0 419.6 287.5 419.6 288.0 419.6 288.4 419.5 288.9 419.5 289.3 419.5 289.8 419.4 290.3 419.4 290.7 419.4 291.2 419.3 291.7 419.3 292.1 419.3 292.6 419.2 293.1 419.2 293.5 419.2 294.0 419.1 294.5 419.1 294.9 419.1 295.4 419.0 295.8 419.0 296.3 419.0 296.8 419.0 297.2 418.9 297.7 418.9 298.2 418.9 298.6 418.8 299.1 418.8 299.6 418.8 300.0 418.7 300.5 418.7 301.0 418.7 301.4 418.6 301.9 418.6 302.4 418.6 302.8 418.6 303.3 418.5 303.7 418.5 304.2 418.5 304.7 418.4 305.1 418.4 305.6 418.4 306.1 418.4 306.5 418.3 307.0 418.3 307.5 418.3 307.9 418.2 308.4 418.2 308.9 418.2 309.3 418.2 309.8 418.1 310.3 418.1 310.7 418.1 311.2 418.0 311.6 418.0 312.1 418.0 312.6 418.0 313.0 417.9 313.5 417.9 314.0 417.9 314.4 417.8 314.9 417.8 315.4 417.8 315.8 417.8 316.3 417.7 316.8 417.7 317.2 417.7 317.7 417.7 318.1 417.6 318.6 417.6 319.1 417.6 319.5 417.6 320.0 417.5 320.5 417.5 320.9 417.5 321.4 417.5 321.9 417.4 322.3 417.4 322.8 417.4 323.3 417.4 323.7 417.3 324.2 417.3 324.7 417.3 325.1 417.3 325.6 417.2 326.0 417.2 326.5 417.2 327.0 417.2 327.4 417.1 327.9 417.1 328.4 417.1 328.8 417.1 329.3 417.0 329.8 417.0 330.2 417.0 330.7 417.0 331.2 416.9 331.6 416.9 332.1 416.9 332.6 416.9 333.0 416.8 333.5 416.8 333.9 416.8 334.4 416.8 334.9 416.8 335.3 416.7 335.8 416.7 336.3 416.7 336.7 416.7 337.2 416.6 337.7 416.6 338.1 416.6 338.6 416.6 339.1 416.6 339.5 416.5 340.0 416.5 340.4 416.5 340.9 416.5 341.4 416.4 341.8 416.4 342.3 416.4 342.8 416.4 343.2 416.4 343.7 416.3 344.2 416.3 344.6 416.3 345.1 416.3 345.6 416.2 346.0 416.2 346.5 416.2 347.0 416.2 347.4 416.2 347.9 416.1 348.3 416.1 348.8 416.1 349.3 416.1 349.7 416.1 350.2 416.0 350.7 416.0 351.1 416.0 351.6 416.0 352.1 416.0 352.5 415.9 353.0 415.9 353.5 415.9 353.9 415.9 354.4 415.9 354.8 415.8 355.3 415.8 355.8 415.8 356.2 415.8 356.7 415.8 357.2 415.7 357.6 415.7 358.1 415.7 358.6 415.7 359.0 415.7 359.5 415.6 360.0 415.6 360.4 415.6 360.9 415.6 361.4 415.6 361.8 415.5 362.3 415.5 362.7 415.5 363.2 415.5 363.7 415.5 364.1 415.4 364.6 415.4 365.1 415.4 365.5 415.4 366.0 415.4 366.5 415.3 366.9 415.3 367.4 415.3 367.9 415.3 368.3 415.3 368.8 415.2 369.3 415.2 369.7 415.2 370.2 415.2 370.6 415.2 371.1 415.2 371.6 415.1 372.0 415.1 372.5 415.1 373.0 415.1 373.4 415.1 373.9 415.0 374.4 415.0 374.8 415.0 375.3 415.0 375.8 415.0 376.2 414.9 376.7 414.9 377.1 414.9 377.6 414.9 378.1 414.9 378.5 414.9 379.0 414.8 379.5 414.8 379.9 414.8 380.4 414.8 380.9 414.8 381.3 414.8 381.8 414.7 382.3 414.7 382.7 414.7 383.2 414.7 383.7 414.7 384.1 414.6 384.6 414.6 385.0 414.6 385.5 414.6 386.0 414.6 386.4 414.6 386.9 414.5 387.4 414.5 387.8 414.5 388.3 414.5 388.8 414.5 389.2 414.5 389.7 414.4 390.2 414.4 390.6 414.4 391.1 414.4 391.6 414.4 392.0 414.4 392.5 414.3 392.9 414.3 393.4 414.3 393.9 414.3 394.3 414.3 394.8 414.3 395.3 414.2 395.7 414.2 396.2 414.2 396.7 414.2 397.1 414.2 397.6 414.2 398.1 414.1 398.5 414.1 399.0 414.1 399.4 414.1 399.9 414.1 400.4 414.1 400.8 414.0 401.3 414.0 401.8 414.0 402.2 414.0 402.7 414.0 403.2 414.0 403.6 413.9 404.1 413.9 404.6 413.9 405.0 413.9 405.5 413.9 406.0 413.9 406.4 413.8 406.9 413.8 407.3 413.8 407.8 413.8 408.3 413.8 408.7 413.8 409.2 413.8 409.7 413.7 410.1 413.7 410.6 413.7 411.1 413.7 411.5 413.7 412.0 413.7 412.5 413.6 412.9 413.6 413.4 413.6 413.9 413.6 414.3 413.6 414.8 413.6 415.2 413.6 415.7 413.5 416.2 413.5 416.6 413.5 417.1 413.5 417.6 413.5 418.0 413.5 418.5 413.4 419.0 413.4 419.4 413.4 419.9 413.4 420.4 413.4 420.8 413.4 421.3 413.4 421.7 413.3 422.2 413.3 422.7 413.3 423.1 413.3 423.6 413.3 424.1 413.3 424.5 413.2 425.0 413.2 425.5 413.2 425.9 413.2 426.4 413.2 426.9 413.2 427.3 413.2 427.8 413.1 428.3 413.1 428.7 413.1 429.2 413.1 429.6 413.1 430.1 413.1 430.6 413.1 431.0 413.0 431.5 413.0 432.0 413.0 432.4 413.0 432.9 413.0 433.4 413.0 433.8 413.0 434.3 412.9 434.8 412.9 435.2 412.9 435.7 412.9 436.2 412.9 436.6 412.9 437.1 412.9 437.5 412.8 438.0 412.8 438.5 412.8 438.9 412.8 439.4 412.8 439.9 412.8 440.3 412.8 440.8 412.7 441.3 412.7 441.7 412.7 442.2 412.7 442.7 412.7 443.1 412.7 443.6 412.7 444.0 412.6 444.5 412.6 445.0 412.6 445.4 412.6 445.9 412.6 446.4 412.6 446.8 412.6 447.3 412.5 447.8 412.5 448.2 412.5 448.7 412.5 449.2 412.5 449.6 412.5 450.1 412.5 450.6 412.4 451.0 412.4 451.5 412.4 451.9 412.4 452.4 412.4 452.9 412.4 453.3 412.4 453.8 412.3 454.3 412.3 454.7 412.3 455.2 412.3 455.7 412.3 456.1 412.3 456.6 412.3 457.1 412.2 457.5 412.2 458.0 412.2 458.4 412.2 458.9 412.2 459.4 412.2 459.8 412.2 460.3 412.1 460.8 412.1 461.2 412.1 461.7 412.1 462.2 412.1 462.6 412.1 463.1 412.1 463.6 412.0 464.0 412.0 464.5 412.0 465.0 412.0 465.4 412.0 465.9 412.0 466.3 412.0 466.8 412.0 467.3 411.9 467.7 411.9 468.2 411.9 468.7 411.9 469.1 411.9 469.6 411.9 470.1 411.9 470.5 411.8 471.0 411.8 471.5 411.8 471.9 411.8 472.4 411.8 472.9 411.8 473.3 411.8 473.8 411.7 474.2 411.7 474.7 411.7 475.2 411.7 475.6 411.7 476.1 411.7 476.6 411.7 477.0 411.6 477.5 411.6 478.0 411.6 478.4 411.6 478.9 411.6 479.4 411.6 479.8 411.6 480.3 411.5 480.7 411.5 481.2 411.5 481.7 411.5 482.1 411.5 482.6 411.5 483.1 411.5 483.5 411.5 484.0 411.4 484.5 411.4 484.9 411.4 485.4 411.4 485.9 411.4 486.3 411.4 486.8 411.4 487.3 411.3 487.7 411.3 488.2 411.3 488.6 411.3 489.1 411.3 489.6 411.3 490.0 411.3 490.5 411.2 491.0 411.2 491.4 411.2 491.9 411.2 492.4 411.2 492.8 411.2 493.3 411.2 493.8 411.1 494.2 411.1 494.7 411.1 495.2 411.1 495.6 411.1 496.1 411.1 496.5 411.1 497.0 411.0 497.5 411.0 497.9 411.0 498.4 411.0 498.9 411.0 499.3 411.0 499.8 411.0 500.3 410.9 500.7 410.9 501.2 410.9 501.7 410.9 502.1 410.9 502.6 410.9 503.0 410.9 503.5 410.8 504.0 410.8 504.4 410.8 504.9 410.8 505.4 410.8 505.8 410.8 506.3 410.8 506.8 410.7 507.2 410.7 507.7 410.7 508.2 410.7 508.6 410.7 509.1 410.7 509.6 410.7 510.0 410.6 510.5 410.6 510.9 410.6 511.4 410.6 511.9 410.6 512.3 410.6 512.8 410.6 513.3 410.5 513.7 410.5 514.2 410.5 514.7 410.5 515.1 410.5 515.6 410.5 516.1 410.5 516.5 410.4 517.0 410.4 517.5 410.4 517.9 410.4 518.4 410.4 518.8 410.4 519.3 410.3 519.8 410.3 520.2 410.3 520.7 410.3 521.2 410.3 521.6 410.3 522.1 410.3 522.6 410.2 523.0 410.2 523.5 410.2 524.0 410.2 524.4 410.2 524.9 410.2 525.3 410.2 525.8 410.1 526.3 410.1 526.7 410.1 527.2 410.1 527.7 410.1 528.1 410.1 528.6 410.0 529.1 410.0 529.5 410.0 530.0 410.0 530.5 410.0 530.9 410.0 531.4 410.0 531.9 409.9 532.3 409.9 532.8 409.9 533.2 409.9 533.7 409.9 534.2 409.9 534.6 409.8 535.1 409.8 535.6 409.8 536.0 409.8 536.5 409.8 537.0 409.8 537.4 409.8 537.9 409.7 538.4 409.7 538.8 409.7 539.3 409.7 539.8 409.7 540.2 409.7 540.7 409.6 541.1 409.6 541.6 409.6 542.1 409.6 542.5 409.6 543.0 409.6 543.5 409.6 543.9 409.5 544.4 409.5 544.9 409.5 545.3 409.5 545.8 409.5 546.3 409.5 546.7 409.4 547.2 409.4 547.6 409.4 548.1 409.4 548.6 409.4 549.0 409.4 549.5 409.4 550.0 409.3 550.4 409.3 550.9 409.3 551.4 409.3 551.8 409.3 552.3 409.3 552.8 409.2 553.2 409.2 553.7 409.2 554.2 409.2 554.6 409.2 555.1 409.2 555.5 409.1 556.0 409.1 556.5 409.1 556.9 409.1 557.4 409.1 557.9 409.1 558.3 409.1 558.8 409.0 559.3 409.0 559.7 409.0 560.2 409.0 560.7 409.0 561.1 409.0 561.6 408.9 562.0 408.9 562.5 408.9 563.0 408.9 563.4 408.9 563.9 408.9 564.4 408.9 564.8 408.8 565.3 408.8 565.8 408.8 566.2 408.8 566.7 408.8 567.2 408.8 567.6 408.7 568.1 408.7 568.6 408.7 569.0 408.7 569.5 408.7 569.9 408.7 570.4 408.7 570.9 408.6 571.3 408.6 571.8 408.6 572.3 408.6 572.7 408.6 573.2 408.6 573.7 408.5 574.1 408.5 574.6 408.5 575.1 408.5 575.5 408.5 576.0 408.5 576.5 408.5 576.9 408.4 577.4 408.4 577.8 408.4 578.3 408.4 578.8 408.4 579.2 408.4 579.7 408.3 580.2 408.3 580.6 408.3 581.1 408.3 581.6 408.3 582.0 408.3 582.5 408.3 583.0 408.2 583.4 408.2 583.9 408.2 584.3 408.2 584.8 408.2 585.3 408.2 585.7 408.1 586.2 408.1 586.7 408.1 587.1 408.1 587.6 408.1 588.1 408.1 588.5 408.1 589.0 408.0 589.5 408.0 589.9 408.0 590.4 408.0 590.9 408.0 591.3 408.0 591.8 407.9 592.2 407.9 592.7 407.9 593.2 407.9 593.6 407.9 594.1 407.9 594.6 407.9 595.0 407.8 595.5 407.8 596.0 407.8 596.4 407.8 596.9 407.8 597.4 407.8 597.8 407.7 598.3 407.7 598.8 407.7 599.2 407.7 599.7 407.7 600.1 407.7 600.6 407.7 601.1 407.6 601.5 407.6 602.0 407.6 602.5 407.6 602.9 407.6 603.4 407.6 603.9 407.5 604.3 407.5 604.8 407.5 605.3 407.5 605.7 407.5 606.2 407.5 606.6 407.5 607.1 407.4 607.6 407.4 608.0 407.4 608.5 407.4 609.0 407.4 609.4 407.4 609.9 407.3 610.4 407.3 610.8 407.3 611.3 407.3 611.8 407.3 612.2 407.3 612.7 407.3 613.2 407.2 613.6 407.2 614.1 407.2 614.5 407.2 615.0 407.2 615.5 407.2 615.9 407.1 616.4 407.1 616.9 407.1 617.3 407.1 617.8 407.1 618.3 407.1 618.7 407.1 619.2 407.0 619.7 407.0 620.1 407.0 620.6 407.0 621.1 407.0 621.5 407.0 622.0 406.9 622.4 406.9 622.9 406.9 623.4 406.9 623.8 406.9 624.3 406.9 624.8 406.9 625.2 406.8 625.7 406.8 626.2 406.8 626.6 406.8 627.1 406.8 627.6 406.8 628.0 406.7 628.5 406.7 628.9 406.7 629.4 406.7 629.9 406.7 630.3 406.7 630.8 406.7 631.3 406.6 631.7 406.6 632.2 406.6 632.7 406.6 633.1 406.6 633.6 406.6 634.1 406.6 634.5 406.5 635.0 406.5 635.5 406.5 635.9 406.5 636.4 406.5 636.8 406.5 637.3 406.4 637.8 406.4 638.2 406.4 638.7 406.4 639.2 406.4 639.6 406.4 640.1 406.4 640.6 406.3 641.0 406.3 641.5 406.3 642.0 406.3 642.4 406.3 642.9 406.3 643.4 406.3 643.8 406.2 644.3 406.2 644.7 406.2 645.2 406.2 645.7 406.2 646.1 406.2 646.6 406.1 647.1 406.1 647.5 406.1 648.0 406.1 648.5 406.1 648.9 406.1 649.4 406.1 649.9 406.0 650.3 406.0 650.8 406.0 651.2 406.0 651.7 406.0 652.2 406.0 652.6 406.0 653.1 405.9 653.6 405.9 654.0 405.9 654.5 405.9 655.0 405.9 655.4 405.9 655.9 405.9 656.4 405.8 656.8 405.8 657.3 405.8 657.8 405.8 658.2 405.8 658.7 405.8 659.1 405.7 659.6 405.7 660.1 405.7 660.5 405.7 661.0 405.7 661.5 405.7 661.9 405.7 662.4 405.6 662.9 405.6 663.3 405.6 663.8 405.6 664.3 405.6 664.7 405.6 665.2 405.6 665.6 405.5 666.1 405.5 666.6 405.5 667.0 405.5 667.5 405.5 668.0 405.5 668.4 405.5 668.9 405.4 669.4 405.4 669.8 405.4 670.3 405.4 670.8 405.4 671.2 405.4 671.7 405.4 672.2 405.3 672.6 405.3 673.1 405.3 673.5 405.3 674.0 405.3 674.5 405.3 674.9 405.3 675.4 405.2 675.9 405.2 676.3 405.2 676.8 405.2 677.3 405.2 677.7 405.2 678.2 405.2 678.7 405.1 679.1 405.1 679.6 405.1 680.1 405.1 680.5 405.1 681.0 405.1 681.4 405.0 681.9 405.0 682.4 405.0 682.8 405.0 683.3 405.0 683.8 405.0 684.2 405.0 684.7 404.9 685.2 404.9 685.6 404.9 686.1 404.9 686.6 404.9 687.0 404.9 687.5 404.9 687.9 404.8 688.4 404.8 688.9 404.8 689.3 404.8 689.8 404.8 690.3 404.8 690.7 404.8 691.2 404.7 691.7 404.7 692.1 404.7 692.6 404.7 693.1 404.7 693.5 404.7 694.0 404.7 694.5 404.7 694.9 404.6 695.4 404.6 695.8 404.6 696.3 404.6 696.8 404.6 697.2 404.6 697.7 404.6 698.2 404.5 698.6 404.5 699.1 404.5 699.6 404.5 700.0 404.5 700.5 404.5 701.0 404.5 701.4 404.4 701.9 404.4 702.4 404.4 702.8 404.4 703.3 404.4 703.7 404.4 704.2 404.4 704.7 404.3 705.1 404.3 705.6 404.3 706.1 404.3 706.5 404.3 707.0 404.3 707.5 404.3 707.9 404.2 708.4 404.2 708.9 404.2 709.3 404.2 709.8 404.2 710.2 404.2 710.7 404.2 711.2 404.1 711.6 404.1 712.1 404.1 712.6 404.1 713.0 404.1 713.5 404.1 714.0 404.1 714.4 404.1 714.9 404.0 715.4 404.0 715.8 404.0 716.3 404.0 716.8 404.0 717.2 404.0 717.7 404.0 718.1 403.9 718.6 403.9 719.1 403.9 719.5 403.9 720.0 403.9 720.5 403.9 720.9 403.9 721.4 403.8 721.9 403.8 722.3 403.8 722.8 403.8 723.3 403.8 723.7 403.8 724.2 403.8 724.7 403.8 725.1 403.7 725.6 403.7 726.0 403.7 726.5 403.7 727.0 403.7 727.4 403.7 727.9 403.7 728.4 403.6 728.8 403.6 729.3 403.6 729.8 403.6 730.2 403.6 730.7 403.6 731.2 403.6 731.6 403.6 732.1 403.5 732.5 403.5 733.0 403.5 733.5 403.5 733.9 403.5 734.4 403.5 734.9 403.5 735.3 403.4 735.8 403.4 736.3 403.4 736.7 403.4 737.2 403.4 737.7 403.4 738.1 403.4 738.6 403.4 739.1 403.3 739.5 403.3 740.0 403.3 740.4 403.3 740.9 403.3 741.4 403.3 741.8 403.3 742.3 403.3 742.8 403.2 743.2 403.2 743.7 403.2 744.2 403.2 744.6 403.2 745.1 403.2 745.6 403.2 746.0 403.2 746.5 403.1 747.0 403.1 747.4 403.1 747.9 403.1 748.3 403.1 748.8 403.1 749.3 403.1 749.7 403.1 750.2 403.0 750.7 403.0 751.1 403.0 751.6 403.0 752.1 403.0 752.5 403.0 753.0 403.0 753.5 403.0 753.9 403.0 754.4 402.9 754.8 402.9 755.3 402.9 755.8 402.9 756.2 402.9 756.7 402.9 757.2 402.9 757.6 402.9 758.1 402.8 758.6 402.8 759.0 402.8 759.5 402.8 760.0 402.8 760.4 402.8 760.9 402.8 761.4 402.8 761.8 402.8 762.3 402.7 762.7 402.7 763.2 402.7 763.7 402.7 764.1 402.7 764.6 402.7 765.1 402.7 765.5 402.7 766.0 402.6 766.5 402.6 766.9 402.6 767.4 402.6 767.9 402.6 768.3 402.6 768.8 402.6 769.2 402.6 769.7 402.6 770.2 402.5 770.6 402.5 771.1 402.5 771.6 402.5 772.0 402.5 772.5 402.5 773.0 402.5 773.4 402.5 773.9 402.4 774.4 402.4 774.8 402.4 775.3 402.4 775.8 402.4 776.2 402.4 776.7 402.4 777.1 402.4 777.6 402.4 778.1 402.3 778.5 402.3 779.0 402.3 779.5 402.3 779.9 402.3 780.4 402.3 780.9 402.3 781.3 402.3 781.8 402.3 782.3 402.2 782.7 402.2 783.2 402.2 783.7 402.2 784.1 402.2 784.6 402.2 785.0 402.2 785.5 402.2 786.0 402.2 786.4 402.1 786.9 402.1 787.4 402.1 787.8 402.1 788.3 402.1 788.8 402.1 789.2 402.1 789.7 402.1 790.2 402.0 790.6 402.0 791.1 402.0 791.5 402.0 792.0 402.0 792.5 402.0 792.9 402.0 793.4 402.0 793.9 402.0 794.3 401.9 794.8 401.9 795.3 401.9 795.7 401.9 796.2 401.9 796.7 401.9 797.1 401.9 797.6 401.9 798.1 401.8 798.5 401.8 799.0 401.8 799.4 401.8 799.9 401.8 800.4 401.8 800.8 401.8 801.3 401.8 801.8 401.8 802.2 401.7 802.7 401.7 803.2 401.7 803.6 401.7 804.1 401.7 804.6 401.7 805.0 401.7 805.5 401.7 806.0 401.6 806.4 401.6 806.9 401.6 807.3 401.6 807.8 401.6 808.3 401.6 808.7 401.6 809.2 401.6 809.7 401.6 810.1 401.5 810.6 401.5 811.1 401.5 811.5 401.5 812.0 401.5 812.5 401.5 812.9 401.5 813.4 401.5 813.8 401.4 814.3 401.4 814.8 401.4 815.2 401.4 815.7 401.4 816.2 401.4 816.6 401.4 817.1 401.4 817.6 401.3 818.0 401.3 818.5 401.3 819.0 401.3 819.4 401.3 819.9 401.3 820.4 401.3 820.8 401.3 821.3 401.2 821.7 401.2 822.2 401.2 822.7 401.2 823.1 401.2 823.6 401.2 824.1 401.2 824.5 401.1 825.0 401.1 825.5 401.1 825.9 401.1 826.4 401.1 826.9 401.1 827.3 401.1 827.8 401.1 828.3 401.0 828.7 401.0 829.2 401.0 829.6 401.0 830.1 401.0 830.6 401.0 831.0 401.0 831.5 401.0 832.0 400.9 832.4 400.9 832.9 400.9 833.4 400.9 833.8 400.9 834.3 400.9 834.8 400.9 835.2 400.8 835.7 400.8 836.1 400.8 836.6 400.8 837.1 400.8 837.5 400.8 838.0 400.8 838.5 400.7 838.9 400.7 839.4 400.7 839.9 400.7 840.3 400.7 840.8 400.7 841.3 400.7 841.7 400.6 842.2 400.6 842.7 400.6 843.1 400.6 843.6 400.6 844.0 400.6 844.5 400.6 845.0 400.6 845.4 400.5 845.9 400.5 846.4 400.5 846.8 400.5 847.3 400.5 847.8 400.5 848.2 400.5 848.7 400.4 849.2 400.4 849.6 400.4 850.1 400.4 850.6 400.4 851.0 400.4 851.5 400.4 851.9 400.3 852.4 400.3 852.9 400.3 853.3 400.3 853.8 400.3 854.3 400.3 854.7 400.3 855.2 400.3 855.7 400.2 856.1 400.2 856.6 400.2 857.1 400.2 857.5 400.2 858.0 400.2 858.4 400.2 858.9 400.1 859.4 400.1 859.8 400.1 860.3 400.1 860.8 400.1 861.2 400.1 861.7 400.1 862.2 400.0 862.6 400.0 863.1 400.0 863.6 400.0 864.0 400.0 864.5 400.0 865.0 399.9 865.4 399.9 865.9 399.9 866.3 399.9 866.8 399.9 867.3 399.9 867.7 399.8 868.2 399.8 868.7 399.8 869.1 399.8 869.6 399.8 870.1 399.8 870.5 399.7 871.0 399.7 871.5 399.7 871.9 399.7 872.4 399.7 872.8 399.7 873.3 399.6 873.8 399.6 874.2 399.6 874.7 399.6 875.2 399.6 875.6 399.5 876.1 399.5 876.6 399.5 877.0 399.5 877.5 399.5 878.0 399.4 878.4 399.4 878.9 399.4 879.4 399.4 879.8 399.3 880.3 399.3 880.7 399.3 881.2 399.3 881.7 399.3 882.1 399.2 882.6 399.2 883.1 399.2 883.5 399.2 884.0 399.1 884.5 399.1 884.9 399.1 885.4 399.0 885.9 399.0 886.3 399.0 886.8 398.9 887.3 398.9 887.7 398.9 888.2 398.8 888.6 398.8 889.1 398.8 889.6 398.7 890.0 398.7 890.5 398.7 891.0 398.6 891.4 398.6 891.9 398.5 892.4 398.5 892.8 398.5 893.3 398.4 893.8 398.4 894.2 398.3 894.7 398.3 895.1 398.3 895.6 398.2 896.1 398.2 896.5 398.1 897.0 398.1 897.5 398.0 897.9 398.0 898.4 398.0 898.9 397.9 899.3 397.9 899.8 397.8 900.3 397.8 900.7 397.7 901.2 397.7 901.7 397.6 902.1 397.6 902.6 397.6 903.0 397.5 903.5 397.5 904.0 397.4 904.4 397.4 904.9 397.3 905.4 397.3 905.8 397.2 906.3 397.2 906.8 397.1 907.2 397.1 907.7 397.1 908.2 397.0 908.6 397.0 909.1 396.9 909.6 396.9 910.0 396.8 910.5 396.8 910.9 396.8 911.4 396.7 911.9 396.7 912.3 396.6 912.8 396.6 913.3 396.5 913.7 396.5 914.2 396.5 914.7 396.4 915.1 396.4 915.6 396.3 916.1 396.3 916.5 396.3 917.0 396.2 917.4 396.2 917.9 396.2 918.4 396.1 918.8 396.1 919.3 396.1 919.8 396.0 920.2 396.0 920.7 395.9 921.2 395.9 921.6 395.9 922.1 395.9 922.6 395.8 923.0 395.8 923.5 395.8 924.0 395.7 924.4 395.7 924.9 395.7 925.3 395.6 925.8 395.6 926.3 395.6 926.7 395.5 927.2 395.5 927.7 395.5 928.1 395.4 928.6 395.4 929.1 395.4 929.5 395.3 930.0 395.3 930.5 395.3 930.9 395.2 931.4 395.2 931.9 395.2 932.3 395.1 932.8 395.1 933.2 395.1 933.7 395.0 934.2 395.0 934.6 395.0 935.1 394.9 935.6 394.9 936.0 394.9 936.5 394.9 937.0 394.8 937.4 394.8 937.9 394.8 938.4 394.7 938.8 394.7 939.3 394.7 939.7 394.6 940.2 394.6 940.7 394.6 941.1 394.6 941.6 394.5 942.1 394.5 942.5 394.5 943.0 394.4 943.5 394.4 943.9 394.4 944.4 394.4 944.9 394.3 945.3 394.3 945.8 394.3 946.3 394.2 946.7 394.2 947.2 394.2 947.6 394.2 948.1 394.1 948.6 394.1 949.0 394.1 949.5 394.1 950.0 394.0 950.4 394.0 950.9 394.0 951.4 393.9 951.8 393.9 952.3 393.9 952.8 393.9 953.2 393.8 953.7 393.8 954.2 393.8 954.6 393.8 955.1 393.7 955.5 393.7 956.0 393.7 956.5 393.7 956.9 393.7 957.4 393.6 957.9 393.6 958.3 393.6 958.8 393.6 959.3 393.5 959.7 393.5 960.2 393.5 960.7 393.5 961.1 393.4 961.6 393.4 962.0 393.4 962.5 393.4 963.0 393.4 963.4 393.3 963.9 393.3 964.4 393.3 964.8 393.3 965.3 393.3 965.8 393.2 966.2 393.2 966.7 393.2 967.2 393.2 967.6 393.1 968.1 393.1 968.6 393.1 969.0 393.1 969.5 393.1 969.9 393.0 970.4 393.0 970.9 393.0 971.3 393.0 971.8 393.0 972.3 392.9 972.7 392.9 973.2 392.9 973.7 392.9 974.1 392.9 974.6 392.8 975.1 392.8 975.5 392.8 976.0 392.8 976.4 392.8 976.9 392.7 977.4 392.7 977.8 392.7 978.3 392.7 978.8 392.7 979.2 392.7 979.7 392.6 980.2 392.6 980.6 392.6 981.1 392.6 981.6 392.6 982.0 392.5 982.5 392.5 983.0 392.5 983.4 392.5 983.9 392.5 984.3 392.5 984.8 392.4 985.3 392.4 985.7 392.4 986.2 392.4 986.7 392.4 987.1 392.4 987.6 392.3 988.1 392.3 988.5 392.3 989.0 392.3 989.5 392.3 989.9 392.3 990.4 392.2 990.9 392.2 991.3 392.2 991.8 392.2 992.2 392.2 992.7 392.2 993.2 392.2 993.6 392.1 994.1 392.1 994.6 392.1 995.0 392.1 995.5 392.1 996.0 392.1 996.4 392.1 996.9 392.1 997.4 392.0 997.8 392.0 998.3 392.0 998.7 392.0"/>
<path stroke="#00ee00" stroke-width="4.5" d="M150.9 542.5 151.4 534.7 151.8 526.7 152.3 518.6 152.8 509.7 153.2 498.6 153.7 489.7 154.2 487.4 154.6 487.2 155.1 487.1 155.5 486.9 156.0 486.7 156.5 486.6 156.9 486.5 157.4 486.4 157.9 486.3 158.3 486.2 158.8 486.1 159.3 486.1 159.7 486.0 160.2 486.0 160.7 485.9 161.1 485.9 161.6 485.9 162.1 485.9 162.5 485.8 163.0 485.8 163.4 485.8 163.9 485.8 164.4 485.8 164.8 485.7 165.3 485.7 165.8 485.7 166.2 485.7 166.7 485.6 167.2 485.6 167.6 485.5 168.1 485.5 168.6 485.4 169.0 485.3 169.5 485.2 169.9 485.1 170.4 485.0 170.9 484.9 171.3 484.7 171.8 484.6 172.3 484.3 172.7 483.6 173.2 482.7 173.7 481.6 174.1 480.6 174.6 479.8 175.1 479.5 175.5 479.3 176.0 479.2 176.5 479.1 176.9 479.0 177.4 479.0 177.8 478.9 178.3 478.9 178.8 478.8 179.2 478.7 179.7 478.7 180.2 478.6 180.6 478.5 181.1 478.4 181.6 478.3 182.0 478.2 182.5 478.0 183.0 477.9 183.4 477.8 183.9 477.7 184.4 477.6 184.8 477.4 185.3 477.3 185.7 477.2 186.2 477.1 186.7 476.9 187.1 476.8 187.6 476.7 188.1 476.5 188.5 476.4 189.0 476.3 189.5 476.1 189.9 476.0 190.4 475.8 190.9 475.7 191.3 475.6 191.8 475.4 192.2 475.3 192.7 475.1 193.2 475.0 193.6 474.9 194.1 474.7 194.6 474.6 195.0 474.5 195.5 474.3 196.0 474.2 196.4 474.1 196.9 474.0 197.4 473.8 197.8 473.7 198.3 473.6 198.8 473.5 199.2 473.4 199.7 473.2 200.1 473.1 200.6 473.0 201.1 472.9 201.5 472.8 202.0 472.7 202.5 472.7 202.9 472.6 203.4 472.5 203.9 472.4 204.3 472.3 204.8 472.3 205.3 472.2 205.7 472.2 206.2 472.1 206.7 472.0 207.1 472.0 207.6 471.9 208.0 471.9 208.5 471.8 209.0 471.8 209.4 471.7 209.9 471.7 210.4 471.6 210.8 471.6 211.3 471.5 211.8 471.5 212.2 471.4 212.7 471.4 213.2 471.4 213.6 471.3 214.1 471.3 214.5 471.2 215.0 471.2 215.5 471.1 215.9 471.1 216.4 471.1 216.9 471.0 217.3 471.0 217.8 470.9 218.3 470.9 218.7 470.9 219.2 470.8 219.7 470.8 220.1 470.8 220.6 470.7 221.1 470.7 221.5 470.7 222.0 470.6 222.4 470.6 222.9 470.6 223.4 470.5 223.8 470.5 224.3 470.5 224.8 470.4 225.2 470.4 225.7 470.4 226.2 470.3 226.6 470.3 227.1 470.3 227.6 470.2 228.0 470.2 228.5 470.2 229.0 470.1 229.4 470.1 229.9 470.1 230.3 470.1 230.8 470.0 231.3 470.0 231.7 470.0 232.2 469.9 232.7 469.9 233.1 469.9 233.6 469.9 234.1 469.8 234.5 469.8 235.0 469.8 235.5 469.7 235.9 469.7 236.4 469.7 236.8 469.7 237.3 469.6 237.8 469.6 238.2 469.6 238.7 469.5 239.2 469.5 239.6 469.5 240.1 469.5 240.6 469.4 241.0 469.4 241.5 469.4 242.0 469.3 242.4 469.3 242.9 469.3 243.4 469.2 243.8 469.2 244.3 469.2 244.7 469.2 245.2 469.1 245.7 469.1 246.1 469.1 246.6 469.0 247.1 469.0 247.5 469.0 248.0 468.9 248.5 468.9 248.9 468.9 249.4 468.8 249.9 468.8 250.3 468.8 250.8 468.7 251.2 468.7 251.7 468.7 252.2 468.6 252.6 468.6 253.1 468.6 253.6 468.5 254.0 468.5 254.5 468.5 255.0 468.4 255.4 468.4 255.9 468.4 256.4 468.3 256.8 468.3 257.3 468.3 257.8 468.2 258.2 468.2 258.7 468.2 259.1 468.1 259.6 468.1 260.1 468.1 260.5 468.0 261.0 468.0 261.5 468.0 261.9 467.9 262.4 467.9 262.9 467.9 263.3 467.8 263.8 467.8 264.3 467.8 264.7 467.7 265.2 467.7 265.7 467.7 266.1 467.6 266.6 467.6 267.0 467.6 267.5 467.5 268.0 467.5 268.4 467.5 268.9 467.4 269.4 467.4 269.8 467.4 270.3 467.3 270.8 467.3 271.2 467.3 271.7 467.2 272.2 467.2 272.6 467.2 273.1 467.1 273.5 467.1 274.0 467.1 274.5 467.0 274.9 467.0 275.4 467.0 275.9 466.9 276.3 466.9 276.8 466.9 277.3 466.8 277.7 466.8 278.2 466.8 278.7 466.8 279.1 466.7 279.6 466.7 280.1 466.7 280.5 466.6 281.0 466.6 281.4 466.6 281.9 466.5 282.4 466.5 282.8 466.5 283.3 466.4 283.8 466.4 284.2 466.4 284.7 466.3 285.2 466.3 285.6 466.3 286.1 466.2 286.6 466.2 287.0 466.2 287.5 466.1 288.0 466.1 288.4 466.1 288.9 466.0 289.3 466.0 289.8 466.0 290.3 466.0 290.7 465.9 291.2 465.9 291.7 465.9 292.1 465.8 292.6 465.8 293.1 465.8 293.5 465.7 294.0 465.7 294.5 465.7 294.9 465.6 295.4 465.6 295.8 465.6 296.3 465.6 296.8 465.5 297.2 465.5 297.7 465.5 298.2 465.4 298.6 465.4 299.1 465.4 299.6 465.3 300.0 465.3 300.5 465.3 301.0 465.3 301.4 465.2 301.9 465.2 302.4 465.2 302.8 465.1 303.3 465.1 303.7 465.1 304.2 465.1 304.7 465.0 305.1 465.0 305.6 465.0 306.1 464.9 306.5 464.9 307.0 464.9 307.5 464.9 307.9 464.8 308.4 464.8 308.9 464.8 309.3 464.7 309.8 464.7 310.3 464.7 310.7 464.7 311.2 464.6 311.6 464.6 312.1 464.6 312.6 464.6 313.0 464.5 313.5 464.5 314.0 464.5 314.4 464.5 314.9 464.4 315.4 464.4 315.8 464.4 316.3 464.3 316.8 464.3 317.2 464.3 317.7 464.3 318.1 464.2 318.6 464.2 319.1 464.2 319.5 464.2 320.0 464.1 320.5 464.1 320.9 464.1 321.4 464.1 321.9 464.1 322.3 464.0 322.8 464.0 323.3 464.0 323.7 464.0 324.2 463.9 324.7 463.9 325.1 463.9 325.6 463.9 326.0 463.8 326.5 463.8 327.0 463.8 327.4 463.8 327.9 463.8 328.4 463.7 328.8 463.7 329.3 463.7 329.8 463.7 330.2 463.6 330.7 463.6 331.2 463.6 331.6 463.6 332.1 463.6 332.6 463.5 333.0 463.5 333.5 463.5 333.9 463.5 334.4 463.5 334.9 463.4 335.3 463.4 335.8 463.4 336.3 463.4 336.7 463.4 337.2 463.4 337.7 463.3 338.1 463.3 338.6 463.3 339.1 463.3 339.5 463.3 340.0 463.2 340.4 463.2 340.9 463.2 341.4 463.2 341.8 463.2 342.3 463.1 342.8 463.1 343.2 463.1 343.7 463.1 344.2 463.1 344.6 463.1 345.1 463.0 345.6 463.0 346.0 463.0 346.5 463.0 347.0 463.0 347.4 463.0 347.9 462.9 348.3 462.9 348.8 462.9 349.3 462.9 349.7 462.9 350.2 462.8 350.7 462.8 351.1 462.8 351.6 462.8 352.1 462.8 352.5 462.8 353.0 462.7 353.5 462.7 353.9 462.7 354.4 462.7 354.8 462.7 355.3 462.7 355.8 462.6 356.2 462.6 356.7 462.6 357.2 462.6 357.6 462.6 358.1 462.6 358.6 462.5 359.0 462.5 359.5 462.5 360.0 462.5 360.4 462.5 360.9 462.5 361.4 462.4 361.8 462.4 362.3 462.4 362.7 462.4 363.2 462.4 363.7 462.4 364.1 462.3 364.6 462.3 365.1 462.3 365.5 462.3 366.0 462.3 366.5 462.3 366.9 462.2 367.4 462.2 367.9 462.2 368.3 462.2 368.8 462.2 369.3 462.2 369.7 462.2 370.2 462.1 370.6 462.1 371.1 462.1 371.6 462.1 372.0 462.1 372.5 462.1 373.0 462.0 373.4 462.0 373.9 462.0 374.4 462.0 374.8 462.0 375.3 462.0 375.8 462.0 376.2 461.9 376.7 461.9 377.1 461.9 377.6 461.9 378.1 461.9 378.5 461.9 379.0 461.8 379.5 461.8 379.9 461.8 380.4 461.8 380.9 461.8 381.3 461.8 381.8 461.8 382.3 461.7 382.7 461.7 383.2 461.7 383.7 461.7 384.1 461.7 384.6 461.7 385.0 461.7 385.5 461.6 386.0 461.6 386.4 461.6 386.9 461.6 387.4 461.6 387.8 461.6 388.3 461.6 388.8 461.5 389.2 461.5 389.7 461.5 390.2 461.5 390.6 461.5 391.1 461.5 391.6 461.5 392.0 461.4 392.5 461.4 392.9 461.4 393.4 461.4 393.9 461.4 394.3 461.4 394.8 461.4 395.3 461.3 395.7 461.3 396.2 461.3 396.7 461.3 397.1 461.3 397.6 461.3 398.1 461.3 398.5 461.3 399.0 461.2 399.4 461.2 399.9 461.2 400.4 461.2 400.8 461.2 401.3 461.2 401.8 461.2 402.2 461.1 402.7 461.1 403.2 461.1 403.6 461.1 404.1 461.1 404.6 461.1 405.0 461.1 405.5 461.1 406.0 461.0 406.4 461.0 406.9 461.0 407.3 461.0 407.8 461.0 408.3 461.0 408.7 461.0 409.2 460.9 409.7 460.9 410.1 460.9 410.6 460.9 411.1 460.9 411.5 460.9 412.0 460.9 412.5 460.9 412.9 460.8 413.4 460.8 413.9 460.8 414.3 460.8 414.8 460.8 415.2 460.8 415.7 460.8 416.2 460.8 416.6 460.7 417.1 460.7 417.6 460.7 418.0 460.7 418.5 460.7 419.0 460.7 419.4 460.7 419.9 460.7 420.4 460.6 420.8 460.6 421.3 460.6 421.7 460.6 422.2 460.6 422.7 460.6 423.1 460.6 423.6 460.6 424.1 460.5 424.5 460.5 425.0 460.5 425.5 460.5 425.9 460.5 426.4 460.5 426.9 460.5 427.3 460.5 427.8 460.4 428.3 460.4 428.7 460.4 429.2 460.4 429.6 460.4 430.1 460.4 430.6 460.4 431.0 460.4 431.5 460.4 432.0 460.3 432.4 460.3 432.9 460.3 433.4 460.3 433.8 460.3 434.3 460.3 434.8 460.3 435.2 460.3 435.7 460.2 436.2 460.2 436.6 460.2 437.1 460.2 437.5 460.2 438.0 460.2 438.5 460.2 438.9 460.2 439.4 460.2 439.9 460.1 440.3 460.1 440.8 460.1 441.3 460.1 441.7 460.1 442.2 460.1 442.7 460.1 443.1 460.1 443.6 460.0 444.0 460.0 444.5 460.0 445.0 460.0 445.4 460.0 445.9 460.0 446.4 460.0 446.8 460.0 447.3 460.0 447.8 459.9 448.2 459.9 448.7 459.9 449.2 459.9 449.6 459.9 450.1 459.9 450.6 459.9 451.0 459.9 451.5 459.9 451.9 459.8 452.4 459.8 452.9 459.8 453.3 459.8 453.8 459.8 454.3 459.8 454.7 459.8 455.2 459.8 455.7 459.8 456.1 459.7 456.6 459.7 457.1 459.7 457.5 459.7 458.0 459.7 458.4 459.7 458.9 459.7 459.4 459.7 459.8 459.7 460.3 459.6 460.8 459.6 461.2 459.6 461.7 459.6 462.2 459.6 462.6 459.6 463.1 459.6 463.6 459.6 464.0 459.6 464.5 459.5 465.0 459.5 465.4 459.5 465.9 459.5 466.3 459.5 466.8 459.5 467.3 459.5 467.7 459.5 468.2 459.5 468.7 459.4 469.1 459.4 469.6 459.4 470.1 459.4 470.5 459.4 471.0 459.4 471.5 459.4 471.9 459.4 472.4 459.4 472.9 459.3 473.3 459.3 473.8 459.3 474.2 459.3 474.7 459.3 475.2 459.3 475.6 459.3 476.1 459.3 476.6 459.3 477.0 459.3 477.5 459.2 478.0 459.2 478.4 459.2 478.9 459.2 479.4 459.2 479.8 459.2 480.3 459.2 480.7 459.2 481.2 459.2 481.7 459.1 482.1 459.1 482.6 459.1 483.1 459.1 483.5 459.1 484.0 459.1 484.5 459.1 484.9 459.1 485.4 459.1 485.9 459.0 486.3 459.0 486.8 459.0 487.3 459.0 487.7 459.0 488.2 459.0 488.6 459.0 489.1 459.0 489.6 459.0 490.0 458.9 490.5 458.9 491.0 458.9 491.4 458.9 491.9 458.9 492.4 458.9 492.8 458.9 493.3 458.9 493.8 458.9 494.2 458.9 494.7 458.8 495.2 458.8 495.6 458.8 496.1 458.8 496.5 458.8 497.0 458.8 497.5 458.8 497.9 458.8 498.4 458.8 498.9 458.7 499.3 458.7 499.8 458.7 500.3 458.7 500.7 458.7 501.2 458.7 501.7 458.7 502.1 458.7 502.6 458.7 503.0 458.6 503.5 458.6 504.0 458.6 504.4 458.6 504.9 458.6 505.4 458.6 505.8 458.6 506.3 458.6 506.8 458.6 507.2 458.5 507.7 458.5 508.2 458.5 508.6 458.5 509.1 458.5 509.6 458.5 510.0 458.5 510.5 458.5 510.9 458.5 511.4 458.4 511.9 458.4 512.3 458.4 512.8 458.4 513.3 458.4 513.7 458.4 514.2 458.4 514.7 458.4 515.1 458.4 515.6 458.3 516.1 458.3 516.5 458.3 517.0 458.3 517.5 458.3 517.9 458.3 518.4 458.3 518.8 458.3 519.3 458.3 519.8 458.2 520.2 458.2 520.7 458.2 521.2 458.2 521.6 458.2 522.1 458.2 522.6 458.2 523.0 458.2 523.5 458.2 524.0 458.1 524.4 458.1 524.9 458.1 525.3 458.1 525.8 458.1 526.3 458.1 526.7 458.1 527.2 458.1 527.7 458.1 528.1 458.0 528.6 458.0 529.1 458.0 529.5 458.0 530.0 458.0 530.5 458.0 530.9 458.0 531.4 458.0 531.9 458.0 532.3 457.9 532.8 457.9 533.2 457.9 533.7 457.9 534.2 457.9 534.6 457.9 535.1 457.9 535.6 457.9 536.0 457.9 536.5 457.8 537.0 457.8 537.4 457.8 537.9 457.8 538.4 457.8 538.8 457.8 539.3 457.8 539.8 457.8 540.2 457.8 540.7 457.7 541.1 457.7 541.6 457.7 542.1 457.7 542.5 457.7 543.0 457.7 543.5 457.7 543.9 457.7 544.4 457.7 544.9 457.6 545.3 457.6 545.8 457.6 546.3 457.6 546.7 457.6 547.2 457.6 547.6 457.6 548.1 457.6 548.6 457.6 549.0 457.5 549.5 457.5 550.0 457.5 550.4 457.5 550.9 457.5 551.4 457.5 551.8 457.5 552.3 457.5 552.8 457.5 553.2 457.4 553.7 457.4 554.2 457.4 554.6 457.4 555.1 457.4 555.5 457.4 556.0 457.4 556.5 457.4 556.9 457.4 557.4 457.3 557.9 457.3 558.3 457.3 558.8 457.3 559.3 457.3 559.7 457.3 560.2 457.3 560.7 457.3 561.1 457.3 561.6 457.2 562.0 457.2 562.5 457.2 563.0 457.2 563.4 457.2 563.9 457.2 564.4 457.2 564.8 457.2 565.3 457.2 565.8 457.1 566.2 457.1 566.7 457.1 567.2 457.1 567.6 457.1 568.1 457.1 568.6 457.1 569.0 457.1 569.5 457.1 569.9 457.1 570.4 457.0 570.9 457.0 571.3 457.0 571.8 457.0 572.3 457.0 572.7 457.0 573.2 457.0 573.7 457.0 574.1 457.0 574.6 456.9 575.1 456.9 575.5 456.9 576.0 456.9 576.5 456.9 576.9 456.9 577.4 456.9 577.8 456.9 578.3 456.9 578.8 456.8 579.2 456.8 579.7 456.8 580.2 456.8 580.6 456.8 581.1 456.8 581.6 456.8 582.0 456.8 582.5 456.8 583.0 456.8 583.4 456.7 583.9 456.7 584.3 456.7 584.8 456.7 585.3 456.7 585.7 456.7 586.2 456.7 586.7 456.7 587.1 456.7 587.6 456.7 588.1 456.6 588.5 456.6 589.0 456.6 589.5 456.6 589.9 456.6 590.4 456.6 590.9 456.6 591.3 456.6 591.8 456.6 592.2 456.5 592.7 456.5 593.2 456.5 593.6 456.5 594.1 456.5 594.6 456.5 595.0 456.5 595.5 456.5 596.0 456.5 596.4 456.5 596.9 456.4 597.4 456.4 597.8 456.4 598.3 456.4 598.8 456.4 599.2 456.4 599.7 456.4 600.1 456.4 600.6 456.4 601.1 456.4 601.5 456.3 602.0 456.3 602.5 456.3 602.9 456.3 603.4 456.3 603.9 456.3 604.3 456.3 604.8 456.3 605.3 456.3 605.7 456.2 606.2 456.2 606.6 456.2 607.1 456.2 607.6 456.2 608.0 456.2 608.5 456.2 609.0 456.2 609.4 456.2 609.9 456.2 610.4 456.1 610.8 456.1 611.3 456.1 611.8 456.1 612.2 456.1 612.7 456.1 613.2 456.1 613.6 456.1 614.1 456.1 614.5 456.1 615.0 456.0 615.5 456.0 615.9 456.0 616.4 456.0 616.9 456.0 617.3 456.0 617.8 456.0 618.3 456.0 618.7 456.0 619.2 456.0 619.7 455.9 620.1 455.9 620.6 455.9 621.1 455.9 621.5 455.9 622.0 455.9 622.4 455.9 622.9 455.9 623.4 455.9 623.8 455.9 624.3 455.8 624.8 455.8 625.2 455.8 625.7 455.8 626.2 455.8 626.6 455.8 627.1 455.8 627.6 455.8 628.0 455.8 628.5 455.8 628.9 455.7 629.4 455.7 629.9 455.7 630.3 455.7 630.8 455.7 631.3 455.7 631.7 455.7 632.2 455.7 632.7 455.7 633.1 455.7 633.6 455.6 634.1 455.6 634.5 455.6 635.0 455.6 635.5 455.6 635.9 455.6 636.4 455.6 636.8 455.6 637.3 455.6 637.8 455.6 638.2 455.5 638.7 455.5 639.2 455.5 639.6 455.5 640.1 455.5 640.6 455.5 641.0 455.5 641.5 455.5 642.0 455.5 642.4 455.5 642.9 455.4 643.4 455.4 643.8 455.4 644.3 455.4 644.7 455.4 645.2 455.4 645.7 455.4 646.1 455.4 646.6 455.4 647.1 455.4 647.5 455.3 648.0 455.3 648.5 455.3 648.9 455.3 649.4 455.3 649.9 455.3 650.3 455.3 650.8 455.3 651.2 455.3 651.7 455.3 652.2 455.2 652.6 455.2 653.1 455.2 653.6 455.2 654.0 455.2 654.5 455.2 655.0 455.2 655.4 455.2 655.9 455.2 656.4 455.2 656.8 455.1 657.3 455.1 657.8 455.1 658.2 455.1 658.7 455.1 659.1 455.1 659.6 455.1 660.1 455.1 660.5 455.1 661.0 455.1 661.5 455.1 661.9 455.0 662.4 455.0 662.9 455.0 663.3 455.0 663.8 455.0 664.3 455.0 664.7 455.0 665.2 455.0 665.6 455.0 666.1 455.0 666.6 454.9 667.0 454.9 667.5 454.9 668.0 454.9 668.4 454.9 668.9 454.9 669.4 454.9 669.8 454.9 670.3 454.9 670.8 454.9 671.2 454.8 671.7 454.8 672.2 454.8 672.6 454.8 673.1 454.8 673.5 454.8 674.0 454.8 674.5 454.8 674.9 454.8 675.4 454.8 675.9 454.7 676.3 454.7 676.8 454.7 677.3 454.7 677.7 454.7 678.2 454.7 678.7 454.7 679.1 454.7 679.6 454.7 680.1 454.7 680.5 454.6 681.0 454.6 681.4 454.6 681.9 454.6 682.4 454.6 682.8 454.6 683.3 454.6 683.8 454.6 684.2 454.6 684.7 454.6 685.2 454.6 685.6 454.5 686.1 454.5 686.6 454.5 687.0 454.5 687.5 454.5 687.9 454.5 688.4 454.5 688.9 454.5 689.3 454.5 689.8 454.5 690.3 454.4 690.7 454.4 691.2 454.4 691.7 454.4 692.1 454.4 692.6 454.4 693.1 454.4 693.5 454.4 694.0 454.4 694.5 454.4 694.9 454.3 695.4 454.3 695.8 454.3 696.3 454.3 696.8 454.3 697.2 454.3 697.7 454.3 698.2 454.3 698.6 454.3 699.1 454.3 699.6 454.2 700.0 454.2 700.5 454.2 701.0 454.2 701.4 454.2 701.9 454.2 702.4 454.2 702.8 454.2 703.3 454.2 703.7 454.2 704.2 454.1 704.7 454.1 705.1 454.1 705.6 454.1 706.1 454.1 706.5 454.1 707.0 454.1 707.5 454.1 707.9 454.1 708.4 454.1 708.9 454.1 709.3 454.0 709.8 454.0 710.2 454.0 710.7 454.0 711.2 454.0 711.6 454.0 712.1 454.0 712.6 454.0 713.0 454.0 713.5 454.0 714.0 453.9 714.4 453.9 714.9 453.9 715.4 453.9 715.8 453.9 716.3 453.9 716.8 453.9 717.2 453.9 717.7 453.9 718.1 453.9 718.6 453.8 719.1 453.8 719.5 453.8 720.0 453.8 720.5 453.8 720.9 453.8 721.4 453.8 721.9 453.8 722.3 453.8 722.8 453.8 723.3 453.7 723.7 453.7 724.2 453.7 724.7 453.7 725.1 453.7 725.6 453.7 726.0 453.7 726.5 453.7 727.0 453.7 727.4 453.7 727.9 453.6 728.4 453.6 728.8 453.6 729.3 453.6 729.8 453.6 730.2 453.6 730.7 453.6 731.2 453.6 731.6 453.6 732.1 453.6 732.5 453.5 733.0 453.5 733.5 453.5 733.9 453.5 734.4 453.5 734.9 453.5 735.3 453.5 735.8 453.5 736.3 453.5 736.7 453.5 737.2 453.4 737.7 453.4 738.1 453.4 738.6 453.4 739.1 453.4 739.5 453.4 740.0 453.4 740.4 453.4 740.9 453.4 741.4 453.4 741.8 453.3 742.3 453.3 742.8 453.3 743.2 453.3 743.7 453.3 744.2 453.3 744.6 453.3 745.1 453.3 745.6 453.3 746.0 453.3 746.5 453.2 747.0 453.2 747.4 453.2 747.9 453.2 748.3 453.2 748.8 453.2 749.3 453.2 749.7 453.2 750.2 453.2 750.7 453.2 751.1 453.1 751.6 453.1 752.1 453.1 752.5 453.1 753.0 453.1 753.5 453.1 753.9 453.1 754.4 453.1 754.8 453.1 755.3 453.1 755.8 453.0 756.2 453.0 756.7 453.0 757.2 453.0 757.6 453.0 758.1 453.0 758.6 453.0 759.0 453.0 759.5 453.0 760.0 453.0 760.4 452.9 760.9 452.9 761.4 452.9 761.8 452.9 762.3 452.9 762.7 452.9 763.2 452.9 763.7 452.9 764.1 452.9 764.6 452.9 765.1 452.8 765.5 452.8 766.0 452.8 766.5 452.8 766.9 452.8 767.4 452.8 767.9 452.8 768.3 452.8 768.8 452.8 769.2 452.8 769.7 452.8 770.2 452.7 770.6 452.7 771.1 452.7 771.6 452.7 772.0 452.7 772.5 452.7 773.0 452.7 773.4 452.7 773.9 452.7 774.4 452.7 774.8 452.6 775.3 452.6 775.8 452.6 776.2 452.6 776.7 452.6 777.1 452.6 777.6 452.6 778.1 452.6 778.5 452.6 779.0 452.6 779.5 452.5 779.9 452.5 780.4 452.5 780.9 452.5 781.3 452.5 781.8 452.5 782.3 452.5 782.7 452.5 783.2 452.5 783.7 452.5 784.1 452.4 784.6 452.4 785.0 452.4 785.5 452.4 786.0 452.4 786.4 452.4 786.9 452.4 787.4 452.4 787.8 452.4 788.3 452.4 788.8 452.3 789.2 452.3 789.7 452.3 790.2 452.3 790.6 452.3 791.1 452.3 791.5 452.3 792.0 452.3 792.5 452.3 792.9 452.3 793.4 452.2 793.9 452.2 794.3 452.2 794.8 452.2 795.3 452.2 795.7 452.2 796.2 452.2 796.7 452.2 797.1 452.2 797.6 452.2 798.1 452.1 798.5 452.1 799.0 452.1 799.4 452.1 799.9 452.1 800.4 452.1 800.8 452.1 801.3 452.1 801.8 452.1 802.2 452.1 802.7 452.1 803.2 452.0 803.6 452.0 804.1 452.0 804.6 452.0 805.0 452.0 805.5 452.0 806.0 452.0 806.4 452.0 806.9 452.0 807.3 452.0 807.8 451.9 808.3 451.9 808.7 451.9 809.2 451.9 809.7 451.9 810.1 451.9 810.6 451.9 811.1 451.9 811.5 451.9 812.0 451.9 812.5 451.8 812.9 451.8 813.4 451.8 813.8 451.8 814.3 451.8 814.8 451.8 815.2 451.8 815.7 451.8 816.2 451.8 816.6 451.8 817.1 451.7 817.6 451.7 818.0 451.7 818.5 451.7 819.0 451.7 819.4 451.7 819.9 451.7 820.4 451.7 820.8 451.7 821.3 451.7 821.7 451.7 822.2 451.6 822.7 451.6 823.1 451.6 823.6 451.6 824.1 451.6 824.5 451.6 825.0 451.6 825.5 451.6 825.9 451.6 826.4 451.6 826.9 451.5 827.3 451.5 827.8 451.5 828.3 451.5 828.7 451.5 829.2 451.5 829.6 451.5 830.1 451.5 830.6 451.5 831.0 451.5 831.5 451.4 832.0 451.4 832.4 451.4 832.9 451.4 833.4 451.4 833.8 451.4 834.3 451.4 834.8 451.4 835.2 451.4 835.7 451.4 836.1 451.4 836.6 451.3 837.1 451.3 837.5 451.3 838.0 451.3 838.5 451.3 838.9 451.3 839.4 451.3 839.9 451.3 840.3 451.3 840.8 451.3 841.3 451.2 841.7 451.2 842.2 451.2 842.7 451.2 843.1 451.2 843.6 451.2 844.0 451.2 844.5 451.2 845.0 451.2 845.4 451.2 845.9 451.2 846.4 451.1 846.8 451.1 847.3 451.1 847.8 451.1 848.2 451.1 848.7 451.1 849.2 451.1 849.6 451.1 850.1 451.1 850.6 451.1 851.0 451.0 851.5 451.0 851.9 451.0 852.4 451.0 852.9 451.0 853.3 451.0 853.8 451.0 854.3 451.0 854.7 451.0 855.2 451.0 855.7 451.0 856.1 450.9 856.6 450.9 857.1 450.9 857.5 450.9 858.0 450.9 858.4 450.9 858.9 450.9 859.4 450.9 859.8 450.9 860.3 450.9 860.8 450.8 861.2 450.8 861.7 450.8 862.2 450.8 862.6 450.8 863.1 450.8 863.6 450.8 864.0 450.8 864.5 450.8 865.0 450.8 865.4 450.8 865.9 450.7 866.3 450.7 866.8 450.7 867.3 450.7 867.7 450.7 868.2 450.7 868.7 450.7 869.1 450.7 869.6 450.7 870.1 450.7 870.5 450.6 871.0 450.6 871.5 450.6 871.9 450.6 872.4 450.6 872.8 450.6 873.3 450.6 873.8 450.6 874.2 450.6 874.7 450.6 875.2 450.6 875.6 450.5 876.1 450.5 876.6 450.5 877.0 450.5 877.5 450.5 878.0 450.5 878.4 450.5 878.9 450.5 879.4 450.5 879.8 450.5 880.3 450.5 880.7 450.4 881.2 450.4 881.7 450.4 882.1 450.4 882.6 450.4 883.1 450.4 883.5 450.4 884.0 450.4 884.5 450.4 884.9 450.4 885.4 450.4 885.9 450.3 886.3 450.3 886.8 450.3 887.3 450.3 887.7 450.3 888.2 450.3 888.6 450.3 889.1 450.3 889.6 450.3 890.0 450.3 890.5 450.3 891.0 450.2 891.4 450.2 891.9 450.2 892.4 450.2 892.8 450.2 893.3 450.2 893.8 450.2 894.2 450.2 894.7 450.2 895.1 450.2 895.6 450.2 896.1 450.1 896.5 450.1 897.0 450.1 897.5 450.1 897.9 450.1 898.4 450.1 898.9 450.1 899.3 450.1 899.8 450.1 900.3 450.1 900.7 450.1 901.2 450.0 901.7 450.0 902.1 450.0 902.6 450.0 903.0 450.0 903.5 450.0 904.0 450.0 904.4 450.0 904.9 450.0 905.4 450.0 905.8 450.0 906.3 449.9 906.8 449.9 907.2 449.9 907.7 449.9 908.2 449.9 908.6 449.9 909.1 449.9 909.6 449.9 910.0 449.9 910.5 449.9 910.9 449.9 911.4 449.8 911.9 449.8 912.3 449.8 912.8 449.8 913.3 449.8 913.7 449.8 914.2 449.8 914.7 449.8 915.1 449.8 915.6 449.8 916.1 449.8 916.5 449.7 917.0 449.7 917.4 449.7 917.9 449.7 918.4 449.7 918.8 449.7 919.3 449.7 919.8 449.7 920.2 449.7 920.7 449.7 921.2 449.7 921.6 449.6 922.1 449.6 922.6 449.6 923.0 449.6 923.5 449.6 924.0 449.6 924.4 449.6 924.9 449.6 925.3 449.6 925.8 449.6 926.3 449.6 926.7 449.5 927.2 449.5 927.7 449.5 928.1 449.5 928.6 449.5 929.1 449.5 929.5 449.5 930.0 449.5 930.5 449.5 930.9 449.5 931.4 449.5 931.9 449.4 932.3 449.4 932.8 449.4 933.2 449.4 933.7 449.4 934.2 449.4 934.6 449.4 935.1 449.4 935.6 449.4 936.0 449.4 936.5 449.4 937.0 449.3 937.4 449.3 937.9 449.3 938.4 449.3 938.8 449.3 939.3 449.3 939.7 449.3 940.2 449.3 940.7 449.3 941.1 449.3 941.6 449.3 942.1 449.3 942.5 449.2 943.0 449.2 943.5 449.2 943.9 449.2 944.4 449.2 944.9 449.2 945.3 449.2 945.8 449.2 946.3 449.2 946.7 449.2 947.2 449.2 947.6 449.1 948.1 449.1 948.6 449.1 949.0 449.1 949.5 449.1 950.0 449.1 950.4 449.1 950.9 449.1 951.4 449.1 951.8 449.1 952.3 449.1 952.8 449.1 953.2 449.0 953.7 449.0 954.2 449.0 954.6 449.0 955.1 449.0 955.5 449.0 956.0 449.0 956.5 449.0 956.9 449.0 957.4 449.0 957.9 449.0 958.3 448.9 958.8 448.9 959.3 448.9 959.7 448.9 960.2 448.9 960.7 448.9 961.1 448.9 961.6 448.9 962.0 448.9 962.5 448.9 963.0 448.9 963.4 448.9 963.9 448.8 964.4 448.8 964.8 448.8 965.3 448.8 965.8 448.8 966.2 448.8 966.7 448.8 967.2 448.8 967.6 448.8 968.1 448.8 968.6 448.8 969.0 448.7 969.5 448.7 969.9 448.7 970.4 448.7 970.9 448.7 971.3 448.7 971.8 448.7 972.3 448.7 972.7 448.7 973.2 448.7 973.7 448.7 974.1 448.7 974.6 448.6 975.1 448.6 975.5 448.6 976.0 448.6 976.4 448.6 976.9 448.6 977.4 448.6 977.8 448.6 978.3 448.6 978.8 448.6 979.2 448.6 979.7 448.5 980.2 448.5 980.6 448.5 981.1 448.5 981.6 448.5 982.0 448.5 982.5 448.5 983.0 448.5 983.4 448.5 983.9 448.5 984.3 448.5 984.8 448.5 985.3 448.4 985.7 448.4 986.2 448.4 986.7 448.4 987.1 448.4 987.6 448.4 988.1 448.4 988.5 448.4 989.0 448.4 989.5 448.4 989.9 448.4 990.4 448.4 990.9 448.3 991.3 448.3 991.8 448.3 992.2 448.3 992.7 448.3 993.2 448.3 993.6 448.3 994.1 448.3 994.6 448.3 995.0 448.3 995.5 448.3 996.0 448.2 996.4 448.2 996.9 448.2 997.4 448.2 997.8 448.2 998.3 448.2 998.7 448.2"/>
<path stroke="#000" stroke-width="2" stroke-dasharray="2 2" d="M150.9 539.9 151.4 527.1 151.8 515.2 152.3 504.4 152.8 494.2 153.2 483.2 153.7 475.0 154.2 472.9 154.6 472.7 155.1 472.5 155.5 472.3 156.0 472.2 156.5 472.0 156.9 472.0 157.4 471.9 157.9 471.8 158.3 471.8 158.8 471.7 159.3 471.6 159.7 471.6 160.2 471.5 160.7 471.4 161.1 471.3 161.6 471.2 162.1 471.1 162.5 471.0 163.0 470.9 163.4 470.8 163.9 470.8 164.4 470.7 164.8 470.6 165.3 470.5 165.8 470.4 166.2 470.4 166.7 470.3 167.2 470.2 167.6 470.1 168.1 470.1 168.6 470.0 169.0 469.9 169.5 469.8 169.9 469.8 170.4 469.7 170.9 469.6 171.3 469.6 171.8 469.5 172.3 469.4 172.7 469.3 173.2 469.3 173.7 469.2 174.1 469.1 174.6 469.1 175.1 469.0 175.5 468.9 176.0 468.9 176.5 468.8 176.9 468.7 177.4 468.7 177.8 468.6 178.3 468.5 178.8 468.5 179.2 468.4 179.7 468.3 180.2 468.3 180.6 468.2 181.1 468.1 181.6 468.1 182.0 468.0 182.5 467.9 183.0 467.9 183.4 467.8 183.9 467.7 184.4 467.7 184.8 467.6 185.3 467.6 185.7 467.5 186.2 467.4 186.7 467.4 187.1 467.3 187.6 467.2 188.1 467.2 188.5 467.1 189.0 467.1 189.5 467.0 189.9 466.9 190.4 466.9 190.9 466.8 191.3 466.7 191.8 466.7 192.2 466.6 192.7 466.6 193.2 466.5 193.6 466.4 194.1 466.4 194.6 466.3 195.0 466.3 195.5 466.2 196.0 466.1 196.4 466.1 196.9 466.0 197.4 466.0 197.8 465.9 198.3 465.8 198.8 465.8 199.2 465.7 199.7 465.7 200.1 465.6 200.6 465.6 201.1 465.5 201.5 465.4 202.0 465.4 202.5 465.3 202.9 465.3 203.4 465.2 203.9 465.1 204.3 465.1 204.8 465.0 205.3 465.0 205.7 464.9 206.2 464.9 206.7 464.8 207.1 464.7 207.6 464.7 208.0 464.6 208.5 464.6 209.0 464.5 209.4 464.4 209.9 464.4 210.4 464.3 210.8 464.3 211.3 464.2 211.8 464.1 212.2 464.1 212.7 464.0 213.2 464.0 213.6 463.9 214.1 463.8 214.5 463.8 215.0 463.7 215.5 463.6 215.9 463.6 216.4 463.5 216.9 463.5 217.3 463.4 217.8 463.3 218.3 463.3 218.7 463.2 219.2 463.2 219.7 463.1 220.1 463.0 220.6 463.0 221.1 462.9 221.5 462.9 222.0 462.8 222.4 462.7 222.9 462.7 223.4 462.6 223.8 462.6 224.3 462.5 224.8 462.4 225.2 462.4 225.7 462.3 226.2 462.3 226.6 462.2 227.1 462.2 227.6 462.1 228.0 462.0 228.5 462.0 229.0 461.9 229.4 461.9 229.9 461.8 230.3 461.8 230.8 461.7 231.3 461.6 231.7 461.6 232.2 461.5 232.7 461.5 233.1 461.4 233.6 461.4 234.1 461.3 234.5 461.3 235.0 461.2 235.5 461.2 235.9 461.1 236.4 461.1 236.8 461.0 237.3 460.9 237.8 460.9 238.2 460.8 238.7 460.8 239.2 460.8 239.6 460.7 240.1 460.7 240.6 460.6 241.0 460.6 241.5 460.5 242.0 460.5 242.4 460.4 242.9 460.4 243.4 460.3 243.8 460.3 244.3 460.2 244.7 460.2 245.2 460.2 245.7 460.1 246.1 460.1 246.6 460.0 247.1 460.0 247.5 460.0 248.0 459.9 248.5 459.9 248.9 459.8 249.4 459.8 249.9 459.8 250.3 459.7 250.8 459.7 251.2 459.6 251.7 459.6 252.2 459.6 252.6 459.5 253.1 459.5 253.6 459.5 254.0 459.4 254.5 459.4 255.0 459.3 255.4 459.3 255.9 459.3 256.4 459.2 256.8 459.2 257.3 459.2 257.8 459.1 258.2 459.1 258.7 459.0 259.1 459.0 259.6 459.0 260.1 458.9 260.5 458.9 261.0 458.9 261.5 458.8 261.9 458.8 262.4 458.8 262.9 458.7 263.3 458.7 263.8 458.6 264.3 458.6 264.7 458.6 265.2 458.5 265.7 458.5 266.1 458.5 266.6 458.4 267.0 458.4 267.5 458.4 268.0 458.3 268.4 458.3 268.9 458.3 269.4 458.2 269.8 458.2 270.3 458.2 270.8 458.1 271.2 458.1 271.7 458.1 272.2 458.0 272.6 458.0 273.1 458.0 273.5 457.9 274.0 457.9 274.5 457.9 274.9 457.8 275.4 457.8 275.9 457.8 276.3 457.7 276.8 457.7 277.3 457.7 277.7 457.6 278.2 457.6 278.7 457.6 279.1 457.6 279.6 457.5 280.1 457.5 280.5 457.5 281.0 457.4 281.4 457.4 281.9 457.4 282.4 457.3 282.8 457.3 283.3 457.3 283.8 457.2 284.2 457.2 284.7 457.2 285.2 457.2 285.6 457.1 286.1 457.1 286.6 457.1 287.0 457.0 287.5 457.0 288.0 457.0 288.4 456.9 288.9 456.9 289.3 456.9 289.8 456.9 290.3 456.8 290.7 456.8 291.2 456.8 291.7 456.7 292.1 456.7 292.6 456.7 293.1 456.7 293.5 456.6 294.0 456.6 294.5 456.6 294.9 456.5 295.4 456.5 295.8 456.5 296.3 456.5 296.8 456.4 297.2 456.4 297.7 456.4 298.2 456.3 298.6 456.3 299.1 456.3 299.6 456.3 300.0 456.2 300.5 456.2 301.0 456.2 301.4 456.2 301.9 456.1 302.4 456.1 302.8 456.1 303.3 456.1 303.7 456.0 304.2 456.0 304.7 456.0 305.1 455.9 305.6 455.9 306.1 455.9 306.5 455.9 307.0 455.8 307.5 455.8 307.9 455.8 308.4 455.8 308.9 455.7 309.3 455.7 309.8 455.7 310.3 455.7 310.7 455.6 311.2 455.6 311.6 455.6 312.1 455.6 312.6 455.5 313.0 455.5 313.5 455.5 314.0 455.5 314.4 455.4 314.9 455.4 315.4 455.4 315.8 455.4 316.3 455.3 316.8 455.3 317.2 455.3 317.7 455.3 318.1 455.3 318.6 455.2 319.1 455.2 319.5 455.2 320.0 455.2 320.5 455.1 320.9 455.1 321.4 455.1 321.9 455.1 322.3 455.0 322.8 455.0 323.3 455.0 323.7 455.0 324.2 455.0 324.7 454.9 325.1 454.9 325.6 454.9 326.0 454.9 326.5 454.8 327.0 454.8 327.4 454.8 327.9 454.8 328.4 454.8 328.8 454.7 329.3 454.7 329.8 454.7 330.2 454.7 330.7 454.6 331.2 454.6 331.6 454.6 332.1 454.6 332.6 454.6 333.0 454.5 333.5 454.5 333.9 454.5 334.4 454.5 334.9 454.5 335.3 454.4 335.8 454.4 336.3 454.4 336.7 454.4 337.2 454.3 337.7 454.3 338.1 454.3 338.6 454.3 339.1 454.3 339.5 454.2 340.0 454.2 340.4 454.2 340.9 454.2 341.4 454.2 341.8 454.1 342.3 454.1 342.8 454.1 343.2 454.1 343.7 454.1 344.2 454.0 344.6 454.0 345.1 454.0 345.6 454.0 346.0 454.0 346.5 453.9 347.0 453.9 347.4 453.9 347.9 453.9 348.3 453.9 348.8 453.8 349.3 453.8 349.7 453.8 350.2 453.8 350.7 453.8 351.1 453.7 351.6 453.7 352.1 453.7 352.5 453.7 353.0 453.7 353.5 453.6 353.9 453.6 354.4 453.6 354.8 453.6 355.3 453.6 355.8 453.6 356.2 453.5 356.7 453.5 357.2 453.5 357.6 453.5 358.1 453.5 358.6 453.4 359.0 453.4 359.5 453.4 360.0 453.4 360.4 453.4 360.9 453.3 361.4 453.3 361.8 453.3 362.3 453.3 362.7 453.3 363.2 453.3 363.7 453.2 364.1 453.2 364.6 453.2 365.1 453.2 365.5 453.2 366.0 453.1 366.5 453.1 366.9 453.1 367.4 453.1 367.9 453.1 368.3 453.1 368.8 453.0 369.3 453.0 369.7 453.0 370.2 453.0 370.6 453.0 371.1 453.0 371.6 452.9 372.0 452.9 372.5 452.9 373.0 452.9 373.4 452.9 373.9 452.8 374.4 452.8 374.8 452.8 375.3 452.8 375.8 452.8 376.2 452.8 376.7 452.7 377.1 452.7 377.6 452.7 378.1 452.7 378.5 452.7 379.0 452.7 379.5 452.6 379.9 452.6 380.4 452.6 380.9 452.6 381.3 452.6 381.8 452.6 382.3 452.5 382.7 452.5 383.2 452.5 383.7 452.5 384.1 452.5 384.6 452.5 385.0 452.4 385.5 452.4 386.0 452.4 386.4 452.4 386.9 452.4 387.4 452.4 387.8 452.3 388.3 452.3 388.8 452.3 389.2 452.3 389.7 452.3 390.2 452.3 390.6 452.2 391.1 452.2 391.6 452.2 392.0 452.2 392.5 452.2 392.9 452.2 393.4 452.1 393.9 452.1 394.3 452.1 394.8 452.1 395.3 452.1 395.7 452.1 396.2 452.0 396.7 452.0 397.1 452.0 397.6 452.0 398.1 452.0 398.5 452.0 399.0 452.0 399.4 451.9 399.9 451.9 400.4 451.9 400.8 451.9 401.3 451.9 401.8 451.9 402.2 451.8 402.7 451.8 403.2 451.8 403.6 451.8 404.1 451.8 404.6 451.8 405.0 451.8 405.5 451.7 406.0 451.7 406.4 451.7 406.9 451.7 407.3 451.7 407.8 451.7 408.3 451.6 408.7 451.6 409.2 451.6 409.7 451.6 410.1 451.6 410.6 451.6 411.1 451.6 411.5 451.5 412.0 451.5 412.5 451.5 412.9 451.5 413.4 451.5 413.9 451.5 414.3 451.5 414.8 451.4 415.2 451.4 415.7 451.4 416.2 451.4 416.6 451.4 417.1 451.4 417.6 451.3 418.0 451.3 418.5 451.3 419.0 451.3 419.4 451.3 419.9 451.3 420.4 451.3 420.8 451.2 421.3 451.2 421.7 451.2 422.2 451.2 422.7 451.2 423.1 451.2 423.6 451.2 424.1 451.1 424.5 451.1 425.0 451.1 425.5 451.1 425.9 451.1 426.4 451.1 426.9 451.1 427.3 451.0 427.8 451.0 428.3 451.0 428.7 451.0 429.2 451.0 429.6 451.0 430.1 451.0 430.6 450.9 431.0 450.9 431.5 450.9 432.0 450.9 432.4 450.9 432.9 450.9 433.4 450.9 433.8 450.8 434.3 450.8 434.8 450.8 435.2 450.8 435.7 450.8 436.2 450.8 436.6 450.8 437.1 450.7 437.5 450.7 438.0 450.7 438.5 450.7 438.9 450.7 439.4 450.7 439.9 450.7 440.3 450.6 440.8 450.6 441.3 450.6 441.7 450.6 442.2 450.6 442.7 450.6 443.1 450.6 443.6 450.6 444.0 450.5 444.5 450.5 445.0 450.5 445.4 450.5 445.9 450.5 446.4 450.5 446.8 450.5 447.3 450.4 447.8 450.4 448.2 450.4 448.7 450.4 449.2 450.4 449.6 450.4 450.1 450.4 450.6 450.3 451.0 450.3 451.5 450.3 451.9 450.3 452.4 450.3 452.9 450.3 453.3 450.3 453.8 450.3 454.3 450.2 454.7 450.2 455.2 450.2 455.7 450.2 456.1 450.2 456.6 450.2 457.1 450.2 457.5 450.1 458.0 450.1 458.4 450.1 458.9 450.1 459.4 450.1 459.8 450.1 460.3 450.1 460.8 450.0 461.2 450.0 461.7 450.0 462.2 450.0 462.6 450.0 463.1 450.0 463.6 450.0 464.0 450.0 464.5 449.9 465.0 449.9 465.4 449.9 465.9 449.9 466.3 449.9 466.8 449.9 467.3 449.9 467.7 449.8 468.2 449.8 468.7 449.8 469.1 449.8 469.6 449.8 470.1 449.8 470.5 449.8 471.0 449.8 471.5 449.7 471.9 449.7 472.4 449.7 472.9 449.7 473.3 449.7 473.8 449.7 474.2 449.7 474.7 449.6 475.2 449.6 475.6 449.6 476.1 449.6 476.6 449.6 477.0 449.6 477.5 449.6 478.0 449.6 478.4 449.5 478.9 449.5 479.4 449.5 479.8 449.5 480.3 449.5 480.7 449.5 481.2 449.5 481.7 449.4 482.1 449.4 482.6 449.4 483.1 449.4 483.5 449.4 484.0 449.4 484.5 449.4 484.9 449.3 485.4 449.3 485.9 449.3 486.3 449.3 486.8 449.3 487.3 449.3 487.7 449.3 488.2 449.3 488.6 449.2 489.1 449.2 489.6 449.2 490.0 449.2 490.5 449.2 491.0 449.2 491.4 449.2 491.9 449.1 492.4 449.1 492.8 449.1 493.3 449.1 493.8 449.1 494.2 449.1 494.7 449.1 495.2 449.1 495.6 449.0 496.1 449.0 496.5 449.0 497.0 449.0 497.5 449.0 497.9 449.0 498.4 449.0 498.9 448.9 499.3 448.9 499.8 448.9 500.3 448.9 500.7 448.9 501.2 448.9 501.7 448.9 502.1 448.8 502.6 448.8 503.0 448.8 503.5 448.8 504.0 448.8 504.4 448.8 504.9 448.8 505.4 448.8 505.8 448.7 506.3 448.7 506.8 448.7 507.2 448.7 507.7 448.7 508.2 448.7 508.6 448.7 509.1 448.6 509.6 448.6 510.0 448.6 510.5 448.6 510.9 448.6 511.4 448.6 511.9 448.6 512.3 448.5 512.8 448.5 513.3 448.5 513.7 448.5 514.2 448.5 514.7 448.5 515.1 448.5 515.6 448.4 516.1 448.4 516.5 448.4 517.0 448.4 517.5 448.4 517.9 448.4 518.4 448.4 518.8 448.3 519.3 448.3 519.8 448.3 520.2 448.3 520.7 448.3 521.2 448.3 521.6 448.3 522.1 448.2 522.6 448.2 523.0 448.2 523.5 448.2 524.0 448.2 524.4 448.2 524.9 448.2 525.3 448.1 525.8 448.1 526.3 448.1 526.7 448.1 527.2 448.1 527.7 448.1 528.1 448.1 528.6 448.0 529.1 448.0 529.5 448.0 530.0 448.0 530.5 448.0 530.9 448.0 531.4 448.0 531.9 447.9 532.3 447.9 532.8 447.9 533.2 447.9 533.7 447.9 534.2 447.9 534.6 447.9 535.1 447.8 535.6 447.8 536.0 447.8 536.5 447.8 537.0 447.8 537.4 447.8 537.9 447.8 538.4 447.7 538.8 447.7 539.3 447.7 539.8 447.7 540.2 447.7 540.7 447.7 541.1 447.6 541.6 447.6 542.1 447.6 542.5 447.6 543.0 447.6 543.5 447.6 543.9 447.6 544.4 447.5 544.9 447.5 545.3 447.5 545.8 447.5 546.3 447.5 546.7 447.5 547.2 447.5 547.6 447.4 548.1 447.4 548.6 447.4 549.0 447.4 549.5 447.4 550.0 447.4 550.4 447.4 550.9 447.3 551.4 447.3 551.8 447.3 552.3 447.3 552.8 447.3 553.2 447.3 553.7 447.2 554.2 447.2 554.6 447.2 555.1 447.2 555.5 447.2 556.0 447.2 556.5 447.2 556.9 447.1 557.4 447.1 557.9 447.1 558.3 447.1 558.8 447.1 559.3 447.1 559.7 447.1 560.2 447.0 560.7 447.0 561.1 447.0 561.6 447.0 562.0 447.0 562.5 447.0 563.0 447.0 563.4 446.9 563.9 446.9 564.4 446.9 564.8 446.9 565.3 446.9 565.8 446.9 566.2 446.8 566.7 446.8 567.2 446.8 567.6 446.8 568.1 446.8 568.6 446.8 569.0 446.8 569.5 446.7 569.9 446.7 570.4 446.7 570.9 446.7 571.3 446.7 571.8 446.7 572.3 446.7 572.7 446.6 573.2 446.6 573.7 446.6 574.1 446.6 574.6 446.6 575.1 446.6 575.5 446.5 576.0 446.5 576.5 446.5 576.9 446.5 577.4 446.5 577.8 446.5 578.3 446.5 578.8 446.4 579.2 446.4 579.7 446.4 580.2 446.4 580.6 446.4 581.1 446.4 581.6 446.4 582.0 446.3 582.5 446.3 583.0 446.3 583.4 446.3 583.9 446.3 584.3 446.3 584.8 446.3 585.3 446.2 585.7 446.2 586.2 446.2 586.7 446.2 587.1 446.2 587.6 446.2 588.1 446.1 588.5 446.1 589.0 446.1 589.5 446.1 589.9 446.1 590.4 446.1 590.9 446.1 591.3 446.0 591.8 446.0 592.2 446.0 592.7 446.0 593.2 446.0 593.6 446.0 594.1 446.0 594.6 445.9 595.0 445.9 595.5 445.9 596.0 445.9 596.4 445.9 596.9 445.9 597.4 445.9 597.8 445.8 598.3 445.8 598.8 445.8 599.2 445.8 599.7 445.8 600.1 445.8 600.6 445.7 601.1 445.7 601.5 445.7 602.0 445.7 602.5 445.7 602.9 445.7 603.4 445.7 603.9 445.6 604.3 445.6 604.8 445.6 605.3 445.6 605.7 445.6 606.2 445.6 606.6 445.6 607.1 445.5 607.6 445.5 608.0 445.5 608.5 445.5 609.0 445.5 609.4 445.5 609.9 445.5 610.4 445.4 610.8 445.4 611.3 445.4 611.8 445.4 612.2 445.4 612.7 445.4 613.2 445.3 613.6 445.3 614.1 445.3 614.5 445.3 615.0 445.3 615.5 445.3 615.9 445.3 616.4 445.2 616.9 445.2 617.3 445.2 617.8 445.2 618.3 445.2 618.7 445.2 619.2 445.2 619.7 445.1 620.1 445.1 620.6 445.1 621.1 445.1 621.5 445.1 622.0 445.1 622.4 445.1 622.9 445.0 623.4 445.0 623.8 445.0 624.3 445.0 624.8 445.0 625.2 445.0 625.7 445.0 626.2 444.9 626.6 444.9 627.1 444.9 627.6 444.9 628.0 444.9 628.5 444.9 628.9 444.9 629.4 444.8 629.9 444.8 630.3 444.8 630.8 444.8 631.3 444.8 631.7 444.8 632.2 444.8 632.7 444.7 633.1 444.7 633.6 444.7 634.1 444.7 634.5 444.7 635.0 444.7 635.5 444.7 635.9 444.6 636.4 444.6 636.8 444.6 637.3 444.6 637.8 444.6 638.2 444.6 638.7 444.6 639.2 444.5 639.6 444.5 640.1 444.5 640.6 444.5 641.0 444.5 641.5 444.5 642.0 444.5 642.4 444.4 642.9 444.4 643.4 444.4 643.8 444.4 644.3 444.4 644.7 444.4 645.2 444.4 645.7 444.3 646.1 444.3 646.6 444.3 647.1 444.3 647.5 444.3 648.0 444.3 648.5 444.3 648.9 444.2 649.4 444.2 649.9 444.2 650.3 444.2 650.8 444.2 651.2 444.2 651.7 444.2 652.2 444.1 652.6 444.1 653.1 444.1 653.6 444.1 654.0 444.1 654.5 444.1 655.0 444.1 655.4 444.0 655.9 444.0 656.4 444.0 656.8 444.0 657.3 444.0 657.8 444.0 658.2 444.0 658.7 443.9 659.1 443.9 659.6 443.9 660.1 443.9 660.5 443.9 661.0 443.9 661.5 443.9 661.9 443.9 662.4 443.8 662.9 443.8 663.3 443.8 663.8 443.8 664.3 443.8 664.7 443.8 665.2 443.8 665.6 443.7 666.1 443.7 666.6 443.7 667.0 443.7 667.5 443.7 668.0 443.7 668.4 443.7 668.9 443.6 669.4 443.6 669.8 443.6 670.3 443.6 670.8 443.6 671.2 443.6 671.7 443.6 672.2 443.6 672.6 443.5 673.1 443.5 673.5 443.5 674.0 443.5 674.5 443.5 674.9 443.5 675.4 443.5 675.9 443.4 676.3 443.4 676.8 443.4 677.3 443.4 677.7 443.4 678.2 443.4 678.7 443.4 679.1 443.4 679.6 443.3 680.1 443.3 680.5 443.3 681.0 443.3 681.4 443.3 681.9 443.3 682.4 443.3 682.8 443.2 683.3 443.2 683.8 443.2 684.2 443.2 684.7 443.2 685.2 443.2 685.6 443.2 686.1 443.2 686.6 443.1 687.0 443.1 687.5 443.1 687.9 443.1 688.4 443.1 688.9 443.1 689.3 443.1 689.8 443.0 690.3 443.0 690.7 443.0 691.2 443.0 691.7 443.0 692.1 443.0 692.6 443.0 693.1 443.0 693.5 442.9 694.0 442.9 694.5 442.9 694.9 442.9 695.4 442.9 695.8 442.9 696.3 442.9 696.8 442.9 697.2 442.8 697.7 442.8 698.2 442.8 698.6 442.8 699.1 442.8 699.6 442.8 700.0 442.8 700.5 442.8 701.0 442.7 701.4 442.7 701.9 442.7 702.4 442.7 702.8 442.7 703.3 442.7 703.7 442.7 704.2 442.7 704.7 442.6 705.1 442.6 705.6 442.6 706.1 442.6 706.5 442.6 707.0 442.6 707.5 442.6 707.9 442.6 708.4 442.5 708.9 442.5 709.3 442.5 709.8 442.5 710.2 442.5 710.7 442.5 711.2 442.5 711.6 442.5 712.1 442.4 712.6 442.4 713.0 442.4 713.5 442.4 714.0 442.4 714.4 442.4 714.9 442.4 715.4 442.4 715.8 442.4 716.3 442.3 716.8 442.3 717.2 442.3 717.7 442.3 718.1 442.3 718.6 442.3 719.1 442.3 719.5 442.3 720.0 442.2 720.5 442.2 720.9 442.2 721.4 442.2 721.9 442.2 722.3 442.2 722.8 442.2 723.3 442.2 723.7 442.2 724.2 442.1 724.7 442.1 725.1 442.1 725.6 442.1 726.0 442.1 726.5 442.1 727.0 442.1 727.4 442.1 727.9 442.1 728.4 442.0 728.8 442.0 729.3 442.0 729.8 442.0 730.2 442.0 730.7 442.0 731.2 442.0 731.6 442.0 732.1 442.0 732.5 441.9 733.0 441.9 733.5 441.9 733.9 441.9 734.4 441.9 734.9 441.9 735.3 441.9 735.8 441.9 736.3 441.9 736.7 441.8 737.2 441.8 737.7 441.8 738.1 441.8 738.6 441.8 739.1 441.8 739.5 441.8 740.0 441.8 740.4 441.8 740.9 441.8 741.4 441.8 741.8 441.7 742.3 441.7 742.8 441.7 743.2 441.7 743.7 441.7 744.2 441.7 744.6 441.7 745.1 441.7 745.6 441.7 746.0 441.7 746.5 441.7 747.0 441.7 747.4 441.6 747.9 441.6 748.3 441.6 748.8 441.6 749.3 441.6 749.7 441.6 750.2 441.6 750.7 441.6 751.1 441.6 751.6 441.6 752.1 441.6 752.5 441.6 753.0 441.6 753.5 441.5 753.9 441.5 754.4 441.5 754.8 441.5 755.3 441.5 755.8 441.5 756.2 441.5 756.7 441.5 757.2 441.5 757.6 441.5 758.1 441.5 758.6 441.5 759.0 441.5 759.5 441.5 760.0 441.5 760.4 441.4 760.9 441.4 761.4 441.4 761.8 441.4 762.3 441.4 762.7 441.4 763.2 441.4 763.7 441.4 764.1 441.4 764.6 441.4 765.1 441.4 765.5 441.4 766.0 441.4 766.5 441.4 766.9 441.4 767.4 441.4 767.9 441.4 768.3 441.3 768.8 441.3 769.2 441.3 769.7 441.3 770.2 441.3 770.6 441.3 771.1 441.3 771.6 441.3 772.0 441.3 772.5 441.3 773.0 441.3 773.4 441.3 773.9 441.3 774.4 441.3 774.8 441.3 775.3 441.3 775.8 441.3 776.2 441.3 776.7 441.2 777.1 441.2 777.6 441.2 778.1 441.2 778.5 441.2 779.0 441.2 779.5 441.2 779.9 441.2 780.4 441.2 780.9 441.2 781.3 441.2 781.8 441.2 782.3 441.2 782.7 441.2 783.2 441.2 783.7 441.2 784.1 441.2 784.6 441.2 785.0 441.2 785.5 441.2 786.0 441.1 786.4 441.1 786.9 441.1 787.4 441.1 787.8 441.1 788.3 441.1 788.8 441.1 789.2 441.1 789.7 441.1 790.2 441.1 790.6 441.1 791.1 441.1 791.5 441.1 792.0 441.1 792.5 441.1 792.9 441.1 793.4 441.1 793.9 441.1 794.3 441.1 794.8 441.1 795.3 441.0 795.7 441.0 796.2 441.0 796.7 441.0 797.1 441.0 797.6 441.0 798.1 441.0 798.5 441.0 799.0 441.0 799.4 441.0 799.9 441.0 800.4 441.0 800.8 441.0 801.3 441.0 801.8 441.0 802.2 441.0 802.7 441.0 803.2 441.0 803.6 440.9 804.1 440.9 804.6 440.9 805.0 440.9 805.5 440.9 806.0 440.9 806.4 440.9 806.9 440.9 807.3 440.9 807.8 440.9 808.3 440.9 808.7 440.9 809.2 440.9 809.7 440.9 810.1 440.9 810.6 440.9 811.1 440.9 811.5 440.8 812.0 440.8 812.5 440.8 812.9 440.8 813.4 440.8 813.8 440.8 814.3 440.8 814.8 440.8 815.2 440.8 815.7 440.8 816.2 440.8 816.6 440.8 817.1 440.8 817.6 440.8 818.0 440.8 818.5 440.7 819.0 440.7 819.4 440.7 819.9 440.7 820.4 440.7 820.8 440.7 821.3 440.7 821.7 440.7 822.2 440.7 822.7 440.7 823.1 440.7 823.6 440.7 824.1 440.7 824.5 440.6 825.0 440.6 825.5 440.6 825.9 440.6 826.4 440.6 826.9 440.6 827.3 440.6 827.8 440.6 828.3 440.6 828.7 440.6 829.2 440.6 829.6 440.6 830.1 440.5 830.6 440.5 831.0 440.5 831.5 440.5 832.0 440.5 832.4 440.5 832.9 440.5 833.4 440.5 833.8 440.5 834.3 440.5 834.8 440.4 835.2 440.4 835.7 440.4 836.1 440.4 836.6 440.4 837.1 440.4 837.5 440.4 838.0 440.4 838.5 440.4 838.9 440.4 839.4 440.3 839.9 440.3 840.3 440.3 840.8 440.3 841.3 440.3 841.7 440.3 842.2 440.3 842.7 440.3 843.1 440.3 843.6 440.2 844.0 440.2 844.5 440.2 845.0 440.2 845.4 440.2 845.9 440.2 846.4 440.2 846.8 440.2 847.3 440.1 847.8 440.1 848.2 440.1 848.7 440.1 849.2 440.1 849.6 440.1 850.1 440.1 850.6 440.0 851.0 440.0 851.5 440.0 851.9 440.0 852.4 440.0 852.9 440.0 853.3 440.0 853.8 440.0 854.3 439.9 854.7 439.9 855.2 439.9 855.7 439.9 856.1 439.9 856.6 439.9 857.1 439.8 857.5 439.8 858.0 439.8 858.4 439.8 858.9 439.8 859.4 439.8 859.8 439.8 860.3 439.7 860.8 439.7 861.2 439.7 861.7 439.7 862.2 439.7 862.6 439.7 863.1 439.6 863.6 439.6 864.0 439.6 864.5 439.6 865.0 439.6 865.4 439.5 865.9 439.5 866.3 439.5 866.8 439.5 867.3 439.5 867.7 439.5 868.2 439.4 868.7 439.4 869.1 439.4 869.6 439.4 870.1 439.4 870.5 439.3 871.0 439.3 871.5 439.3 871.9 439.3 872.4 439.3 872.8 439.2 873.3 439.2 873.8 439.2 874.2 439.2 874.7 439.2 875.2 439.1 875.6 439.1 876.1 439.1 876.6 439.1 877.0 439.0 877.5 439.0 878.0 439.0 878.4 439.0 878.9 439.0 879.4 438.9 879.8 438.9 880.3 438.9 880.7 438.8 881.2 438.7 881.7 438.6 882.1 438.5 882.6 438.4 883.1 438.3 883.5 438.2 884.0 438.0 884.5 437.9 884.9 437.8 885.4 437.8 885.9 437.7 886.3 437.7 886.8 437.7 887.3 437.6 887.7 437.6 888.2 437.6 888.6 437.6 889.1 437.6 889.6 437.5 890.0 437.5 890.5 437.5 891.0 437.5 891.4 437.5 891.9 437.4 892.4 437.4 892.8 437.4 893.3 437.4 893.8 437.4 894.2 437.3 894.7 437.3 895.1 437.3 895.6 437.3 896.1 437.3 896.5 437.2 897.0 437.2 897.5 437.2 897.9 437.2 898.4 437.2 898.9 437.1 899.3 437.1 899.8 437.1 900.3 437.1 900.7 437.1 901.2 437.1 901.7 437.0 902.1 437.0 902.6 437.0 903.0 437.0 903.5 437.0 904.0 437.0 904.4 436.9 904.9 436.9 905.4 436.9 905.8 436.9 906.3 436.9 906.8 436.9 907.2 436.8 907.7 436.8 908.2 436.8 908.6 436.8 909.1 436.8 909.6 436.8 910.0 436.7 910.5 436.7 910.9 436.7 911.4 436.7 911.9 436.7 912.3 436.7 912.8 436.7 913.3 436.6 913.7 436.6 914.2 436.6 914.7 436.6 915.1 436.6 915.6 436.6 916.1 436.6 916.5 436.5 917.0 436.5 917.4 436.5 917.9 436.5 918.4 436.5 918.8 436.5 919.3 436.5 919.8 436.4 920.2 436.4 920.7 436.4 921.2 436.4 921.6 436.4 922.1 436.4 922.6 436.4 923.0 436.4 923.5 436.3 924.0 436.3 924.4 436.3 924.9 436.3 925.3 436.3 925.8 436.3 926.3 436.3 926.7 436.3 927.2 436.3 927.7 436.2 928.1 436.2 928.6 436.2 929.1 436.2 929.5 436.2 930.0 436.2 930.5 436.2 930.9 436.2 931.4 436.2 931.9 436.1 932.3 436.1 932.8 436.1 933.2 436.1 933.7 436.1 934.2 436.1 934.6 436.1 935.1 436.1 935.6 436.1 936.0 436.1 936.5 436.0 937.0 436.0 937.4 436.0 937.9 436.0 938.4 436.0 938.8 436.0 939.3 436.0 939.7 436.0 940.2 436.0 940.7 436.0 941.1 436.0 941.6 435.9 942.1 435.9 942.5 435.9 943.0 435.9 943.5 435.9 943.9 435.9 944.4 435.9 944.9 435.9 945.3 435.9 945.8 435.9 946.3 435.9 946.7 435.9 947.2 435.9 947.6 435.8 948.1 435.8 948.6 435.8 949.0 435.8 949.5 435.8 950.0 435.8 950.4 435.8 950.9 435.8 951.4 435.8 951.8 435.8 952.3 435.8 952.8 435.8 953.2 435.8 953.7 435.8 954.2 435.8 954.6 435.8 955.1 435.7 955.5 435.7 956.0 435.7 956.5 435.7 956.9 435.7 957.4 435.7 957.9 435.7 958.3 435.7 958.8 435.7 959.3 435.7 959.7 435.7 960.2 435.7 960.7 435.7 961.1 435.7 961.6 435.7 962.0 435.7 962.5 435.7 963.0 435.7 963.4 435.7 963.9 435.6 964.4 435.6 964.8 435.6 965.3 435.6 965.8 435.6 966.2 435.6 966.7 435.6 967.2 435.6 967.6 435.6 968.1 435.6 968.6 435.6 969.0 435.6 969.5 435.6 969.9 435.6 970.4 435.6 970.9 435.6 971.3 435.6 971.8 435.6 972.3 435.6 972.7 435.6 973.2 435.6 973.7 435.6 974.1 435.6 974.6 435.6 975.1 435.6 975.5 435.6 976.0 435.6 976.4 435.6 976.9 435.6 977.4 435.6 977.8 435.5 978.3 435.5 978.8 435.5 979.2 435.5 979.7 435.5 980.2 435.5 980.6 435.5 981.1 435.5 981.6 435.5 982.0 435.5 982.5 435.5 983.0 435.5 983.4 435.5 983.9 435.5 984.3 435.5 984.8 435.5 985.3 435.5 985.7 435.5 986.2 435.5 986.7 435.5 987.1 435.5 987.6 435.5 988.1 435.5 988.5 435.5 989.0 435.5 989.5 435.5 989.9 435.5 990.4 435.5 990.9 435.5 991.3 435.5 991.8 435.5 992.2 435.5 992.7 435.5 993.2 435.5 993.6 435.5 994.1 435.5 994.6 435.5 995.0 435.5 995.5 435.5 996.0 435.5 996.4 435.5 996.9 435.5 997.4 435.5 997.8 435.5 998.3 435.5 998.7 435.5"/>
<path stroke="#ee00ee" stroke-width="2" stroke-dasharray="6 3" d="M150.9 542.5 151.4 534.7 151.8 526.8 152.3 518.6 152.8 509.6 153.2 498.3 153.7 489.3 154.2 486.9 154.6 486.7 155.1 486.6 155.5 486.4 156.0 486.2 156.5 486.1 156.9 486.0 157.4 485.9 157.9 485.8 158.3 485.7 158.8 485.6 159.3 485.6 159.7 485.5 160.2 485.5 160.7 485.4 161.1 485.4 161.6 485.4 162.1 485.4 162.5 485.3 163.0 485.3 163.4 485.3 163.9 485.3 164.4 485.3 164.8 485.2 165.3 485.2 165.8 485.2 166.2 485.2 166.7 485.1 167.2 485.1 167.6 485.0 168.1 485.0 168.6 484.9 169.0 484.8 169.5 484.7 169.9 484.6 170.4 484.5 170.9 484.4 171.3 484.2 171.8 484.1 172.3 483.8 172.7 483.1 173.2 482.2 173.7 481.1 174.1 480.1 174.6 479.3 175.1 479.0 175.5 478.8 176.0 478.7 176.5 478.6 176.9 478.5 177.4 478.4 177.8 478.3 178.3 478.3 178.8 478.2 179.2 478.1 179.7 478.1 180.2 478.0 180.6 477.9 181.1 477.8 181.6 477.6 182.0 477.5 182.5 477.4 183.0 477.3 183.4 477.2 183.9 477.1 184.4 476.9 184.8 476.8 185.3 476.7 185.7 476.6 186.2 476.4 186.7 476.3 187.1 476.2 187.6 476.1 188.1 475.9 188.5 475.8 189.0 475.7 189.5 475.5 189.9 475.4 190.4 475.3 190.9 475.1 191.3 475.0 191.8 474.9 192.2 474.7 192.7 474.6 193.2 474.5 193.6 474.3 194.1 474.2 194.6 474.1 195.0 473.9 195.5 473.8 196.0 473.7 196.4 473.6 196.9 473.4 197.4 473.3 197.8 473.2 198.3 473.1 198.8 473.0 199.2 472.9 199.7 472.8 200.1 472.7 200.6 472.6 201.1 472.5 201.5 472.4 202.0 472.3 202.5 472.2 202.9 472.1 203.4 472.0 203.9 471.9 204.3 471.9 204.8 471.8 205.3 471.7 205.7 471.7 206.2 471.6 206.7 471.5 207.1 471.5 207.6 471.4 208.0 471.4 208.5 471.3 209.0 471.2 209.4 471.2 209.9 471.1 210.4 471.1 210.8 471.0 211.3 471.0 211.8 470.9 212.2 470.9 212.7 470.8 213.2 470.8 213.6 470.7 214.1 470.7 214.5 470.6 215.0 470.6 215.5 470.5 215.9 470.5 216.4 470.4 216.9 470.4 217.3 470.3 217.8 470.3 218.3 470.2 218.7 470.2 219.2 470.1 219.7 470.1 220.1 470.1 220.6 470.0 221.1 470.0 221.5 469.9 222.0 469.9 222.4 469.9 222.9 469.8 223.4 469.8 223.8 469.7 224.3 469.7 224.8 469.7 225.2 469.6 225.7 469.6 226.2 469.5 226.6 469.5 227.1 469.5 227.6 469.4 228.0 469.4 228.5 469.4 229.0 469.3 229.4 469.3 229.9 469.3 230.3 469.2 230.8 469.2 231.3 469.1 231.7 469.1 232.2 469.1 232.7 469.0 233.1 469.0 233.6 469.0 234.1 468.9 234.5 468.9 235.0 468.9 235.5 468.8 235.9 468.8 236.4 468.8 236.8 468.7 237.3 468.7 237.8 468.7 238.2 468.6 238.7 468.6 239.2 468.6 239.6 468.5 240.1 468.5 240.6 468.5 241.0 468.4 241.5 468.4 242.0 468.4 242.4 468.3 242.9 468.3 243.4 468.3 243.8 468.2 244.3 468.2 244.7 468.2 245.2 468.1 245.7 468.1 246.1 468.1 246.6 468.0 247.1 468.0 247.5 468.0 248.0 467.9 248.5 467.9 248.9 467.9 249.4 467.8 249.9 467.8 250.3 467.7 250.8 467.7 251.2 467.7 251.7 467.6 252.2 467.6 252.6 467.6 253.1 467.5 253.6 467.5 254.0 467.5 254.5 467.4 255.0 467.4 255.4 467.4 255.9 467.3 256.4 467.3 256.8 467.3 257.3 467.2 257.8 467.2 258.2 467.2 258.7 467.1 259.1 467.1 259.6 467.1 260.1 467.0 260.5 467.0 261.0 466.9 261.5 466.9 261.9 466.9 262.4 466.8 262.9 466.8 263.3 466.8 263.8 466.7 264.3 466.7 264.7 466.7 265.2 466.6 265.7 466.6 266.1 466.6 266.6 466.5 267.0 466.5 267.5 466.5 268.0 466.4 268.4 466.4 268.9 466.4 269.4 466.3 269.8 466.3 270.3 466.3 270.8 466.2 271.2 466.2 271.7 466.2 272.2 466.1 272.6 466.1 273.1 466.1 273.5 466.0 274.0 466.0 274.5 466.0 274.9 465.9 275.4 465.9 275.9 465.9 276.3 465.8 276.8 465.8 277.3 465.8 277.7 465.7 278.2 465.7 278.7 465.7 279.1 465.6 279.6 465.6 280.1 465.6 280.5 465.5 281.0 465.5 281.4 465.5 281.9 465.5 282.4 465.4 282.8 465.4 283.3 465.4 283.8 465.3 284.2 465.3 284.7 465.3 285.2 465.2 285.6 465.2 286.1 465.2 286.6 465.1 287.0 465.1 287.5 465.1 288.0 465.0 288.4 465.0 288.9 465.0 289.3 464.9 289.8 464.9 290.3 464.9 290.7 464.9 291.2 464.8 291.7 464.8 292.1 464.8 292.6 464.7 293.1 464.7 293.5 464.7 294.0 464.6 294.5 464.6 294.9 464.6 295.4 464.6 295.8 464.5 296.3 464.5 296.8 464.5 297.2 464.4 297.7 464.4 298.2 464.4 298.6 464.3 299.1 464.3 299.6 464.3 300.0 464.3 300.5 464.2 301.0 464.2 301.4 464.2 301.9 464.1 302.4 464.1 302.8 464.1 303.3 464.1 303.7 464.0 304.2 464.0 304.7 464.0 305.1 463.9 305.6 463.9 306.1 463.9 306.5 463.9 307.0 463.8 307.5 463.8 307.9 463.8 308.4 463.7 308.9 463.7 309.3 463.7 309.8 463.7 310.3 463.6 310.7 463.6 311.2 463.6 311.6 463.6 312.1 463.5 312.6 463.5 313.0 463.5 313.5 463.4 314.0 463.4 314.4 463.4 314.9 463.4 315.4 463.3 315.8 463.3 316.3 463.3 316.8 463.3 317.2 463.2 317.7 463.2 318.1 463.2 318.6 463.2 319.1 463.1 319.5 463.1 320.0 463.1 320.5 463.1 320.9 463.0 321.4 463.0 321.9 463.0 322.3 463.0 322.8 462.9 323.3 462.9 323.7 462.9 324.2 462.9 324.7 462.8 325.1 462.8 325.6 462.8 326.0 462.8 326.5 462.8 327.0 462.7 327.4 462.7 327.9 462.7 328.4 462.7 328.8 462.6 329.3 462.6 329.8 462.6 330.2 462.6 330.7 462.5 331.2 462.5 331.6 462.5 332.1 462.5 332.6 462.5 333.0 462.4 333.5 462.4 333.9 462.4 334.4 462.4 334.9 462.4 335.3 462.3 335.8 462.3 336.3 462.3 336.7 462.3 337.2 462.2 337.7 462.2 338.1 462.2 338.6 462.2 339.1 462.2 339.5 462.1 340.0 462.1 340.4 462.1 340.9 462.1 341.4 462.1 341.8 462.0 342.3 462.0 342.8 462.0 343.2 462.0 343.7 462.0 344.2 461.9 344.6 461.9 345.1 461.9 345.6 461.9 346.0 461.9 346.5 461.8 347.0 461.8 347.4 461.8 347.9 461.8 348.3 461.8 348.8 461.7 349.3 461.7 349.7 461.7 350.2 461.7 350.7 461.7 351.1 461.6 351.6 461.6 352.1 461.6 352.5 461.6 353.0 461.6 353.5 461.5 353.9 461.5 354.4 461.5 354.8 461.5 355.3 461.5 355.8 461.5 356.2 461.4 356.7 461.4 357.2 461.4 357.6 461.4 358.1 461.4 358.6 461.3 359.0 461.3 359.5 461.3 360.0 461.3 360.4 461.3 360.9 461.2 361.4 461.2 361.8 461.2 362.3 461.2 362.7 461.2 363.2 461.2 363.7 461.1 364.1 461.1 364.6 461.1 365.1 461.1 365.5 461.1 366.0 461.0 366.5 461.0 366.9 461.0 367.4 461.0 367.9 461.0 368.3 461.0 368.8 460.9 369.3 460.9 369.7 460.9 370.2 460.9 370.6 460.9 371.1 460.9 371.6 460.8 372.0 460.8 372.5 460.8 373.0 460.8 373.4 460.8 373.9 460.7 374.4 460.7 374.8 460.7 375.3 460.7 375.8 460.7 376.2 460.7 376.7 460.6 377.1 460.6 377.6 460.6 378.1 460.6 378.5 460.6 379.0 460.6 379.5 460.5 379.9 460.5 380.4 460.5 380.9 460.5 381.3 460.5 381.8 460.5 382.3 460.4 382.7 460.4 383.2 460.4 383.7 460.4 384.1 460.4 384.6 460.4 385.0 460.3 385.5 460.3 386.0 460.3 386.4 460.3 386.9 460.3 387.4 460.3 387.8 460.2 388.3 460.2 388.8 460.2 389.2 460.2 389.7 460.2 390.2 460.2 390.6 460.1 391.1 460.1 391.6 460.1 392.0 460.1 392.5 460.1 392.9 460.1 393.4 460.1 393.9 460.0 394.3 460.0 394.8 460.0 395.3 460.0 395.7 460.0 396.2 460.0 396.7 459.9 397.1 459.9 397.6 459.9 398.1 459.9 398.5 459.9 399.0 459.9 399.4 459.8 399.9 459.8 400.4 459.8 400.8 459.8 401.3 459.8 401.8 459.8 402.2 459.8 402.7 459.7 403.2 459.7 403.6 459.7 404.1 459.7 404.6 459.7 405.0 459.7 405.5 459.6 406.0 459.6 406.4 459.6 406.9 459.6 407.3 459.6 407.8 459.6 408.3 459.6 408.7 459.5 409.2 459.5 409.7 459.5 410.1 459.5 410.6 459.5 411.1 459.5 411.5 459.5 412.0 459.4 412.5 459.4 412.9 459.4 413.4 459.4 413.9 459.4 414.3 459.4 414.8 459.4 415.2 459.3 415.7 459.3 416.2 459.3 416.6 459.3 417.1 459.3 417.6 459.3 418.0 459.2 418.5 459.2 419.0 459.2 419.4 459.2 419.9 459.2 420.4 459.2 420.8 459.2 421.3 459.1 421.7 459.1 422.2 459.1 422.7 459.1 423.1 459.1 423.6 459.1 424.1 459.1 424.5 459.0 425.0 459.0 425.5 459.0 425.9 459.0 426.4 459.0 426.9 459.0 427.3 459.0 427.8 458.9 428.3 458.9 428.7 458.9 429.2 458.9 429.6 458.9 430.1 458.9 430.6 458.9 431.0 458.8 431.5 458.8 432.0 458.8 432.4 458.8 432.9 458.8 433.4 458.8 433.8 458.8 434.3 458.8 434.8 458.7 435.2 458.7 435.7 458.7 436.2 458.7 436.6 458.7 437.1 458.7 437.5 458.7 438.0 458.6 438.5 458.6 438.9 458.6 439.4 458.6 439.9 458.6 440.3 458.6 440.8 458.6 441.3 458.5 441.7 458.5 442.2 458.5 442.7 458.5 443.1 458.5 443.6 458.5 444.0 458.5 444.5 458.5 445.0 458.4 445.4 458.4 445.9 458.4 446.4 458.4 446.8 458.4 447.3 458.4 447.8 458.4 448.2 458.3 448.7 458.3 449.2 458.3 449.6 458.3 450.1 458.3 450.6 458.3 451.0 458.3 451.5 458.2 451.9 458.2 452.4 458.2 452.9 458.2 453.3 458.2 453.8 458.2 454.3 458.2 454.7 458.2 455.2 458.1 455.7 458.1 456.1 458.1 456.6 458.1 457.1 458.1 457.5 458.1 458.0 458.1 458.4 458.0 458.9 458.0 459.4 458.0 459.8 458.0 460.3 458.0 460.8 458.0 461.2 458.0 461.7 458.0 462.2 457.9 462.6 457.9 463.1 457.9 463.6 457.9 464.0 457.9 464.5 457.9 465.0 457.9 465.4 457.9 465.9 457.8 466.3 457.8 466.8 457.8 467.3 457.8 467.7 457.8 468.2 457.8 468.7 457.8 469.1 457.7 469.6 457.7 470.1 457.7 470.5 457.7 471.0 457.7 471.5 457.7 471.9 457.7 472.4 457.7 472.9 457.6 473.3 457.6 473.8 457.6 474.2 457.6 474.7 457.6 475.2 457.6 475.6 457.6 476.1 457.5 476.6 457.5 477.0 457.5 477.5 457.5 478.0 457.5 478.4 457.5 478.9 457.5 479.4 457.5 479.8 457.4 480.3 457.4 480.7 457.4 481.2 457.4 481.7 457.4 482.1 457.4 482.6 457.4 483.1 457.4 483.5 457.3 484.0 457.3 484.5 457.3 484.9 457.3 485.4 457.3 485.9 457.3 486.3 457.3 486.8 457.2 487.3 457.2 487.7 457.2 488.2 457.2 488.6 457.2 489.1 457.2 489.6 457.2 490.0 457.2 490.5 457.1 491.0 457.1 491.4 457.1 491.9 457.1 492.4 457.1 492.8 457.1 493.3 457.1 493.8 457.1 494.2 457.0 494.7 457.0 495.2 457.0 495.6 457.0 496.1 457.0 496.5 457.0 497.0 457.0 497.5 456.9 497.9 456.9 498.4 456.9 498.9 456.9 499.3 456.9 499.8 456.9 500.3 456.9 500.7 456.9 501.2 456.8 501.7 456.8 502.1 456.8 502.6 456.8 503.0 456.8 503.5 456.8 504.0 456.8 504.4 456.7 504.9 456.7 505.4 456.7 505.8 456.7 506.3 456.7 506.8 456.7 507.2 456.7 507.7 456.7 508.2 456.6 508.6 456.6 509.1 456.6 509.6 456.6 510.0 456.6 510.5 456.6 510.9 456.6 511.4 456.5 511.9 456.5 512.3 456.5 512.8 456.5 513.3 456.5 513.7 456.5 514.2 456.5 514.7 456.5 515.1 456.4 515.6 456.4 516.1 456.4 516.5 456.4 517.0 456.4 517.5 456.4 517.9 456.4 518.4 456.3 518.8 456.3 519.3 456.3 519.8 456.3 520.2 456.3 520.7 456.3 521.2 456.3 521.6 456.2 522.1 456.2 522.6 456.2 523.0 456.2 523.5 456.2 524.0 456.2 524.4 456.2 524.9 456.2 525.3 456.1 525.8 456.1 526.3 456.1 526.7 456.1 527.2 456.1 527.7 456.1 528.1 456.1 528.6 456.0 529.1 456.0 529.5 456.0 530.0 456.0 530.5 456.0 530.9 456.0 531.4 456.0 531.9 455.9 532.3 455.9 532.8 455.9 533.2 455.9 533.7 455.9 534.2 455.9 534.6 455.9 535.1 455.8 535.6 455.8 536.0 455.8 536.5 455.8 537.0 455.8 537.4 455.8 537.9 455.8 538.4 455.8 538.8 455.7 539.3 455.7 539.8 455.7 540.2 455.7 540.7 455.7 541.1 455.7 541.6 455.7 542.1 455.6 542.5 455.6 543.0 455.6 543.5 455.6 543.9 455.6 544.4 455.6 544.9 455.6 545.3 455.5 545.8 455.5 546.3 455.5 546.7 455.5 547.2 455.5 547.6 455.5 548.1 455.5 548.6 455.5 549.0 455.4 549.5 455.4 550.0 455.4 550.4 455.4 550.9 455.4 551.4 455.4 551.8 455.4 552.3 455.3 552.8 455.3 553.2 455.3 553.7 455.3 554.2 455.3 554.6 455.3 555.1 455.3 555.5 455.2 556.0 455.2 556.5 455.2 556.9 455.2 557.4 455.2 557.9 455.2 558.3 455.2 558.8 455.2 559.3 455.1 559.7 455.1 560.2 455.1 560.7 455.1 561.1 455.1 561.6 455.1 562.0 455.1 562.5 455.0 563.0 455.0 563.4 455.0 563.9 455.0 564.4 455.0 564.8 455.0 565.3 455.0 565.8 455.0 566.2 454.9 566.7 454.9 567.2 454.9 567.6 454.9 568.1 454.9 568.6 454.9 569.0 454.9 569.5 454.9 569.9 454.8 570.4 454.8 570.9 454.8 571.3 454.8 571.8 454.8 572.3 454.8 572.7 454.8 573.2 454.7 573.7 454.7 574.1 454.7 574.6 454.7 575.1 454.7 575.5 454.7 576.0 454.7 576.5 454.7 576.9 454.6 577.4 454.6 577.8 454.6 578.3 454.6 578.8 454.6 579.2 454.6 579.7 454.6 580.2 454.6 580.6 454.5 581.1 454.5 581.6 454.5 582.0 454.5 582.5 454.5 583.0 454.5 583.4 454.5 583.9 454.4 584.3 454.4 584.8 454.4 585.3 454.4 585.7 454.4 586.2 454.4 586.7 454.4 587.1 454.4 587.6 454.3 588.1 454.3 588.5 454.3 589.0 454.3 589.5 454.3 589.9 454.3 590.4 454.3 590.9 454.3 591.3 454.2 591.8 454.2 592.2 454.2 592.7 454.2 593.2 454.2 593.6 454.2 594.1 454.2 594.6 454.2 595.0 454.1 595.5 454.1 596.0 454.1 596.4 454.1 596.9 454.1 597.4 454.1 597.8 454.1 598.3 454.1 598.8 454.0 599.2 454.0 599.7 454.0 600.1 454.0 600.6 454.0 601.1 454.0 601.5 454.0 602.0 454.0 602.5 453.9 602.9 453.9 603.4 453.9 603.9 453.9 604.3 453.9 604.8 453.9 605.3 453.9 605.7 453.8 606.2 453.8 606.6 453.8 607.1 453.8 607.6 453.8 608.0 453.8 608.5 453.8 609.0 453.8 609.4 453.7 609.9 453.7 610.4 453.7 610.8 453.7 611.3 453.7 611.8 453.7 612.2 453.7 612.7 453.7 613.2 453.6 613.6 453.6 614.1 453.6 614.5 453.6 615.0 453.6 615.5 453.6 615.9 453.6 616.4 453.6 616.9 453.5 617.3 453.5 617.8 453.5 618.3 453.5 618.7 453.5 619.2 453.5 619.7 453.5 620.1 453.5 620.6 453.4 621.1 453.4 621.5 453.4 622.0 453.4 622.4 453.4 622.9 453.4 623.4 453.4 623.8 453.4 624.3 453.3 624.8 453.3 625.2 453.3 625.7 453.3 626.2 453.3 626.6 453.3 627.1 453.3 627.6 453.3 628.0 453.2 628.5 453.2 628.9 453.2 629.4 453.2 629.9 453.2 630.3 453.2 630.8 453.2 631.3 453.2 631.7 453.1 632.2 453.1 632.7 453.1 633.1 453.1 633.6 453.1 634.1 453.1 634.5 453.1 635.0 453.1 635.5 453.0 635.9 453.0 636.4 453.0 636.8 453.0 637.3 453.0 637.8 453.0 638.2 453.0 638.7 453.0 639.2 452.9 639.6 452.9 640.1 452.9 640.6 452.9 641.0 452.9 641.5 452.9 642.0 452.9 642.4 452.9 642.9 452.8 643.4 452.8 643.8 452.8 644.3 452.8 644.7 452.8 645.2 452.8 645.7 452.8 646.1 452.8 646.6 452.7 647.1 452.7 647.5 452.7 648.0 452.7 648.5 452.7 648.9 452.7 649.4 452.7 649.9 452.7 650.3 452.6 650.8 452.6 651.2 452.6 651.7 452.6 652.2 452.6 652.6 452.6 653.1 452.6 653.6 452.6 654.0 452.5 654.5 452.5 655.0 452.5 655.4 452.5 655.9 452.5 656.4 452.5 656.8 452.5 657.3 452.4 657.8 452.4 658.2 452.4 658.7 452.4 659.1 452.4 659.6 452.4 660.1 452.4 660.5 452.4 661.0 452.3 661.5 452.3 661.9 452.3 662.4 452.3 662.9 452.3 663.3 452.3 663.8 452.3 664.3 452.3 664.7 452.2 665.2 452.2 665.6 452.2 666.1 452.2 666.6 452.2 667.0 452.2 667.5 452.2 668.0 452.2 668.4 452.1 668.9 452.1 669.4 452.1 669.8 452.1 670.3 452.1 670.8 452.1 671.2 452.1 671.7 452.1 672.2 452.0 672.6 452.0 673.1 452.0 673.5 452.0 674.0 452.0 674.5 452.0 674.9 452.0 675.4 452.0 675.9 451.9 676.3 451.9 676.8 451.9 677.3 451.9 677.7 451.9 678.2 451.9 678.7 451.9 679.1 451.9 679.6 451.8 680.1 451.8 680.5 451.8 681.0 451.8 681.4 451.8 681.9 451.8 682.4 451.8 682.8 451.7 683.3 451.7 683.8 451.7 684.2 451.7 684.7 451.7 685.2 451.7 685.6 451.7 686.1 451.7 686.6 451.6 687.0 451.6 687.5 451.6 687.9 451.6 688.4 451.6 688.9 451.6 689.3 451.6 689.8 451.6 690.3 451.5 690.7 451.5 691.2 451.5 691.7 451.5 692.1 451.5 692.6 451.5 693.1 451.5 693.5 451.5 694.0 451.4 694.5 451.4 694.9 451.4 695.4 451.4 695.8 451.4 696.3 451.4 696.8 451.4 697.2 451.3 697.7 451.3 698.2 451.3 698.6 451.3 699.1 451.3 699.6 451.3 700.0 451.3 700.5 451.3 701.0 451.2 701.4 451.2 701.9 451.2 702.4 451.2 702.8 451.2 703.3 451.2 703.7 451.2 704.2 451.1 704.7 451.1 705.1 451.1 705.6 451.1 706.1 451.1 706.5 451.1 707.0 451.1 707.5 451.1 707.9 451.0 708.4 451.0 708.9 451.0 709.3 451.0 709.8 451.0 710.2 451.0 710.7 451.0 711.2 450.9 711.6 450.9 712.1 450.9 712.6 450.9 713.0 450.9 713.5 450.9 714.0 450.9 714.4 450.9 714.9 450.8 715.4 450.8 715.8 450.8 716.3 450.8 716.8 450.8 717.2 450.8 717.7 450.8 718.1 450.7 718.6 450.7 719.1 450.7 719.5 450.7 720.0 450.7 720.5 450.7 720.9 450.7 721.4 450.7 721.9 450.6 722.3 450.6 722.8 450.6 723.3 450.6 723.7 450.6 724.2 450.6 724.7 450.6 725.1 450.5 725.6 450.5 726.0 450.5 726.5 450.5 727.0 450.5 727.4 450.5 727.9 450.5 728.4 450.4 728.8 450.4 729.3 450.4 729.8 450.4 730.2 450.4 730.7 450.4 731.2 450.4 731.6 450.4 732.1 450.3 732.5 450.3 733.0 450.3 733.5 450.3 733.9 450.3 734.4 450.3 734.9 450.3 735.3 450.2 735.8 450.2 736.3 450.2 736.7 450.2 737.2 450.2 737.7 450.2 738.1 450.2 738.6 450.2 739.1 450.2 739.5 450.1 740.0 450.1 740.4 450.1 740.9 450.1 741.4 450.1 741.8 450.1 742.3 450.1 742.8 450.1 743.2 450.1 743.7 450.0 744.2 450.0 744.6 450.0 745.1 450.0 745.6 450.0 746.0 450.0 746.5 450.0 747.0 450.0 747.4 450.0 747.9 450.0 748.3 449.9 748.8 449.9 749.3 449.9 749.7 449.9 750.2 449.9 750.7 449.9 751.1 449.9 751.6 449.9 752.1 449.9 752.5 449.9 753.0 449.8 753.5 449.8 753.9 449.8 754.4 449.8 754.8 449.8 755.3 449.8 755.8 449.8 756.2 449.8 756.7 449.8 757.2 449.8 757.6 449.8 758.1 449.8 758.6 449.7 759.0 449.7 759.5 449.7 760.0 449.7 760.4 449.7 760.9 449.7 761.4 449.7 761.8 449.7 762.3 449.7 762.7 449.7 763.2 449.7 763.7 449.7 764.1 449.6 764.6 449.6 765.1 449.6 765.5 449.6 766.0 449.6 766.5 449.6 766.9 449.6 767.4 449.6 767.9 449.6 768.3 449.6 768.8 449.6 769.2 449.6 769.7 449.6 770.2 449.5 770.6 449.5 771.1 449.5 771.6 449.5 772.0 449.5 772.5 449.5 773.0 449.5 773.4 449.5 773.9 449.5 774.4 449.5 774.8 449.5 775.3 449.5 775.8 449.5 776.2 449.5 776.7 449.4 777.1 449.4 777.6 449.4 778.1 449.4 778.5 449.4 779.0 449.4 779.5 449.4 779.9 449.4 780.4 449.4 780.9 449.4 781.3 449.4 781.8 449.4 782.3 449.4 782.7 449.4 783.2 449.3 783.7 449.3 784.1 449.3 784.6 449.3 785.0 449.3 785.5 449.3 786.0 449.3 786.4 449.3 786.9 449.3 787.4 449.3 787.8 449.3 788.3 449.3 788.8 449.3 789.2 449.2 789.7 449.2 790.2 449.2 790.6 449.2 791.1 449.2 791.5 449.2 792.0 449.2 792.5 449.2 792.9 449.2 793.4 449.2 793.9 449.2 794.3 449.2 794.8 449.2 795.3 449.1 795.7 449.1 796.2 449.1 796.7 449.1 797.1 449.1 797.6 449.1 798.1 449.1 798.5 449.1 799.0 449.1 799.4 449.1 799.9 449.1 800.4 449.1 800.8 449.1 801.3 449.0 801.8 449.0 802.2 449.0 802.7 449.0 803.2 449.0 803.6 449.0 804.1 449.0 804.6 449.0 805.0 449.0 805.5 449.0 806.0 449.0 806.4 448.9 806.9 448.9 807.3 448.9 807.8 448.9 808.3 448.9 808.7 448.9 809.2 448.9 809.7 448.9 810.1 448.9 810.6 448.9 811.1 448.8 811.5 448.8 812.0 448.8 812.5 448.8 812.9 448.8 813.4 448.8 813.8 448.8 814.3 448.8 814.8 448.8 815.2 448.8 815.7 448.7 816.2 448.7 816.6 448.7 817.1 448.7 817.6 448.7 818.0 448.7 818.5 448.7 819.0 448.7 819.4 448.7 819.9 448.6 820.4 448.6 820.8 448.6 821.3 448.6 821.7 448.6 822.2 448.6 822.7 448.6 823.1 448.6 823.6 448.5 824.1 448.5 824.5 448.5 825.0 448.5 825.5 448.5 825.9 448.5 826.4 448.5 826.9 448.5 827.3 448.4 827.8 448.4 828.3 448.4 828.7 448.4 829.2 448.4 829.6 448.4 830.1 448.4 830.6 448.3 831.0 448.3 831.5 448.3 832.0 448.3 832.4 448.3 832.9 448.3 833.4 448.3 833.8 448.2 834.3 448.2 834.8 448.2 835.2 448.2 835.7 448.2 836.1 448.2 836.6 448.1 837.1 448.1 837.5 448.1 838.0 448.1 838.5 448.1 838.9 448.1 839.4 448.0 839.9 448.0 840.3 448.0 840.8 448.0 841.3 448.0 841.7 448.0 842.2 447.9 842.7 447.9 843.1 447.9 843.6 447.9 844.0 447.9 844.5 447.8 845.0 447.8 845.4 447.8 845.9 447.8 846.4 447.8 846.8 447.7 847.3 447.7 847.8 447.7 848.2 447.7 848.7 447.7 849.2 447.6 849.6 447.6 850.1 447.6 850.6 447.6 851.0 447.6 851.5 447.5 851.9 447.5 852.4 447.5 852.9 447.5 853.3 447.5 853.8 447.4 854.3 447.4 854.7 447.4 855.2 447.4 855.7 447.3 856.1 447.3 856.6 447.3 857.1 447.3 857.5 447.2 858.0 447.2 858.4 447.2 858.9 447.2 859.4 447.1 859.8 447.1 860.3 447.1 860.8 447.1 861.2 447.0 861.7 447.0 862.2 447.0 862.6 447.0 863.1 446.9 863.6 446.9 864.0 446.9 864.5 446.9 865.0 446.8 865.4 446.8 865.9 446.8 866.3 446.8 866.8 446.7 867.3 446.7 867.7 446.7 868.2 446.6 868.7 446.6 869.1 446.6 869.6 446.6 870.1 446.5 870.5 446.5 871.0 446.5 871.5 446.4 871.9 446.4 872.4 446.4 872.8 446.3 873.3 446.3 873.8 446.3 874.2 446.2 874.7 446.2 875.2 446.2 875.6 446.1 876.1 446.1 876.6 446.1 877.0 446.0 877.5 446.0 878.0 446.0 878.4 445.9 878.9 445.9 879.4 445.9 879.8 445.8 880.3 445.8 880.7 445.8 881.2 445.7 881.7 445.7 882.1 445.7 882.6 445.6 883.1 445.6 883.5 445.5 884.0 445.4 884.5 445.2 884.9 445.0 885.4 444.8 885.9 444.5 886.3 444.3 886.8 444.0 887.3 443.7 887.7 443.4 888.2 443.2 888.6 443.0 889.1 442.8 889.6 442.6 890.0 442.5 890.5 442.5 891.0 442.5 891.4 442.4 891.9 442.4 892.4 442.4 892.8 442.4 893.3 442.3 893.8 442.3 894.2 442.3 894.7 442.3 895.1 442.2 895.6 442.2 896.1 442.2 896.5 442.2 897.0 442.1 897.5 442.1 897.9 442.1 898.4 442.1 898.9 442.0 899.3 442.0 899.8 442.0 900.3 442.0 900.7 441.9 901.2 441.9 901.7 441.9 902.1 441.9 902.6 441.8 903.0 441.8 903.5 441.8 904.0 441.8 904.4 441.8 904.9 441.7 905.4 441.7 905.8 441.7 906.3 441.7 906.8 441.6 907.2 441.6 907.7 441.6 908.2 441.6 908.6 441.6 909.1 441.5 909.6 441.5 910.0 441.5 910.5 441.5 910.9 441.5 911.4 441.4 911.9 441.4 912.3 441.4 912.8 441.4 913.3 441.4 913.7 441.4 914.2 441.3 914.7 441.3 915.1 441.3 915.6 441.3 916.1 441.3 916.5 441.2 917.0 441.2 917.4 441.2 917.9 441.2 918.4 441.2 918.8 441.2 919.3 441.1 919.8 441.1 920.2 441.1 920.7 441.1 921.2 441.1 921.6 441.1 922.1 441.0 922.6 441.0 923.0 441.0 923.5 441.0 924.0 441.0 924.4 441.0 924.9 441.0 925.3 440.9 925.8 440.9 926.3 440.9 926.7 440.9 927.2 440.9 927.7 440.9 928.1 440.9 928.6 440.8 929.1 440.8 929.5 440.8 930.0 440.8 930.5 440.8 930.9 440.8 931.4 440.8 931.9 440.7 932.3 440.7 932.8 440.7 933.2 440.7 933.7 440.7 934.2 440.7 934.6 440.7 935.1 440.7 935.6 440.7 936.0 440.6 936.5 440.6 937.0 440.6 937.4 440.6 937.9 440.6 938.4 440.6 938.8 440.6 939.3 440.6 939.7 440.6 940.2 440.5 940.7 440.5 941.1 440.5 941.6 440.5 942.1 440.5 942.5 440.5 943.0 440.5 943.5 440.5 943.9 440.5 944.4 440.5 944.9 440.4 945.3 440.4 945.8 440.4 946.3 440.4 946.7 440.4 947.2 440.4 947.6 440.4 948.1 440.4 948.6 440.4 949.0 440.4 949.5 440.4 950.0 440.3 950.4 440.3 950.9 440.3 951.4 440.3 951.8 440.3 952.3 440.3 952.8 440.3 953.2 440.3 953.7 440.3 954.2 440.3 954.6 440.3 955.1 440.3 955.5 440.3 956.0 440.3 956.5 440.2 956.9 440.2 957.4 440.2 957.9 440.2 958.3 440.2 958.8 440.2 959.3 440.2 959.7 440.2 960.2 440.2 960.7 440.2 961.1 440.2 961.6 440.2 962.0 440.2 962.5 440.2 963.0 440.2 963.4 440.2 963.9 440.2 964.4 440.2 964.8 440.1 965.3 440.1 965.8 440.1 966.2 440.1 966.7 440.1 967.2 440.1 967.6 440.1 968.1 440.1 968.6 440.1 969.0 440.1 969.5 440.1 969.9 440.1 970.4 440.1 970.9 440.1 971.3 440.1 971.8 440.1 972.3 440.1 972.7 440.1 973.2 440.1 973.7 440.1 974.1 440.1 974.6 440.1 975.1 440.1 975.5 440.1 976.0 440.1 976.4 440.1 976.9 440.1 977.4 440.1 977.8 440.1 978.3 440.0 978.8 440.0 979.2 440.0 979.7 440.0 980.2 440.0 980.6 440.0 981.1 440.0 981.6 440.0 982.0 440.0 982.5 440.0 983.0 440.0 983.4 440.0 983.9 440.0 984.3 440.0 984.8 440.0 985.3 440.0 985.7 440.0 986.2 440.0 986.7 440.0 987.1 440.0 987.6 440.0 988.1 440.0 988.5 440.0 989.0 440.0 989.5 440.0 989.9 440.0 990.4 440.0 990.9 440.0 991.3 440.0 991.8 440.0 992.2 440.0 992.7 440.0 993.2 440.0 993.6 440.0 994.1 440.0 994.6 440.0 995.0 440.0 995.5 440.0 996.0 440.0 996.4 440.0 996.9 440.0 997.4 440.0 997.8 440.0 998.3 440.0 998.7 440.0"/>
</g>
<text x="658.3" y="19" font-size="26.2" font-weight="bold" fill="#000" text-anchor="middle">Computation Cost (10/01/2005 - 09/30/2010)</text>
<text x="656.5" y="641.8" font-size="26.2" fill="#262626" text-anchor="middle">Simulation Time Step (Day)</text>
<text transform="translate(52,142.7) rotate(-90)" font-size="25.85" fill="#000" text-anchor="middle">Time in hours</text>
<text transform="translate(84.4,142.9) rotate(-90)" font-size="25.85" fill="#000" text-anchor="middle">(log-scale)</text>
<text transform="translate(1244,143.9) rotate(-90)" font-size="25.85" fill="#0000d0" text-anchor="middle">Prcp(m/day)</text>
<text transform="translate(19.4,460.1) rotate(-90)" font-size="25.85" fill="#262626" text-anchor="middle">Cumulative time</text>
<text transform="translate(52,461.0) rotate(-90)" font-size="25.85" fill="#262626" text-anchor="middle">in hours</text>
<text transform="translate(84.4,461.1) rotate(-90)" font-size="25.85" fill="#262626" text-anchor="middle">(log-scale)</text>
<rect x="1017.5" y="43.1" width="142.0" height="144.5" fill="#fff" stroke="#3a3a3a" stroke-width="1.2"/>
<path fill="none" stroke="#e00000" stroke-width="2" d="M1021.8 58.6H1052"/>
<text x="1055" y="68.2" font-size="21.15" fill="#000">fine</text>
<path fill="none" stroke="#00ee00" stroke-width="4.5" d="M1021.8 86.9H1052"/>
<text x="1055" y="96.5" font-size="21.15" fill="#000">coarse</text>
<path fill="none" stroke="#ee00ee" stroke-width="2" stroke-dasharray="8 2 4 2" d="M1021.8 115.1H1052"/>
<text x="1055" y="124.7" font-size="21.15" fill="#000">nested-gw</text>
<path fill="none" stroke="#000" stroke-width="2" stroke-dasharray="2 2" d="M1021.8 143.4H1052"/>
<text x="1055" y="153.0" font-size="21.15" fill="#000">nested-wl</text>
<path fill="none" stroke="#6060f0" stroke-width="1.2" d="M1021.8 171.6H1052"/>
<text x="1055" y="181.2" font-size="21.15" fill="#000">prcp</text>
<rect x="1017.5" y="360.0" width="142.0" height="117.0" fill="#fff" stroke="#3a3a3a" stroke-width="1.2"/>
<path fill="none" stroke="#c00000" stroke-width="2.4" d="M1021.8 375.9H1052"/>
<text x="1055" y="385.5" font-size="21.15" fill="#000">fine</text>
<path fill="none" stroke="#00ee00" stroke-width="4.5" d="M1021.8 404.0H1052"/>
<text x="1055" y="413.6" font-size="21.15" fill="#000">coarse</text>
<path fill="none" stroke="#000" stroke-width="2" stroke-dasharray="2 2" d="M1021.8 432.4H1052"/>
<text x="1055" y="442.0" font-size="21.15" fill="#000">nested-wl</text>
<path fill="none" stroke="#ee00ee" stroke-width="2" stroke-dasharray="8 2 4 2" d="M1021.8 461.0H1052"/>
<text x="1055" y="470.6" font-size="21.15" fill="#000">nested-gw</text>
</svg></body></html>
